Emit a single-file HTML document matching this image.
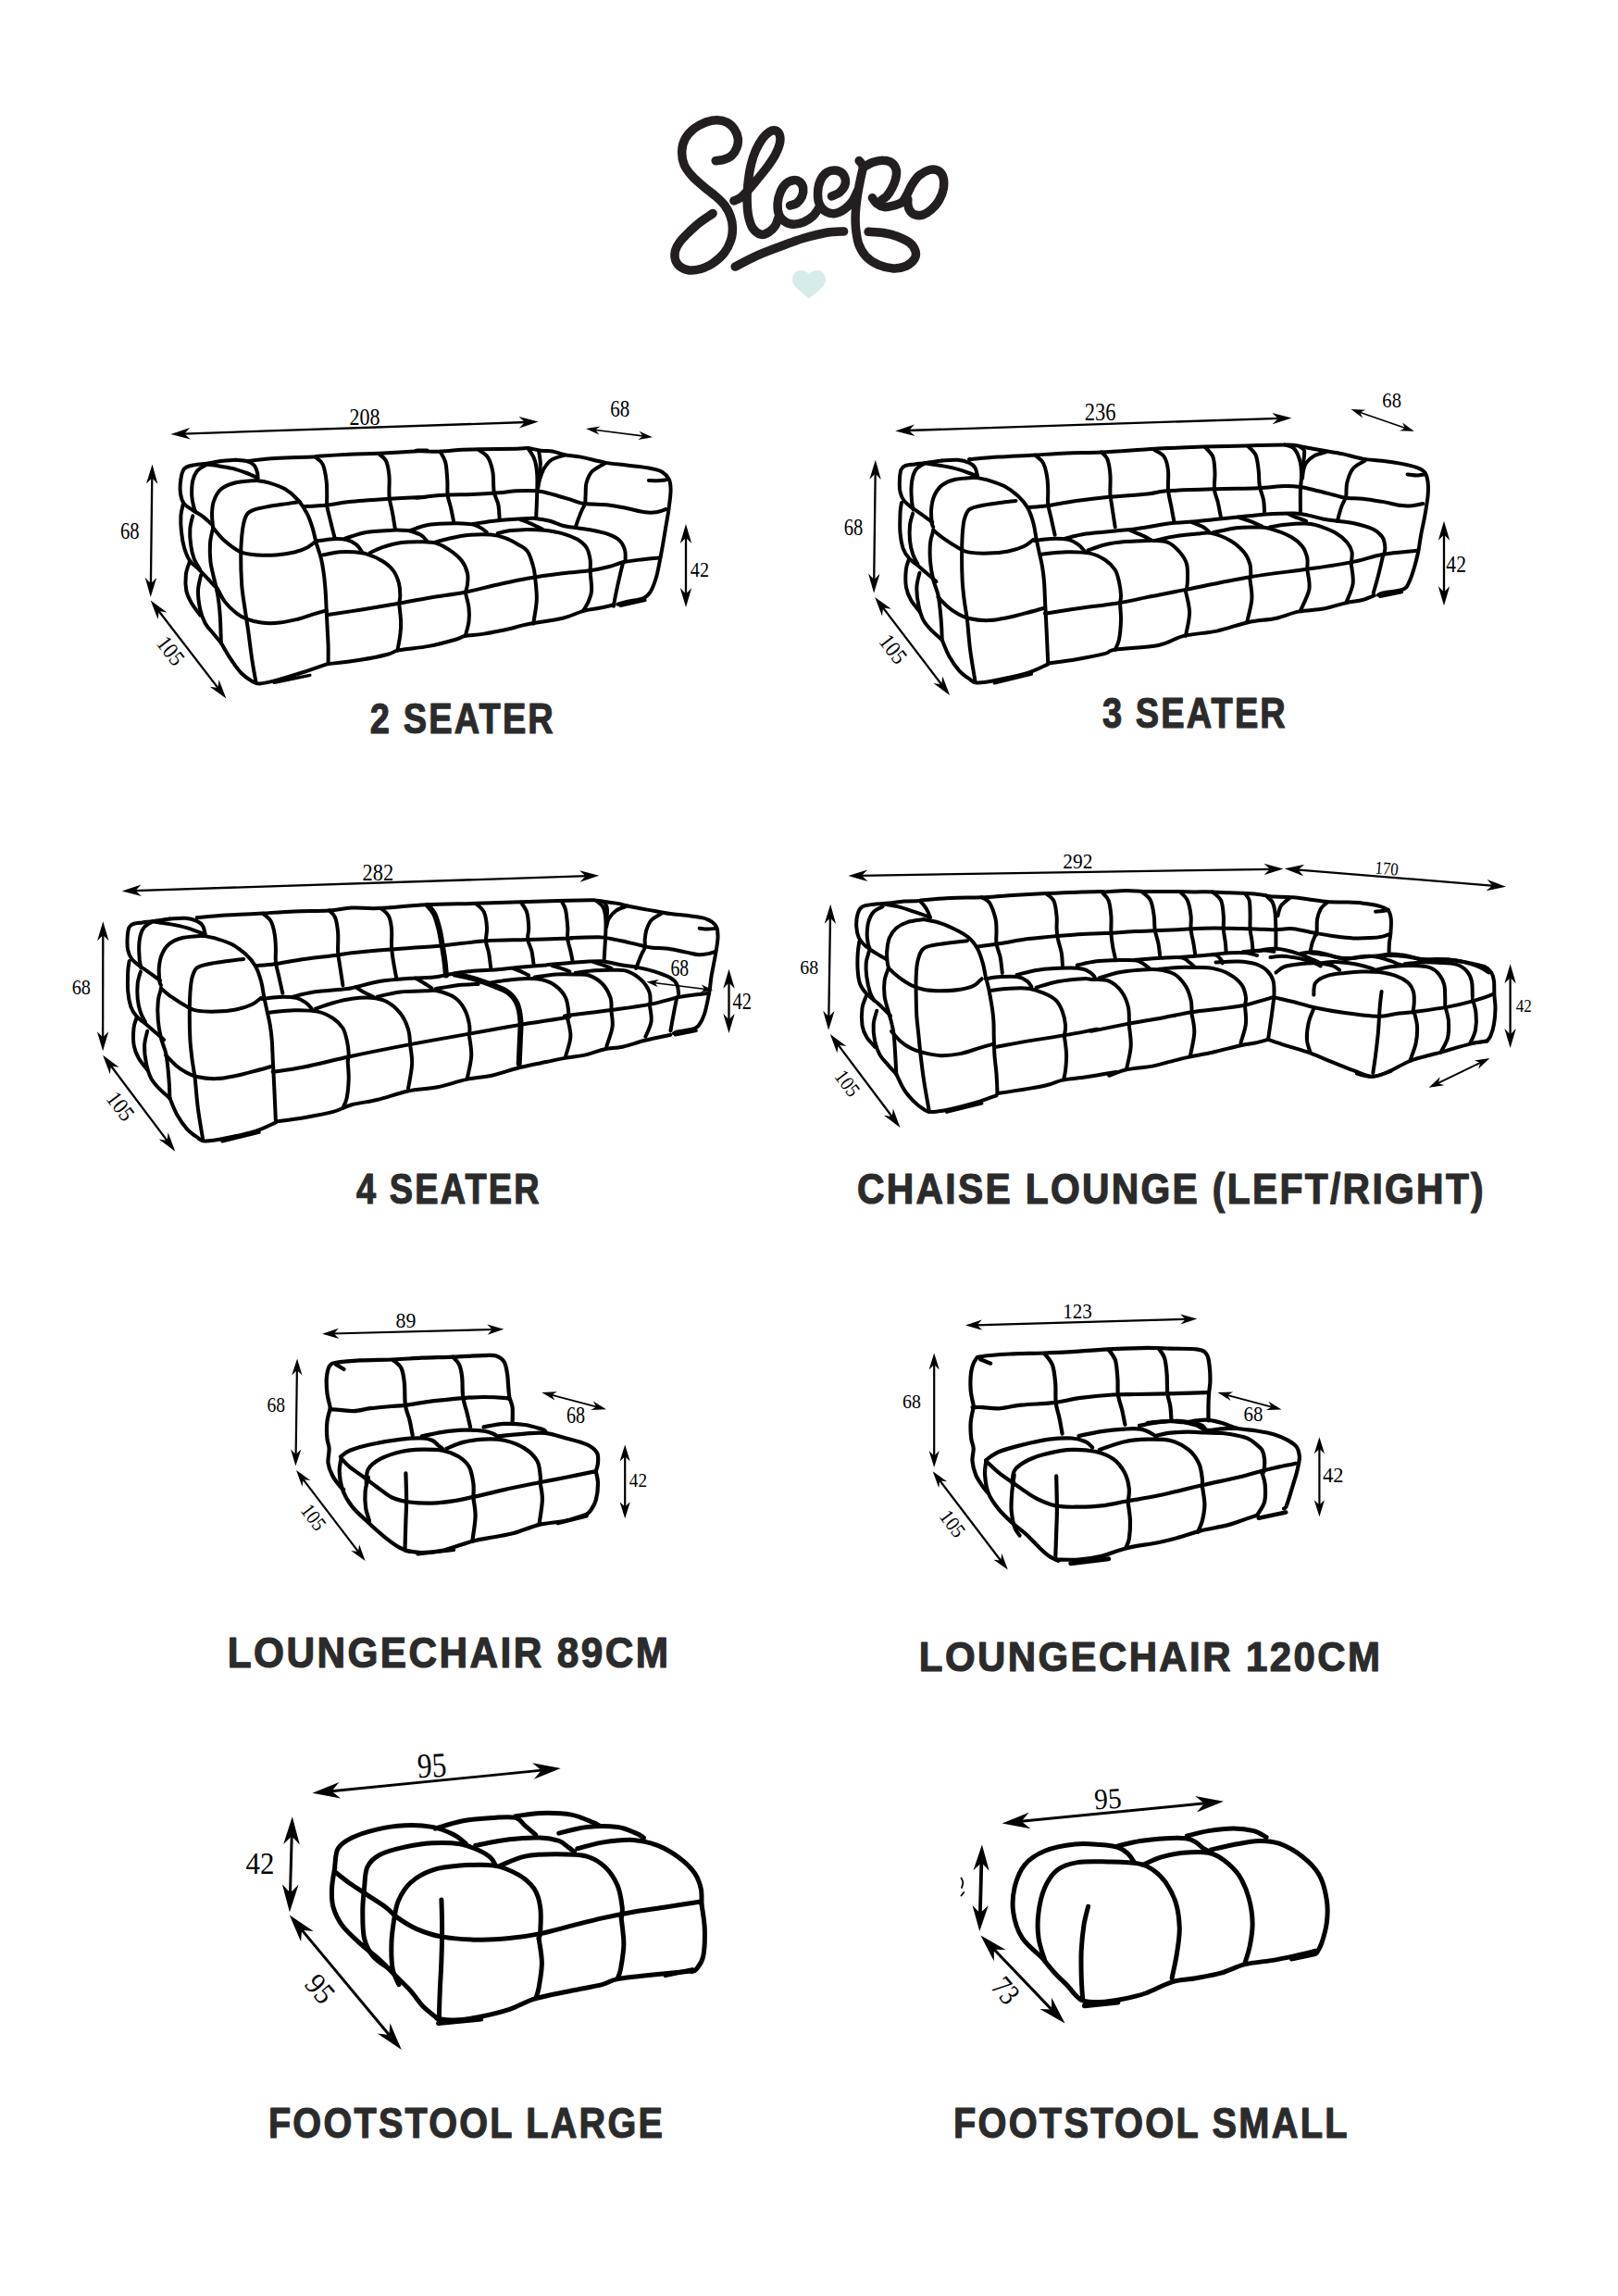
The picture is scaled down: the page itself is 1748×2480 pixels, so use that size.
<!DOCTYPE html>
<html><head><meta charset="utf-8"><title>Sleepo</title>
<style>html,body{margin:0;padding:0;background:#fff;}svg{display:block;}</style></head>
<body><svg width="1748" height="2480" viewBox="0 0 1748 2480">
<rect width="1748" height="2480" fill="#fff"/>
<path d="M773.2 173.7 C774.6 173.5 778.9 173.3 781.8 172.4 C784.7 171.5 788.1 170.3 790.5 168.1 C792.8 165.9 794.9 162.5 796 159.4 C797.2 156.4 797.7 152.9 797.3 149.6 C796.8 146.3 795.5 142.6 793.5 139.7 C791.6 136.8 788.7 133.9 785.5 132.2 C782.3 130.6 778.3 129.8 774.4 129.8 C770.5 129.8 766.1 130.7 762 132.2 C757.9 133.8 753.3 136.2 749.7 139 C746.1 141.9 742.6 145.5 740.4 149.6 C738.2 153.6 736.9 158.4 736.7 163.2 C736.5 167.9 737.3 173.5 739.2 178 C741 182.5 744.2 186.3 747.8 190.3 C751.4 194.4 756.6 198.5 760.8 202.1 C765 205.7 769.4 208.7 773.2 212 C776.9 215.3 780.4 218.3 783 221.9 C785.7 225.5 787.8 229.6 789.2 233.6 C790.6 237.6 791.4 241.6 791.4 246 C791.5 250.3 791 255 789.5 259.6 C788 264.1 785.7 269 782.4 273.2 C779.2 277.3 774.3 281.4 770.1 284.3 C765.8 287.2 761.3 289.2 757.1 290.5 C752.9 291.7 748.4 292.4 744.7 292 C741 291.5 737.3 289.9 734.8 288 C732.3 286.1 730.5 283.5 729.6 280.6 C728.8 277.7 728.8 273.9 729.6 270.7 C730.5 267.4 732.1 264.4 734.6 261.1 C737.1 257.7 741.2 253.7 744.7 250.3 C748.3 246.9 751.6 243.7 755.8 240.4 C760.1 237.1 767.7 232.2 770.1 230.5" fill="none" stroke="#231f20" stroke-width="9.5" stroke-linecap="round" stroke-linejoin="round"/>
<path d="M792.9 216.9 C794.2 216.3 797.7 215.3 800.3 213.2 C803 211.2 805.9 208 809 204.6 C812.1 201.2 815.6 196.8 818.9 192.8 C822.2 188.8 825.7 184.7 828.8 180.5 C831.9 176.2 835.2 171.7 837.4 167.5 C839.7 163.3 841.6 158.8 842.4 155.1 C843.2 151.4 843 147.6 842.1 145.2 C841.3 142.9 839.2 141.4 837.4 140.9 C835.6 140.4 833.5 140.9 831.2 142.4 C829 143.8 826.3 146.2 823.8 149.6 C821.4 152.9 818.5 157.9 816.4 162.5 C814.4 167.2 812.8 171.9 811.5 177.4 C810.1 182.8 809.1 189.2 808.4 195.3 C807.7 201.4 807.1 207.7 807.1 213.8 C807.1 220 807.4 226.9 808.4 232.4 C809.4 237.8 811 243.1 813.3 246.6 C815.7 250.1 819.6 252.8 822.6 253.4 C825.6 254 828.8 251.8 831.2 250.3 C833.7 248.8 835.9 246.5 837.4 244.1 C839 241.7 840 237.4 840.5 236.1" fill="none" stroke="#231f20" stroke-width="9.5" stroke-linecap="round" stroke-linejoin="round"/>
<path d="M853.5 221.9 C854.7 221.5 858.8 221 860.9 219.4 C863.1 217.7 865.3 214.7 866.5 212 C867.6 209.3 868.1 205.9 867.7 203.3 C867.3 200.7 865.8 198 864 196.5 C862.3 195.1 859.7 194.4 857.2 194.7 C854.7 195 851.5 196.2 849.2 198.4 C846.8 200.5 844.5 204 843 207.7 C841.5 211.3 840.4 215.9 840.1 220 C839.9 224.1 840.4 229.1 841.8 232.4 C843.2 235.7 845.9 238.1 848.6 239.8 C851.2 241.4 854.5 242.3 857.8 242.3 C861.1 242.3 864.9 241.2 868.3 239.8 C871.7 238.3 875.5 236.1 878.2 233.6 C880.9 231.1 883.4 226.4 884.4 225" fill="none" stroke="#231f20" stroke-width="9.5" stroke-linecap="round" stroke-linejoin="round"/>
<path d="M898.5 212 C900 211.3 904.8 209.8 907.2 207.7 C909.6 205.5 912.4 202.1 913.1 199 C913.8 195.9 913 191.6 911.5 189.1 C910 186.6 907.1 184.7 904.1 184.2 C901.1 183.7 896.6 184.2 893.6 186 C890.6 187.9 887.9 191.5 886.2 195.3 C884.5 199.1 883.6 204.6 883.5 208.9 C883.4 213.2 884.1 218 885.6 221.2 C887 224.5 889.6 227.1 892.4 228.7 C895.1 230.2 899 230.9 902.2 230.5 C905.5 230.1 909 228.4 912.1 226.2 C915.2 224 918.4 220.8 920.8 217.5 C923.2 214.2 925.4 208.3 926.4 206.4" fill="none" stroke="#231f20" stroke-width="9.5" stroke-linecap="round" stroke-linejoin="round"/>
<path d="M928.2 173.6 C928.8 174.6 931.9 176.9 932.2 179.7 C932.6 182.5 931 186.5 930.2 190.6 C929.4 194.7 928.3 199.7 927.5 204.2 C926.7 208.7 926 213.3 925.4 217.8 C924.9 222.3 924.4 226.7 924.2 231.4 C924.1 236.1 923.9 240.7 924.5 246 C925.1 251.3 925.7 258.1 927.6 263.3 C929.4 268.4 932 273.1 935.6 276.9 C939.2 280.7 944.3 284 949.2 286.1 C954.2 288.3 960.3 289.6 965.3 289.9 C970.2 290.1 975.1 289.1 978.9 287.4 C982.7 285.6 986.5 282.1 988.2 279.3 C989.8 276.6 989.7 273.6 988.8 270.7 C987.8 267.8 985.9 264.6 982.6 262 C979.3 259.5 973.7 257 969 255.2 C964.3 253.5 959.3 252.4 954.2 251.5 C949 250.7 940.8 250.5 938.1 250.3" fill="none" stroke="#231f20" stroke-width="9.5" stroke-linecap="round" stroke-linejoin="round"/>
<path d="M933.6 180.4 C935.1 179.6 939 176.8 942.4 175.6 C945.8 174.4 950.5 173.2 954 173.3 C957.5 173.3 961.1 174.2 963.5 176 C965.9 177.7 967.6 180.9 968.3 183.8 C968.9 186.7 968.4 190 967.6 193.3 C966.8 196.6 965.1 200.5 963.5 203.5 C961.9 206.6 960 209.5 958.1 211.7 C956.1 213.8 953 215.6 952 216.4" fill="none" stroke="#231f20" stroke-width="9.5" stroke-linecap="round" stroke-linejoin="round"/>
<path d="M942.4 213.7 C943.2 214.7 945 218.2 947.2 219.8 C949.3 221.5 952.2 223.2 955.4 223.6 C958.5 223.9 963.1 222.7 966.2 221.9 C969.4 221 972.1 220.4 974.4 218.5 C976.7 216.5 978 213.5 979.8 210.3 C981.6 207.1 983 202.9 985.3 199.4 C987.5 195.9 990.3 191.9 993.4 189.2 C996.6 186.6 1001 184.3 1004.3 183.5 C1007.6 182.6 1010.7 182.8 1013.1 184.1 C1015.6 185.4 1017.9 188 1018.9 191.3 C1019.9 194.5 1019.9 199.4 1019.3 203.5 C1018.6 207.6 1017 212 1014.8 215.7 C1012.7 219.5 1009.3 223.6 1006.3 226.3 C1003.3 229 999.9 231.2 996.8 232.1 C993.8 233 990.3 232.5 988 231.7 C985.7 230.9 984.1 229.1 982.9 227.3 C981.7 225.5 981.2 223.2 980.8 221.2 C980.5 219.1 980.8 216.1 980.8 215.1" fill="none" stroke="#231f20" stroke-width="9.5" stroke-linecap="round" stroke-linejoin="round"/>
<path d="M794.2 288 C798.3 285.9 810.6 279.3 818.9 275.6 C827.1 272 835.4 269 843.6 266 C851.9 262.9 860.1 259.8 868.3 257.3 C876.6 254.9 885.8 252.4 893.1 251.2 C900.3 249.9 908.5 250.1 911.6 249.9" fill="none" stroke="#231f20" stroke-width="9.5" stroke-linecap="round" stroke-linejoin="round"/>
<path d="M874 296.5 C870 290 856 289.5 856 302.5 C856.5 310 866 315.5 874 322.6 C882 315.5 891.5 310 892 302.5 C892 289.5 878 290 874 296.5 Z" fill="#d6ecea"/>
<g transform="translate(401.1 791.9) scale(0.8274 1)"><text x="-1.6" y="0" font-family="Liberation Sans" font-weight="bold" font-size="45.93" letter-spacing="2.6" fill="#2b2b2b" stroke="#2b2b2b" stroke-width="1.2" stroke-linejoin="round">2 SEATER</text></g>
<g transform="translate(1191.8 786.4) scale(0.8220 1)"><text x="-1.1" y="0" font-family="Liberation Sans" font-weight="bold" font-size="46.22" letter-spacing="2.6" fill="#2b2b2b" stroke="#2b2b2b" stroke-width="1.2" stroke-linejoin="round">3 SEATER</text></g>
<g transform="translate(385.5 1300.2) scale(0.8260 1)"><text x="-0.7" y="0" font-family="Liberation Sans" font-weight="bold" font-size="45.93" letter-spacing="2.6" fill="#2b2b2b" stroke="#2b2b2b" stroke-width="1.2" stroke-linejoin="round">4 SEATER</text></g>
<g transform="translate(927.6 1300.1) scale(0.8915 1)"><text x="-1.9" y="0" font-family="Liberation Sans" font-weight="bold" font-size="45.79" letter-spacing="2.6" fill="#2b2b2b" stroke="#2b2b2b" stroke-width="1.2" stroke-linejoin="round">CHAISE LOUNGE (LEFT/RIGHT)</text></g>
<g transform="translate(248.6 1801.1) scale(0.9257 1)"><text x="-3.1" y="0" font-family="Liberation Sans" font-weight="bold" font-size="45.79" letter-spacing="2.6" fill="#2b2b2b" stroke="#2b2b2b" stroke-width="1.2" stroke-linejoin="round">LOUNGECHAIR 89CM</text></g>
<g transform="translate(995.6 1805) scale(0.9292 1)"><text x="-3" y="0" font-family="Liberation Sans" font-weight="bold" font-size="45.20" letter-spacing="2.6" fill="#2b2b2b" stroke="#2b2b2b" stroke-width="1.2" stroke-linejoin="round">LOUNGECHAIR 120CM</text></g>
<g transform="translate(292.6 2309.2) scale(0.8624 1)"><text x="-3.1" y="0" font-family="Liberation Sans" font-weight="bold" font-size="45.93" letter-spacing="2.6" fill="#2b2b2b" stroke="#2b2b2b" stroke-width="1.2" stroke-linejoin="round">FOOTSTOOL LARGE</text></g>
<g transform="translate(1032.6 2309.2) scale(0.8663 1)"><text x="-3.1" y="0" font-family="Liberation Sans" font-weight="bold" font-size="45.93" letter-spacing="2.6" fill="#2b2b2b" stroke="#2b2b2b" stroke-width="1.2" stroke-linejoin="round">FOOTSTOOL SMALL</text></g>
<path d="M254.7 496.8 C256.7 497 263.3 497 266.6 498 C269.9 498.9 272.6 500.4 274.5 502.5 C276.4 504.6 277.4 508.1 278 510.4 C278.7 512.7 278.4 515.4 278.4 516.4" fill="none" stroke="#000" stroke-width="4.0" stroke-linecap="round" stroke-linejoin="round"/>
<path d="M223.1 501.5 C225 501.8 230.3 502.4 234.9 503.1 C239.5 503.8 245.5 504.6 250.8 505.9 C256 507.2 262 509.3 266.6 511 C271.2 512.8 276.5 515.5 278.4 516.4" fill="none" stroke="#000" stroke-width="4.0" stroke-linecap="round" stroke-linejoin="round"/>
<path d="M266.6 498 C271.9 497.5 286.4 495.7 298.2 495 C310.1 494.3 330.2 494 337.8 493.6 C345.4 493.3 337.1 493.3 343.7 492.8 C350.3 492.3 366.5 491.2 377.3 490.7 C388.2 490.1 395.2 490.3 409 489.7 C422.8 489 453.2 487.2 460 486.7 C466.8 486.2 447.1 486.5 449.7 486.7 C452.2 486.9 467.1 487.9 475.4 487.7 C483.6 487.5 491.9 486.1 499.1 485.7 C506.4 485.3 509 485.5 518.9 485.3 C528.8 485.2 549.9 484.9 558.4 484.7 C567 484.5 566 483.8 570.3 484.1 C574.6 484.5 579.5 486.1 584.2 486.7 C588.8 487.3 593.7 486.9 598 487.7 C602.3 488.4 604.9 490.3 609.9 491.2 C614.8 492.2 620.4 492.2 627.7 493.6 C634.9 495 645.1 498.1 653.4 499.6 C661.6 501 669.2 501.5 677.1 502.5 C685 503.5 694.6 504.3 700.8 505.5 C707.1 506.6 711.1 507.5 714.7 509.4 C718.3 511.4 720.9 514.1 722.6 517.4 C724.2 520.7 724.6 523.9 724.6 529.2 C724.6 534.5 723.5 542.1 722.6 549 C721.7 555.9 720.2 563.8 719 570.8 C717.9 577.7 716.7 584.6 715.7 590.5 C714.6 596.5 713.9 600.7 712.7 606.4 C711.6 612 710.4 618.7 708.8 624.2 C707.1 629.6 705.1 635.3 702.8 639 C700.5 642.7 699.2 644.5 694.9 646.3 C690.6 648.1 681.7 648.8 677.1 649.9 C672.5 651 668.9 652.3 667.2 652.8" fill="none" stroke="#000" stroke-width="4.0" stroke-linecap="round" stroke-linejoin="round"/>
<path d="M340.7 493.6 C342.1 494.9 346.7 497.2 348.7 501.5 C350.6 505.8 351.9 513.7 352.6 519.3 C353.4 524.9 353.1 530.7 353.2 535.2 C353.3 539.6 352.8 542.4 353.2 546 C353.6 549.7 354.7 553.1 355.6 556.9 C356.5 560.7 357.6 564.8 358.5 568.8 C359.5 572.7 361 578.7 361.5 580.6" fill="none" stroke="#000" stroke-width="4.0" stroke-linecap="round" stroke-linejoin="round"/>
<path d="M409 490.1 C410.3 491.3 415 493.7 416.9 497.6 C418.8 501.5 419.9 508.1 420.4 513.4 C421 518.7 420.4 524.9 420.4 529.2 C420.5 533.5 420.3 535.2 420.8 539.1 C421.4 543.1 422.8 547.7 423.8 553 C424.8 558.2 426.3 567.8 426.8 570.8" fill="none" stroke="#000" stroke-width="4.0" stroke-linecap="round" stroke-linejoin="round"/>
<path d="M475.4 487.7 C476.4 489.7 480 494.3 481.3 499.6 C482.6 504.8 482.9 513.4 483.3 519.3 C483.7 525.3 483 530.2 483.7 535.2 C484.3 540.1 486.2 544.2 487.2 549 C488.3 553.8 489.7 561.4 490.2 563.8" fill="none" stroke="#000" stroke-width="4.0" stroke-linecap="round" stroke-linejoin="round"/>
<path d="M516.9 485.7 C518.6 487 524.2 489.7 526.8 493.6 C529.4 497.6 531.2 503.2 532.3 509.4 C533.5 515.7 532.7 525.3 533.7 531.2 C534.7 537.1 537.3 540.1 538.3 545 C539.3 550 539.4 558.2 539.7 560.9" fill="none" stroke="#000" stroke-width="4.0" stroke-linecap="round" stroke-linejoin="round"/>
<path d="M570.3 484.1 C571.5 486 575.6 491.1 577.2 495.6 C578.9 500.1 579.7 505.2 580.2 511.4 C580.7 517.7 580.4 525.3 580.2 533.2 C580 541.1 579.4 554.6 579.2 558.9" fill="none" stroke="#000" stroke-width="4.0" stroke-linecap="round" stroke-linejoin="round"/>
<path d="M582.2 487.7 C582.4 489.7 583.6 495.6 583.8 499.6 C583.9 503.5 583.5 507.8 583.2 511.4 C582.8 515 582 519.7 581.8 521.3" fill="none" stroke="#000" stroke-width="4.0" stroke-linecap="round" stroke-linejoin="round"/>
<path d="M609.9 491.6 C607.6 492.5 599.6 494.3 596 496.6 C592.4 498.9 590.3 502 588.1 505.5 C586 508.9 584.3 513.7 583.2 517.4 C582 521 581.5 525.6 581.2 527.2" fill="none" stroke="#000" stroke-width="4.0" stroke-linecap="round" stroke-linejoin="round"/>
<path d="M327.9 547 C332.2 546.8 345.4 546.3 353.6 545.4 C361.8 544.6 366.8 543.1 377.3 542.1 C387.9 541 403.1 540 416.9 539.1 C430.7 538.2 454.5 537 460 536.7 C465.5 536.5 446.4 538.1 449.7 537.7 C452.9 537.4 469.4 535.4 479.3 534.8 C489.2 534.1 499.1 534.4 509 534 C518.9 533.5 530.4 532.8 538.7 532.2 C546.9 531.6 551.5 530.5 558.4 530.2 C565.4 529.9 573.6 529.6 580.2 530.2 C586.8 530.9 591.7 532.5 598 534.2 C604.3 535.8 612.2 538.5 617.8 540.1 C623.4 541.7 625 543.2 631.6 544.1 C638.2 544.9 649.7 544.6 657.3 545.4 C664.9 546.3 670.5 547.7 677.1 549 C683.7 550.3 691.6 552.6 696.9 553.3 C702.2 554.1 705 553.9 708.8 553.3 C712.5 552.8 717.8 550.5 719.6 550" fill="none" stroke="#000" stroke-width="4.0" stroke-linecap="round" stroke-linejoin="round"/>
<path d="M653.4 500.5 C651.1 502 642.8 506 639.5 509.4 C636.2 512.9 634.8 517 633.6 521.3 C632.4 525.6 632.9 531.4 632.6 535.2 C632.3 538.9 632.7 541.4 632 544.1 C631.4 546.7 629.9 548.2 628.7 551 C627.4 553.8 625.9 557.7 624.7 560.9 C623.5 564 622.2 568.3 621.7 569.8" fill="none" stroke="#000" stroke-width="4.0" stroke-linecap="round" stroke-linejoin="round"/>
<path d="M700.8 518.9 C702.5 519 707.6 519.4 710.7 519.3 C713.9 519.2 718.1 518.5 719.6 518.3" fill="none" stroke="#000" stroke-width="4.0" stroke-linecap="round" stroke-linejoin="round"/>
<path d="M373 581.5 C377 580.4 387.8 576.3 396.7 574.8 C405.6 573.3 418.8 572.9 426.4 572.6 C434.1 572.4 440 573.2 442.7 573.3" fill="none" stroke="#000" stroke-width="4.0" stroke-linecap="round" stroke-linejoin="round"/>
<path d="M442.7 573.1 C446.2 572 455.1 568 463.5 566.7 C471.9 565.4 485.3 565.3 493.2 565.2 C501.1 565.1 508 566.1 511 566.2" fill="none" stroke="#000" stroke-width="4.0" stroke-linecap="round" stroke-linejoin="round"/>
<path d="M511 565.9 C515.4 565.3 527.8 563.2 537.7 562.2 C547.5 561.2 563.2 560.4 570 560 C576.8 559.6 574.2 559.4 578.2 559.9 C582.2 560.4 589.1 561.5 594 562.8 C599 564.2 603.6 566.6 607.9 567.8 C612.2 568.9 614.8 569 619.8 569.8 C624.7 570.5 631.3 571.1 637.6 572.3 C643.8 573.6 652.1 575.2 657.3 577.1 C662.6 579 666.2 580.7 669.2 583.6 C672.2 586.5 674.1 590.7 675.1 594.5 C676.2 598.3 675.5 604.4 675.5 606.4" fill="none" stroke="#000" stroke-width="4.0" stroke-linecap="round" stroke-linejoin="round"/>
<path d="M442.7 573.3 C444.7 574.1 451.4 575.8 454.6 577.8 C457.8 579.8 460.8 584 462 585.2" fill="none" stroke="#000" stroke-width="4.0" stroke-linecap="round" stroke-linejoin="round"/>
<path d="M511 566.2 C512.4 566.9 517.4 568.9 519.9 570.4 C522.3 571.8 524.8 574.1 525.8 574.8" fill="none" stroke="#000" stroke-width="4.0" stroke-linecap="round" stroke-linejoin="round"/>
<path d="M562.4 561.3 C564.7 562.2 572.3 565.1 576.2 566.8 C580.2 568.5 584.5 570.9 586.1 571.7" fill="none" stroke="#000" stroke-width="4.0" stroke-linecap="round" stroke-linejoin="round"/>
<path d="M349.3 599.3 C352.2 598.8 361.6 596.8 367.1 596.3 C372.5 595.8 377 596 381.9 596.3 C386.9 596.7 391.6 597 396.7 598.6 C401.9 600.2 408.4 603 413.1 606 C417.8 608.9 422 612.4 424.9 616.4 C427.9 620.3 429.6 625.3 430.9 629.7 C432.1 634.2 432.3 639.4 432.3 643.1 C432.4 646.8 431.4 650.5 431.2 652" fill="none" stroke="#000" stroke-width="4.0" stroke-linecap="round" stroke-linejoin="round"/>
<path d="M431.2 652 C431.5 655.2 432.9 665.6 433.1 671.2 C433.3 676.9 433 680.9 432.3 686.1 C431.7 691.3 429.9 699.7 429.4 702.4" fill="none" stroke="#000" stroke-width="4.0" stroke-linecap="round" stroke-linejoin="round"/>
<path d="M399.7 597.1 C401.9 596.1 407.4 593 413.1 591.1 C418.8 589.3 426.7 586.9 433.8 586 C441 585 449.9 585.1 456.1 585.2 C462.3 585.3 466 585.2 470.9 586.7 C475.9 588.2 481.1 590.9 485.7 594.1 C490.4 597.3 495.9 601.8 499.1 606 C502.3 610.2 504 615.1 505 619.3 C506 623.5 505.4 627.7 505 631.2 C504.7 634.7 503.2 638.6 502.8 640.1" fill="none" stroke="#000" stroke-width="4.0" stroke-linecap="round" stroke-linejoin="round"/>
<path d="M502.8 640.1 C503.4 642.8 505.9 651.2 506.5 656.4 C507.1 661.6 507.1 666.2 506.5 671.2 C505.9 676.3 503.4 684.2 502.8 686.8" fill="none" stroke="#000" stroke-width="4.0" stroke-linecap="round" stroke-linejoin="round"/>
<path d="M469.4 586 C472.2 585.2 479.3 582.9 485.7 581.5 C492.2 580.1 500.6 578.5 508 577.8 C515.4 577.1 524.1 577 530.2 577.5 C536.4 578 540.1 579 545.1 580.8 C550 582.5 555.8 585.7 559.9 588.2 C564.1 590.7 567.3 591.6 570 595.6 C572.7 599.6 574.9 607.5 576.2 612.3 C577.6 617 577.9 622.2 578.2 624.2" fill="none" stroke="#000" stroke-width="4.0" stroke-linecap="round" stroke-linejoin="round"/>
<path d="M578.2 624.2 C578.5 628.1 580.1 639.6 579.8 647.9 C579.5 656.1 576.8 669.3 576.2 673.6" fill="none" stroke="#000" stroke-width="4.0" stroke-linecap="round" stroke-linejoin="round"/>
<path d="M537.7 576 C540.1 575.5 547.1 573.7 552.5 573.1 C557.9 572.4 564 572 569.9 571.9 C575.8 571.9 581.8 572 588.1 572.7 C594.4 573.5 602 574.6 607.9 576.3 C613.8 577.9 619.4 580.1 623.7 582.6 C628 585.2 631.3 587.9 633.6 591.5 C635.9 595.1 636.9 600.1 637.6 604.4 C638.2 608.7 637.6 615.1 637.6 617.2" fill="none" stroke="#000" stroke-width="4.0" stroke-linecap="round" stroke-linejoin="round"/>
<path d="M637.6 617.2 C637.8 620.7 639.5 632.6 639.1 638 C638.8 643.4 637.1 646.2 635.6 649.9 C634.1 653.5 631 658.1 630 659.8" fill="none" stroke="#000" stroke-width="4.0" stroke-linecap="round" stroke-linejoin="round"/>
<path d="M673.2 607.3 C672.3 610.8 669.8 621 668.2 628.1 C666.6 635.2 664.5 645.4 663.7 649.9 C662.8 654.3 663 654 662.9 654.8" fill="none" stroke="#000" stroke-width="4.0" stroke-linecap="round" stroke-linejoin="round"/>
<path d="M354.5 664.1 C360.8 663.1 379.6 660.3 392.3 658.2 C405 656.1 418.5 653.8 430.9 651.7 C443.2 649.5 454.6 647.3 466.5 645.3 C478.3 643.3 490.2 642 502.1 639.7 C513.9 637.4 526.3 634 537.7 631.5 C549 629 558.3 626.7 570 624.7 C581.7 622.6 596.6 620.6 607.9 619.2 C619.1 617.8 629.3 617.4 637.6 616.2 C645.8 615.1 651.4 613.8 657.3 612.3 C663.3 610.8 667.2 608.7 673.2 607.3 C679.1 606 686.3 605.2 692.9 604.4 C699.5 603.6 709.4 602.7 712.7 602.4" fill="none" stroke="#000" stroke-width="4.0" stroke-linecap="round" stroke-linejoin="round"/>
<path d="M354.5 717.2 C360.3 716.5 378.6 714.5 389.3 712.8 C400.1 711.1 412.1 708.6 419 706.8 C425.9 705.1 423.4 703.9 430.9 702.4 C438.3 700.9 453.1 699.9 463.5 697.9 C473.9 696 486.6 692.4 493.2 690.5 C499.7 688.7 497.9 687.8 502.8 686.8 C507.8 685.8 514.5 686 522.8 684.6 C531.1 683.2 544.6 680.4 552.5 678.7 C560.4 676.9 560.8 676 570 674.2 C579.2 672.4 597.9 670 607.9 667.7 C617.8 665.3 623 662 629.6 660.1 C636.2 658.3 641.8 657.9 647.4 656.8 C653 655.7 660.6 654 663.3 653.4" fill="none" stroke="#000" stroke-width="4.0" stroke-linecap="round" stroke-linejoin="round"/>
<path d="M254.7 496.8 C252.1 497 244.2 497.3 238.9 498 C233.6 498.6 228.3 500 223.1 500.7 C217.8 501.5 211.3 501.8 207.2 502.7 C203.2 503.7 200.9 504 198.9 506.5 C197 508.9 196 512.9 195.4 517.4 C194.7 521.8 194.4 528.7 195 533.2 C195.6 537.6 196.7 541.1 198.9 544.1 C201.1 547 204.9 548.7 208.2 551 C211.6 553.3 215.6 555.3 219.1 557.9 C222.6 560.5 227.4 565.3 229 566.8" fill="none" stroke="#000" stroke-width="4.0" stroke-linecap="round" stroke-linejoin="round"/>
<path d="M197.8 544.6 C197.4 546.7 195.7 551.9 195.4 556.9 C195.1 561.9 195.3 568.8 196 574.7 C196.6 580.6 197.8 587.3 199.3 592.5 C200.9 597.7 202.6 602.2 205.3 606 C207.9 609.7 210.7 610.7 215.2 615.3 C219.6 619.8 229.2 630.1 232 633.1" fill="none" stroke="#000" stroke-width="4.0" stroke-linecap="round" stroke-linejoin="round"/>
<path d="M204.9 606.7 C204.2 609 201.5 615 200.9 620.2 C200.3 625.4 200.3 632.8 201.3 638 C202.3 643.2 204.3 646.8 206.8 651.2 C209.4 655.7 214.8 662.3 216.3 664.5" fill="none" stroke="#000" stroke-width="4.0" stroke-linecap="round" stroke-linejoin="round"/>
<path d="M223.1 501.9 C221.4 503 215.6 505.6 213.2 508.5 C210.7 511.4 209.2 514.9 208.2 519.3 C207.2 523.8 207.1 530.5 207.2 535.2 C207.4 539.8 208.5 544 209.2 547 C209.9 550.1 211.2 552.3 211.6 553.3" fill="none" stroke="#000" stroke-width="4.0" stroke-linecap="round" stroke-linejoin="round"/>
<path d="M208.2 557.3 C207.7 559.7 205.6 566.4 205.3 571.7 C204.9 577.1 205.5 584.3 206.3 589.5 C207 594.8 208 599.1 209.6 603.4 C211.3 607.7 215.1 613.3 216.1 615.3" fill="none" stroke="#000" stroke-width="4.0" stroke-linecap="round" stroke-linejoin="round"/>
<path d="M217.1 621.2 C216.6 624 214.1 631.9 214 638 C213.8 644.1 214.9 651.7 216.1 657.6 C217.4 663.4 219.2 668.7 221.7 673.2 C224.2 677.8 228.1 681.3 231 684.9 C233.8 688.4 237.6 692.8 238.9 694.4" fill="none" stroke="#000" stroke-width="4.0" stroke-linecap="round" stroke-linejoin="round"/>
<path d="M276.5 518.9 C272.8 519.3 261 519.8 254.7 521.3 C248.4 522.9 242.8 524.9 238.9 528.2 C234.9 531.5 232.6 536.6 231 541.1 C229.3 545.5 229.2 550.4 229 554.9 C228.8 559.5 229.8 566.1 230 568.4" fill="none" stroke="#000" stroke-width="4.0" stroke-linecap="round" stroke-linejoin="round"/>
<path d="M230 570.8 C229.5 573.4 227.4 580.6 227 586.6 C226.6 592.5 226.8 600.4 227.4 606.4 C228 612.3 229.5 617.2 230.6 622.2 C231.7 627.1 233 631.4 233.9 636 C234.9 640.6 235.7 644.6 236.3 649.9 C237 655.1 237.5 660.2 237.9 667.7 C238.3 675.1 238.7 689.9 238.9 694.4" fill="none" stroke="#000" stroke-width="4.0" stroke-linecap="round" stroke-linejoin="round"/>
<path d="M276.5 518.9 C278.8 519.3 285 519.8 290.3 521.3 C295.6 522.9 302.8 525.1 308.1 528.2 C313.4 531.4 318 535.6 322 540.1 C325.9 544.5 329.2 549.8 331.8 554.9 C334.5 560 336.1 565.5 337.8 570.8 C339.4 576 340.2 581.3 341.7 586.6 C343.2 591.9 345.4 597.1 346.7 602.4 C348 607.7 348.8 612.3 349.6 618.2 C350.5 624.2 351.1 631.4 351.6 638 C352.1 644.6 352.3 651.2 352.6 657.8 C352.9 664.4 353.3 671 353.6 677.6 C353.9 684.1 354.4 690.7 354.6 697.3 C354.8 703.9 354.6 713.8 354.6 717.1" fill="none" stroke="#000" stroke-width="4.0" stroke-linecap="round" stroke-linejoin="round"/>
<path d="M323.9 542.1 C321.6 542.4 315.7 543.2 310.1 544.1 C304.5 544.9 296.2 545.9 290.3 547 C284.4 548.1 278.4 549.1 274.5 550.6 C270.5 552.1 268.6 552.6 266.6 555.9 C264.5 559.3 263.3 563.7 262.2 570.8 C261.2 577.8 260.4 588.2 260.2 598.4 C260.1 608.7 260.5 622.2 261.2 632.1 C262 642 263.4 649.5 264.6 657.8 C265.8 666 266.9 672.6 268.2 681.5 C269.4 690.4 270.7 701.9 272.1 711.2 C273.5 720.4 275.7 732.6 276.5 736.9" fill="none" stroke="#000" stroke-width="4.0" stroke-linecap="round" stroke-linejoin="round"/>
<path d="M230 569.8 C232.1 572.2 237.7 579.8 242.8 584.2 C248 588.7 254.7 593.9 260.6 596.5 C266.6 599 272.2 598.9 278.4 599.4 C284.7 599.9 291.6 599.9 298.2 599.4 C304.8 598.9 312.4 597.8 318 596.5 C323.6 595.1 327.9 593.6 331.8 591.5 C335.8 589.5 340.1 585.4 341.7 584.2" fill="none" stroke="#000" stroke-width="4.0" stroke-linecap="round" stroke-linejoin="round"/>
<path d="M341.9 584.5 C344.8 584.1 354.2 582.5 359.7 582.2 C365.1 582 370.3 582 374.5 583 C378.7 584 382.2 586.1 384.9 588.2 C387.6 590.3 389.8 594.4 390.8 595.6" fill="none" stroke="#000" stroke-width="4.0" stroke-linecap="round" stroke-linejoin="round"/>
<path d="M234.5 635 C235.9 637.5 239.5 645.4 242.8 649.9 C246.2 654.3 250.8 658.6 254.7 661.7 C258.7 664.9 262 666.8 266.6 668.7 C271.2 670.5 276.5 671.9 282.4 672.6 C288.3 673.3 295.6 673.3 302.2 672.6 C308.8 671.9 316 670.1 322 668.7 C327.9 667.2 332.7 665.3 337.8 663.7 C342.9 662.2 350.1 660.1 352.6 659.4" fill="none" stroke="#000" stroke-width="4.0" stroke-linecap="round" stroke-linejoin="round"/>
<path d="M238.9 694.4 C240.5 697.2 245.2 705.7 248.8 711.2 C252.4 716.6 256.7 722.9 260.6 727 C264.6 731.1 269.2 734 272.5 735.9 C275.8 737.8 276.1 738.6 280.4 738.5 C284.7 738.3 290.3 737 298.2 734.9 C306.1 732.8 318.6 729 327.9 726 C337.1 723.1 349.4 718.7 353.7 717.2" fill="none" stroke="#000" stroke-width="4.0" stroke-linecap="round" stroke-linejoin="round"/>
<path d="M296.2 737.3 L334.8 729.4" fill="none" stroke="#000" stroke-width="3.5" stroke-linecap="round" stroke-linejoin="round"/>
<path d="M670.2 654.2 L696.9 648.3" fill="none" stroke="#000" stroke-width="3.5" stroke-linecap="round" stroke-linejoin="round"/>
<path d="M197.1 468.6 L569.1 456" stroke="#000" stroke-width="2.3" fill="none"/>
<path d="M184.5 469 L205.7 474.5 L199.2 468.5 L205.3 462.1 Z" fill="#000"/>
<path d="M581.7 455.6 L560.9 462.5 L567 456.1 L560.5 450.1 Z" fill="#000"/>
<g transform="translate(394.1 450.6) rotate(0) scale(0.8583 1)"><text x="-19.3" y="8.4" font-family="Liberation Serif" font-size="25.64" font-weight="normal" fill="#000">208</text></g>
<path d="M641.9 464.2 L696 471.1" stroke="#000" stroke-width="1.6" fill="none"/>
<path d="M633 463 L647.3 469.5 L643.4 464.3 L648.5 460.4 Z" fill="#000"/>
<path d="M704.9 472.3 L689.4 474.9 L694.5 471 L690.6 465.8 Z" fill="#000"/>
<g transform="translate(669.9 441.2) rotate(0) scale(0.8099 1)"><text x="-13" y="8.5" font-family="Liberation Serif" font-size="25.93" font-weight="normal" fill="#000">68</text></g>
<path d="M164.3 514.2 L162.9 632.3" stroke="#000" stroke-width="2.3" fill="none"/>
<path d="M164.5 501.6 L158 522.5 L164.3 516.3 L170.4 522.7 Z" fill="#000"/>
<path d="M162.7 644.9 L156.8 623.8 L162.9 630.2 L169.2 624 Z" fill="#000"/>
<g transform="translate(140.4 573.9) rotate(0) scale(0.8411 1)"><text x="-12.3" y="8" font-family="Liberation Serif" font-size="24.45" font-weight="normal" fill="#000">68</text></g>
<path d="M741 578.7 L741 643.5" stroke="#000" stroke-width="2.3" fill="none"/>
<path d="M741 566.1 L734.8 587.1 L741 580.8 L747.2 587.1 Z" fill="#000"/>
<path d="M741 656.1 L734.8 635.1 L741 641.4 L747.2 635.1 Z" fill="#000"/>
<g transform="translate(755.6 614.8) rotate(0) scale(0.8469 1)"><text x="-11.5" y="7.9" font-family="Liberation Serif" font-size="23.86" font-weight="normal" fill="#000">42</text></g>
<path d="M170.4 658.5 L236.7 744.6" stroke="#000" stroke-width="2.3" fill="none"/>
<path d="M162.7 648.5 L170.6 668.9 L171.7 660.1 L180.4 661.4 Z" fill="#000"/>
<path d="M244.4 754.6 L226.7 741.7 L235.4 743 L236.5 734.2 Z" fill="#000"/>
<g transform="translate(184.6 703.4) rotate(52.4) scale(0.8936 1)"><text x="-18.9" y="8" font-family="Liberation Serif" font-size="24.45" font-weight="normal" fill="#000">105</text></g>
<path d="M1017.7 497.4 C1014.9 497.8 1005.8 499.3 1000.9 499.9 C996 500.6 992.1 500.9 988.3 501.4 C984.4 501.9 980.2 502.1 977.8 503.1 C975.3 504.1 974.5 504.7 973.5 507.3 C972.6 509.9 972 514.8 971.9 518.8 C971.7 522.9 971.7 527.8 972.5 531.4 C973.3 535.1 974.6 538.1 976.7 540.9 C978.8 543.7 982 545.8 985.1 548.3 C988.3 550.7 991.9 553 995.6 555.6 C999.3 558.2 1005.2 562.6 1007.2 564" fill="none" stroke="#000" stroke-width="4.0" stroke-linecap="round" stroke-linejoin="round"/>
<path d="M1017.7 497.4 C1020.5 497.3 1029.6 496.4 1034.5 496.8 C1039.4 497.2 1043.9 498.5 1047.1 499.9 C1050.2 501.3 1051.9 502.9 1053.4 505.2 C1054.9 507.5 1055.5 512.2 1055.9 513.6" fill="none" stroke="#000" stroke-width="4.0" stroke-linecap="round" stroke-linejoin="round"/>
<path d="M998.8 500.3 C1001.9 500.8 1011.4 501.9 1017.7 503.1 C1024 504.2 1030.2 505.4 1036.6 507.3 C1043 509.1 1052.7 513.1 1055.9 514.2" fill="none" stroke="#000" stroke-width="4.0" stroke-linecap="round" stroke-linejoin="round"/>
<path d="M1047.1 496.1 C1052.3 495.7 1068.1 494.3 1078.6 493.6 C1089.1 492.9 1103.5 492.3 1110.1 491.9 C1116.8 491.6 1111.5 491.9 1118.5 491.5 C1125.5 491.1 1140.3 489.9 1152.2 489.4 C1164.1 488.9 1175.3 489.1 1190 488.4 C1204.6 487.7 1228 485.9 1240 485.2 C1252 484.5 1252.1 484.5 1262 484.1 C1272 483.7 1285.8 483.1 1299.9 482.6 C1313.9 482.2 1331.4 481.7 1346.1 481.4 C1360.8 481 1379.4 480.6 1388.1 480.5 C1396.9 480.4 1395.1 480.5 1398.6 480.9 C1402.1 481.4 1403.9 482.1 1409.1 483 C1414.4 484 1423.1 485.6 1430.1 486.8 C1437.1 488 1444.1 488.9 1451.1 490.4 C1458.2 491.9 1465.2 494.4 1472.2 495.6 C1479.2 496.9 1486.2 496.9 1493.2 497.8 C1500.2 498.6 1507.9 499.7 1514.2 500.9 C1520.5 502.1 1526.8 503.5 1531 505.1 C1535.2 506.7 1537.5 507.7 1539.4 510.4 C1541.3 513 1542 516.7 1542.6 520.9 C1543.1 525.1 1543.1 529.6 1542.6 535.6 C1542 541.5 1540.6 549.6 1539.4 556.6 C1538.2 563.6 1536.4 570.9 1535.2 577.6 C1534 584.3 1533.3 590.6 1532.1 596.5 C1530.8 602.5 1529.4 608.1 1527.8 613.3 C1526.3 618.6 1524.5 624.2 1522.6 628 C1520.7 631.9 1521.2 634.3 1516.3 636.4 C1511.4 638.5 1497.7 639.6 1493.2 640.6 C1488.6 641.7 1489.7 642.4 1489 642.7" fill="none" stroke="#000" stroke-width="4.0" stroke-linecap="round" stroke-linejoin="round"/>
<path d="M1118.5 491.9 C1119.9 493.3 1124.8 496.1 1126.9 499.9 C1129 503.7 1130.3 509.7 1131.1 514.6 C1132 519.5 1132 524.4 1132.2 529.3 C1132.4 534.2 1131.7 539.2 1132.2 544.1 C1132.7 549 1134.1 553.2 1135.4 558.8 C1136.6 564.4 1138.9 574.5 1139.6 577.7" fill="none" stroke="#000" stroke-width="4.0" stroke-linecap="round" stroke-linejoin="round"/>
<path d="M1190 488.4 C1191 489.6 1194.7 491.7 1196.3 495.7 C1197.9 499.8 1198.9 506.2 1199.4 512.5 C1200 518.8 1199.1 527.6 1199.4 533.5 C1199.8 539.5 1200.7 542.3 1201.5 548.3 C1202.4 554.2 1204.2 565.8 1204.7 569.3" fill="none" stroke="#000" stroke-width="4.0" stroke-linecap="round" stroke-linejoin="round"/>
<path d="M1110.1 548.3 C1113.6 547.9 1122.4 547.4 1131.1 546.2 C1139.9 544.9 1151.5 542.5 1162.7 540.9 C1173.9 539.3 1185.5 537.9 1198.4 536.7 C1211.3 535.5 1229.7 534.6 1240 533.5 C1250.3 532.5 1247.8 531.2 1259.9 530.3 C1272 529.4 1296 528.7 1312.5 528.2 C1328.9 527.7 1346.1 527.7 1358.7 527.2 C1371.3 526.6 1380.4 525.2 1388.1 525.1 C1395.8 524.9 1399.7 525.4 1404.9 526.1 C1410.2 526.8 1413.7 527.9 1419.6 529.3 C1425.6 530.7 1435 533.1 1440.6 534.5 C1446.2 535.9 1448 537 1453.3 537.7 C1458.5 538.4 1465.5 538 1472.2 538.7 C1478.8 539.4 1486.2 540.7 1493.2 541.9 C1500.2 543.1 1508.6 545.4 1514.2 546.1 C1519.8 546.8 1522.9 546.4 1526.8 546.1 C1530.7 545.7 1535.6 544.3 1537.3 544" fill="none" stroke="#000" stroke-width="4.0" stroke-linecap="round" stroke-linejoin="round"/>
<path d="M1053.4 515.7 C1055.9 516.2 1062.9 517.3 1068.1 518.8 C1073.4 520.4 1079.7 522.3 1084.9 525.1 C1090.2 527.9 1095.4 531.8 1099.6 535.6 C1103.8 539.5 1107.3 543.4 1110.1 548.3 C1112.9 553.2 1114.9 559.5 1116.4 565.1 C1118 570.7 1118.5 576.6 1119.6 581.9 C1120.6 587.1 1121.7 591.7 1122.7 596.6 C1123.8 601.5 1125 606 1125.9 611.3 C1126.8 616.6 1127.5 621.8 1128 628.1 C1128.5 634.4 1128.7 642.1 1129 649.1 C1129.4 656.1 1129.7 663.1 1130.1 670.1 C1130.4 677.1 1130.8 683.4 1131.1 691.1 C1131.5 698.9 1132 712.2 1132.2 716.4" fill="none" stroke="#000" stroke-width="4.0" stroke-linecap="round" stroke-linejoin="round"/>
<path d="M1053.4 515.7 C1049.9 516 1038.3 516.4 1032.4 517.8 C1026.4 519.2 1021.5 521.1 1017.7 524.1 C1013.8 527.1 1011.2 531.3 1009.3 535.6 C1007.3 540 1006.5 545.5 1006.1 550.4 C1005.7 555.3 1006.4 561.9 1006.7 565.1 C1007.1 568.2 1008 568.6 1008.2 569.3" fill="none" stroke="#000" stroke-width="4.0" stroke-linecap="round" stroke-linejoin="round"/>
<path d="M1097.5 540.9 C1094.7 541.3 1087 542.1 1080.7 543 C1074.4 543.9 1065.3 544.9 1059.7 546.2 C1054.1 547.4 1050.1 547.9 1047.1 550.4 C1044.1 552.8 1043.1 556.3 1041.8 560.9 C1040.6 565.4 1040.2 570.7 1039.7 577.7 C1039.3 584.7 1039.1 594.5 1039.1 602.9 C1039.1 611.3 1039.3 620.4 1039.7 628.1 C1040.2 635.8 1041 642.1 1041.8 649.1 C1042.7 656.1 1043.9 661.4 1045 670.1 C1046 678.9 1046.7 690.8 1048.1 701.7 C1049.5 712.5 1052.5 729.7 1053.4 735.3" fill="none" stroke="#000" stroke-width="4.0" stroke-linecap="round" stroke-linejoin="round"/>
<path d="M1008.2 572.4 C1010.1 574 1015 578.6 1019.8 581.9 C1024.5 585.2 1032 589.9 1036.6 592.4 C1041.1 594.8 1041.8 595.7 1047.1 596.6 C1052.3 597.5 1061.1 597.8 1068.1 597.6 C1075.1 597.5 1082.8 596.8 1089.1 595.5 C1095.4 594.3 1101.4 592.4 1105.9 590.3 C1110.5 588.2 1114.7 584.2 1116.4 582.9" fill="none" stroke="#000" stroke-width="4.0" stroke-linecap="round" stroke-linejoin="round"/>
<path d="M998.8 500.6 C997.4 501.5 992.5 503.9 990.4 506.2 C988.3 508.6 987.1 511.1 986.2 514.6 C985.2 518.1 984.6 522.7 984.5 527.2 C984.3 531.8 984.8 538.1 985.1 542 C985.5 545.8 986.3 549 986.6 550.4" fill="none" stroke="#000" stroke-width="4.0" stroke-linecap="round" stroke-linejoin="round"/>
<path d="M974 543 C973.7 544.9 972.7 549.1 972.5 554.6 C972.3 560 972 569.3 972.5 575.6 C973 581.9 974.1 587.8 975.6 592.4 C977.2 596.9 978.8 599.4 982 602.9 C985.1 606.4 989.7 609.2 994.6 613.4 C999.5 617.6 1008.6 625.7 1011.4 628.1" fill="none" stroke="#000" stroke-width="4.0" stroke-linecap="round" stroke-linejoin="round"/>
<path d="M986.2 554.6 C985.6 556.7 983.5 562.3 983 567.2 C982.5 572.1 982.5 578.7 983 584 C983.5 589.2 984.8 594.5 986.2 598.7 C987.6 602.9 990.5 607.4 991.4 609.2" fill="none" stroke="#000" stroke-width="4.0" stroke-linecap="round" stroke-linejoin="round"/>
<path d="M1008.2 573.5 C1007.7 575.6 1005.6 580.5 1005.1 586.1 C1004.5 591.7 1004.5 600.4 1005.1 607.1 C1005.6 613.7 1006.8 620.1 1008.2 626 C1009.6 632 1012.2 636.9 1013.5 642.8 C1014.8 648.8 1015.4 655.8 1016 661.7 C1016.6 667.7 1017 673.6 1017.3 678.5 C1017.5 683.4 1017.6 689 1017.7 691.1" fill="none" stroke="#000" stroke-width="4.0" stroke-linecap="round" stroke-linejoin="round"/>
<path d="M982 603.9 C981.4 605.9 979.3 610.4 978.8 615.5 C978.3 620.6 978.1 629 979 634.4 C979.9 639.8 981.6 643.7 984.1 648.1 C986.5 652.4 991.9 658.6 993.5 660.7" fill="none" stroke="#000" stroke-width="4.0" stroke-linecap="round" stroke-linejoin="round"/>
<path d="M993.5 618.7 C993 621.3 990.5 628.5 990.4 634.4 C990.2 640.4 991.2 648.4 992.5 654.4 C993.7 660.3 995.3 665.6 997.7 670.1 C1000.2 674.7 1003.8 678.2 1007.2 681.7 C1010.5 685.2 1015.9 689.6 1017.7 691.1" fill="none" stroke="#000" stroke-width="4.0" stroke-linecap="round" stroke-linejoin="round"/>
<path d="M1013.5 644.9 C1015.2 646.7 1020.5 652.4 1024 655.4 C1027.5 658.4 1030.6 660.7 1034.5 662.8 C1038.3 664.9 1041.5 666.8 1047.1 668 C1052.7 669.3 1061.1 670.3 1068.1 670.1 C1075.1 670 1082.1 668.4 1089.1 667 C1096.1 665.6 1103.5 663.5 1110.1 661.7 C1116.8 660 1125.9 657.4 1129 656.5" fill="none" stroke="#000" stroke-width="4.0" stroke-linecap="round" stroke-linejoin="round"/>
<path d="M1017.7 691.1 C1019.1 694.3 1022.9 704.5 1026.1 710.1 C1029.2 715.7 1033.1 720.9 1036.6 724.8 C1040.1 728.6 1043.9 731.1 1047.1 733.2 C1050.2 735.3 1050.2 737.2 1055.5 737.4 C1060.8 737.6 1069.5 736 1078.6 734.2 C1087.7 732.5 1101.2 729.7 1110.1 726.9 C1119.1 724.1 1128.5 719 1132.2 717.4" fill="none" stroke="#000" stroke-width="4.0" stroke-linecap="round" stroke-linejoin="round"/>
<path d="M1117.5 584 C1120.5 583.6 1129.2 582.1 1135.4 581.9 C1141.5 581.7 1149.4 581.9 1154.3 582.9 C1159.2 584 1162 586.3 1164.8 588.2 C1167.6 590.1 1170 593.4 1171.1 594.5" fill="none" stroke="#000" stroke-width="4.0" stroke-linecap="round" stroke-linejoin="round"/>
<path d="M1150.1 581.9 C1153.9 581 1164.1 578 1173.2 576.6 C1182.3 575.2 1195.9 574.3 1204.7 573.5 C1213.5 572.6 1219.8 572.1 1225.7 571.4 C1231.6 570.7 1233.9 570.3 1240 569.3 C1246.1 568.3 1253.1 566.5 1262 565.4 C1271 564.4 1284.8 563.7 1293.5 562.9 C1302.3 562.1 1305.8 561.7 1314.6 560.8 C1323.3 559.9 1337.3 558.5 1346.1 557.6 C1354.8 556.8 1358.3 556.1 1367.1 555.5 C1375.9 555 1390.9 554.3 1398.6 554.5 C1406.3 554.7 1408.1 555.5 1413.3 556.6 C1418.6 557.6 1424.5 559.7 1430.1 560.8 C1435.7 561.8 1441.7 562.2 1446.9 562.9 C1452.2 563.6 1455.7 563.6 1461.7 565 C1467.6 566.4 1477.4 568.8 1482.7 571.3 C1487.9 573.7 1490.9 576.6 1493.2 579.7 C1495.5 582.9 1496 587.1 1496.3 590.2 C1496.7 593.4 1495.5 597.2 1495.3 598.6" fill="none" stroke="#000" stroke-width="4.0" stroke-linecap="round" stroke-linejoin="round"/>
<path d="M1124.8 598.7 C1129.4 598.3 1143.4 596.3 1152.2 596.2 C1160.9 596 1170.4 596.2 1177.4 597.6 C1184.4 599.1 1189.6 602 1194.2 605 C1198.7 608 1202.2 611.6 1204.7 615.5 C1207.1 619.4 1207.8 623.6 1208.9 628.1 C1210 632.7 1210.8 639 1211 642.8 C1211.2 646.7 1210.1 649.8 1210 651.2" fill="none" stroke="#000" stroke-width="4.0" stroke-linecap="round" stroke-linejoin="round"/>
<path d="M1210 651.2 C1210.1 654.4 1211.2 663.5 1211 670.1 C1210.8 676.8 1210 685.9 1208.9 691.1 C1207.8 696.4 1205.4 699.9 1204.7 701.7" fill="none" stroke="#000" stroke-width="4.0" stroke-linecap="round" stroke-linejoin="round"/>
<path d="M1175.3 594.5 C1178.4 593.4 1187.5 589.8 1194.2 588.2 C1200.8 586.6 1207.6 585.7 1215.2 585 C1222.8 584.3 1235 584.2 1240 584 C1245 583.8 1241.5 583.6 1245.2 583.9 C1248.9 584.2 1257.1 583.9 1262 586 C1266.9 588.1 1271.3 592.7 1274.6 596.5 C1278 600.4 1280.6 604.2 1282 609.1 C1283.4 614 1283 621.4 1283 625.9 C1283 630.5 1282.2 634.7 1282 636.4" fill="none" stroke="#000" stroke-width="4.0" stroke-linecap="round" stroke-linejoin="round"/>
<path d="M1220 572.3 C1222.5 573.4 1230.9 576.9 1234.7 578.7 C1238.6 580.4 1241.7 582.2 1243.1 582.9" fill="none" stroke="#000" stroke-width="4.0" stroke-linecap="round" stroke-linejoin="round"/>
<path d="M1287.2 563.9 C1289.3 564.8 1296.7 567.4 1299.9 569.2 C1303 570.9 1305.1 573.6 1306.2 574.4" fill="none" stroke="#000" stroke-width="4.0" stroke-linecap="round" stroke-linejoin="round"/>
<path d="M1337.7 558.7 C1339.8 559.4 1346.1 561.3 1350.3 562.9 C1354.5 564.5 1360.8 567.3 1362.9 568.1" fill="none" stroke="#000" stroke-width="4.0" stroke-linecap="round" stroke-linejoin="round"/>
<path d="M1392.3 555.5 C1394.1 556.2 1399.7 558.5 1402.8 559.7 C1406 561 1409.8 562.4 1411.2 562.9" fill="none" stroke="#000" stroke-width="4.0" stroke-linecap="round" stroke-linejoin="round"/>
<path d="M1247.3 583.9 C1251.5 583 1264.8 579.9 1272.5 578.7 C1280.2 577.4 1287.6 577 1293.5 576.6 C1299.5 576.1 1302.3 574.7 1308.3 575.9 C1314.2 577.1 1323.3 580.5 1329.3 583.9 C1335.2 587.3 1340.5 592.3 1344 596.5 C1347.5 600.7 1349.1 604.9 1350.3 609.1 C1351.5 613.3 1351.2 619.6 1351.3 621.7" fill="none" stroke="#000" stroke-width="4.0" stroke-linecap="round" stroke-linejoin="round"/>
<path d="M1310.4 575.1 C1314.6 574.3 1327.9 571.2 1335.6 570.2 C1343.3 569.3 1350.6 569.5 1356.6 569.6 C1362.5 569.7 1365 569.2 1371.3 570.9 C1377.6 572.6 1388.5 576.5 1394.4 579.7 C1400.4 582.9 1404 586.4 1407 590.2 C1410 594.1 1411.4 599 1412.3 602.8 C1413.1 606.7 1412.3 611.6 1412.3 613.3" fill="none" stroke="#000" stroke-width="4.0" stroke-linecap="round" stroke-linejoin="round"/>
<path d="M1371.3 569.6 C1374.1 569.1 1381.8 567.4 1388.1 566.7 C1394.4 566 1403.5 565.3 1409.1 565.4 C1414.7 565.5 1416.1 565.4 1421.7 567.1 C1427.3 568.8 1437.1 572.3 1442.7 575.5 C1448.3 578.7 1452.4 582.5 1455.4 586 C1458.3 589.5 1459.9 592.7 1460.6 596.5 C1461.3 600.4 1459.7 607 1459.6 609.1" fill="none" stroke="#000" stroke-width="4.0" stroke-linecap="round" stroke-linejoin="round"/>
<path d="M1129 662.8 C1134.7 661.9 1149.4 659.5 1162.7 657.5 C1176 655.6 1196 653.3 1208.9 651.2 C1221.8 649.1 1232.9 646.3 1240 644.9 C1247.1 643.5 1244.7 644.1 1251.5 642.7 C1258.3 641.4 1264.5 640.1 1280.9 636.9 C1297.4 633.6 1328.4 626.9 1350.3 623.2 C1372.2 619.5 1394.1 617.4 1412.3 614.8 C1430.5 612.2 1446.1 610.1 1459.6 607.4 C1473 604.8 1481.3 601.1 1493.2 599 C1505.1 596.9 1524.7 595.5 1531 594.8" fill="none" stroke="#000" stroke-width="4.0" stroke-linecap="round" stroke-linejoin="round"/>
<path d="M1280.9 638.5 C1281.6 642.4 1285.1 653.6 1285.1 661.7 C1285.1 669.7 1281.6 682.7 1280.9 686.9" fill="none" stroke="#000" stroke-width="4.0" stroke-linecap="round" stroke-linejoin="round"/>
<path d="M1350.3 624.9 C1350.6 628.6 1352.9 639.1 1352.4 646.9 C1351.9 654.8 1348 668 1347.1 672.2" fill="none" stroke="#000" stroke-width="4.0" stroke-linecap="round" stroke-linejoin="round"/>
<path d="M1412.3 615.4 C1412.6 618.9 1415.6 629.1 1414.4 636.4 C1413.1 643.8 1406.5 655.7 1404.9 659.6" fill="none" stroke="#000" stroke-width="4.0" stroke-linecap="round" stroke-linejoin="round"/>
<path d="M1459.6 608.1 C1459.9 611.7 1462.5 623 1461.7 630.1 C1460.8 637.3 1455.5 647.6 1454.3 651.1" fill="none" stroke="#000" stroke-width="4.0" stroke-linecap="round" stroke-linejoin="round"/>
<path d="M1494.2 599.7 C1493.4 603.3 1490.7 614.9 1489 621.7 C1487.2 628.6 1484.6 637.5 1483.7 640.6" fill="none" stroke="#000" stroke-width="4.0" stroke-linecap="round" stroke-linejoin="round"/>
<path d="M1132.2 716.4 C1137.3 715.7 1152.3 713.9 1162.7 712.2 C1173 710.4 1187.2 707.6 1194.2 705.9 C1201.2 704.1 1195.1 703.1 1204.7 701.7 C1214.3 700.2 1239.2 699.4 1251.5 697 C1263.9 694.5 1268.3 689.4 1278.8 686.9 C1289.3 684.3 1303 684.1 1314.6 681.6 C1326.1 679.2 1337.7 674.4 1348.2 672.2 C1358.7 669.9 1368.5 669.9 1377.6 668 C1386.7 666 1394.1 662.4 1402.8 660.6 C1411.6 658.9 1421.6 659 1430.1 657.5 C1438.7 655.9 1447.3 652.7 1454.3 651.1 C1461.3 649.6 1467.1 649.3 1472.2 648 C1477.2 646.7 1482.7 644 1484.8 643.2" fill="none" stroke="#000" stroke-width="4.0" stroke-linecap="round" stroke-linejoin="round"/>
<path d="M1247.3 486.2 C1249.1 487.4 1255.4 489.9 1257.8 493.5 C1260.3 497.2 1261.3 502.3 1262 508.3 C1262.7 514.2 1261.5 523 1262 529.3 C1262.6 535.6 1264.1 540.5 1265.2 546.1 C1266.2 551.7 1267.8 560.1 1268.3 562.9" fill="none" stroke="#000" stroke-width="4.0" stroke-linecap="round" stroke-linejoin="round"/>
<path d="M1302 483 C1303.4 484.8 1308.6 489 1310.4 493.5 C1312.1 498.1 1312.2 504.4 1312.5 510.4 C1312.7 516.3 1311.5 524 1312 529.3 C1312.6 534.5 1314.5 537.2 1315.6 541.9 C1316.7 546.6 1318.2 555 1318.8 557.6" fill="none" stroke="#000" stroke-width="4.0" stroke-linecap="round" stroke-linejoin="round"/>
<path d="M1348.2 482 C1349.6 483.6 1354.7 487.1 1356.6 491.4 C1358.5 495.8 1359 502.7 1359.7 508.3 C1360.4 513.9 1359.9 519.8 1360.8 525.1 C1361.7 530.3 1364.1 535 1365 539.8 C1365.9 544.5 1365.9 551.2 1366 553.4" fill="none" stroke="#000" stroke-width="4.0" stroke-linecap="round" stroke-linejoin="round"/>
<path d="M1388.1 480.5 C1389.9 481.3 1395.8 481.9 1398.6 485.1 C1401.4 488.4 1403.7 494.9 1404.9 499.9 C1406.1 504.8 1406 509.7 1406 514.6 C1406 519.5 1405.1 523 1404.9 529.3 C1404.7 535.6 1404.9 548.5 1404.9 552.4" fill="none" stroke="#000" stroke-width="4.0" stroke-linecap="round" stroke-linejoin="round"/>
<path d="M1404.9 483 C1405.6 483.7 1408.6 484.4 1409.1 487.2 C1409.6 490 1408.4 496.3 1408.1 499.9 C1407.7 503.4 1407.2 506.9 1407 508.3" fill="none" stroke="#000" stroke-width="4.0" stroke-linecap="round" stroke-linejoin="round"/>
<path d="M1432.2 488.3 C1430.1 489 1423.1 490.6 1419.6 492.5 C1416.1 494.4 1413.1 497.2 1411.2 499.9 C1409.3 502.5 1408.8 505.5 1408.1 508.3 C1407.4 511.1 1407.2 515.3 1407 516.7" fill="none" stroke="#000" stroke-width="4.0" stroke-linecap="round" stroke-linejoin="round"/>
<path d="M1474.3 497.8 C1472.2 499.2 1464.8 502.3 1461.7 506.2 C1458.5 510 1456.6 516 1455.4 520.9 C1454.1 525.8 1454.7 532.6 1454.3 535.6 C1454 538.6 1454.1 536.6 1453.3 538.7 C1452.4 540.8 1450.4 544.2 1449 548.2 C1447.6 552.2 1445.5 560.4 1444.8 562.9" fill="none" stroke="#000" stroke-width="4.0" stroke-linecap="round" stroke-linejoin="round"/>
<path d="M1520.5 512.5 C1522.2 512.6 1528 513.5 1531 513.5 C1534 513.5 1537.1 512.6 1538.4 512.5" fill="none" stroke="#000" stroke-width="4.0" stroke-linecap="round" stroke-linejoin="round"/>
<path d="M1074.4 737.8 L1114.3 728.1" fill="none" stroke="#000" stroke-width="3.5" stroke-linecap="round" stroke-linejoin="round"/>
<path d="M1491.1 644.4 L1514.2 639.6" fill="none" stroke="#000" stroke-width="3.5" stroke-linecap="round" stroke-linejoin="round"/>
<path d="M979.8 465 L1382.9 451.8" stroke="#000" stroke-width="2.3" fill="none"/>
<path d="M967.2 465.4 L988.4 470.9 L981.9 464.9 L988 458.5 Z" fill="#000"/>
<path d="M1395.5 451.4 L1374.7 458.3 L1380.8 451.9 L1374.3 445.9 Z" fill="#000"/>
<g transform="translate(1188.7 445) rotate(0) scale(0.8289 1)"><text x="-20.6" y="8.9" font-family="Liberation Serif" font-size="27.24" font-weight="normal" fill="#000">236</text></g>
<path d="M1468 445.1 L1519.3 462.8" stroke="#000" stroke-width="1.6" fill="none"/>
<path d="M1459.5 442.1 L1472.2 451.4 L1469.4 445.5 L1475.2 442.7 Z" fill="#000"/>
<path d="M1527.8 465.8 L1512.1 465.2 L1517.9 462.4 L1515.1 456.5 Z" fill="#000"/>
<g transform="translate(1503.7 433) rotate(0) scale(0.9071 1)"><text x="-11.4" y="7.4" font-family="Liberation Serif" font-size="22.67" font-weight="normal" fill="#000">68</text></g>
<path d="M945.7 509.4 L944.2 628.1" stroke="#000" stroke-width="2.3" fill="none"/>
<path d="M945.8 496.8 L939.4 517.7 L945.6 511.5 L951.8 517.9 Z" fill="#000"/>
<path d="M944.1 640.7 L938.1 619.6 L944.3 626 L950.5 619.8 Z" fill="#000"/>
<g transform="translate(922 569.3) rotate(0) scale(0.8261 1)"><text x="-12.5" y="8.2" font-family="Liberation Serif" font-size="24.90" font-weight="normal" fill="#000">68</text></g>
<path d="M1560 575.3 L1560 641.6" stroke="#000" stroke-width="2.3" fill="none"/>
<path d="M1560 562.7 L1553.8 583.7 L1560 577.4 L1566.2 583.7 Z" fill="#000"/>
<path d="M1560 654.2 L1553.8 633.2 L1560 639.5 L1566.2 633.2 Z" fill="#000"/>
<g transform="translate(1572.8 609.6) rotate(0) scale(0.8418 1)"><text x="-12.4" y="8.5" font-family="Liberation Serif" font-size="25.68" font-weight="normal" fill="#000">42</text></g>
<path d="M952.8 654.9 L1018.5 741" stroke="#000" stroke-width="2.3" fill="none"/>
<path d="M945.2 644.9 L953 665.4 L954.1 656.6 L962.9 657.8 Z" fill="#000"/>
<path d="M1026.1 751 L1008.4 738.1 L1017.2 739.3 L1018.3 730.5 Z" fill="#000"/>
<g transform="translate(965.1 701.6) rotate(52.4) scale(0.8936 1)"><text x="-18.9" y="8" font-family="Liberation Serif" font-size="24.45" font-weight="normal" fill="#000">105</text></g>
<path d="M183.4 992.4 C180.6 992.8 171.5 994.3 166.6 994.9 C161.7 995.6 157.8 995.9 154 996.4 C150.1 996.9 145.9 997.1 143.5 998.1 C141 999.1 140.2 999.7 139.2 1002.3 C138.3 1004.9 137.7 1009.8 137.6 1013.8 C137.4 1017.9 137.4 1022.8 138.2 1026.4 C139 1030.1 140.3 1033.1 142.4 1035.9 C144.5 1038.7 147.7 1040.8 150.8 1043.3 C154 1045.7 157.6 1048 161.3 1050.6 C165 1053.2 170.9 1057.6 172.9 1059" fill="none" stroke="#000" stroke-width="4.0" stroke-linecap="round" stroke-linejoin="round"/>
<path d="M183.4 992.4 C186.2 992.3 195.3 991.4 200.2 991.8 C205.1 992.2 209.6 993.5 212.8 994.9 C215.9 996.3 217.6 997.9 219.1 1000.2 C220.6 1002.5 221.2 1007.2 221.6 1008.6" fill="none" stroke="#000" stroke-width="4.0" stroke-linecap="round" stroke-linejoin="round"/>
<path d="M164.5 995.3 C167.6 995.8 177.1 996.9 183.4 998.1 C189.7 999.2 195.9 1000.4 202.3 1002.3 C208.7 1004.1 218.4 1008.1 221.6 1009.2" fill="none" stroke="#000" stroke-width="4.0" stroke-linecap="round" stroke-linejoin="round"/>
<path d="M212.8 991.1 C218 990.7 233.8 989.3 244.3 988.6 C254.8 987.9 269.2 987.3 275.8 986.9 C282.5 986.6 277.2 986.9 284.2 986.5 C291.2 986.1 306 984.9 317.9 984.4 C329.8 983.9 345.3 984 355.7 983.4 C366 982.7 371 981 380 980.6 C389 980.2 396.1 981.6 409.4 981 C422.7 980.5 442.3 978.1 459.9 977.2 C477.4 976.4 497.3 976.3 514.5 975.8 C531.6 975.3 548.1 974.7 562.8 974.3 C577.5 973.8 590.1 973.4 602.7 973 C615.4 972.7 631.7 972.3 638.5 972.2 C645.2 972.1 640.6 972.1 643.1 972.4 C645.6 972.7 649.4 973.6 653.4 974.1 C657.5 974.7 662.7 975 667.3 975.9 C671.9 976.7 674.5 978 681.1 979.3 C687.8 980.7 699.9 982.7 707.1 984 C714.3 985.3 718.6 986.3 724.4 987.1 C730.2 987.9 735.9 988.1 741.7 988.8 C747.5 989.6 754.4 990.3 759 991.4 C763.6 992.6 766.8 993.9 769.4 995.8 C772 997.6 773.6 999.8 774.6 1002.7 C775.6 1005.6 775.6 1009 775.5 1013.1 C775.3 1017.1 774.4 1022.3 773.7 1026.9 C773 1031.5 772 1036.1 771.1 1040.8 C770.3 1045.4 769.3 1050 768.5 1054.6 C767.8 1059.2 767.5 1063.8 766.8 1068.4 C766.1 1073.1 765.2 1077.7 764.2 1082.3 C763.2 1086.9 762.2 1092.1 760.7 1096.1 C759.3 1100.2 757.3 1104.1 755.6 1106.5 C753.8 1109 754.1 1109.5 750.4 1110.8 C746.6 1112.1 736.8 1113.4 733.1 1114.3 C729.3 1115.2 728.7 1115.7 727.9 1116" fill="none" stroke="#000" stroke-width="4.0" stroke-linecap="round" stroke-linejoin="round"/>
<path d="M284.2 986.9 C285.6 988.3 290.5 991.1 292.6 994.9 C294.7 998.7 296 1004.7 296.8 1009.6 C297.7 1014.5 297.7 1019.4 297.9 1024.3 C298.1 1029.2 297.4 1034.2 297.9 1039.1 C298.4 1044 299.8 1048.2 301.1 1053.8 C302.3 1059.4 304.6 1069.5 305.3 1072.7" fill="none" stroke="#000" stroke-width="4.0" stroke-linecap="round" stroke-linejoin="round"/>
<path d="M355.7 983.4 C356.7 984.6 360.4 986.7 362 990.7 C363.6 994.8 364.6 1001.2 365.1 1007.5 C365.7 1013.8 364.8 1022.6 365.1 1028.5 C365.5 1034.5 366.4 1037.3 367.2 1043.3 C368.1 1049.2 369.9 1060.8 370.4 1064.3" fill="none" stroke="#000" stroke-width="4.0" stroke-linecap="round" stroke-linejoin="round"/>
<path d="M275.8 1043.3 C279.3 1042.9 288.1 1042.4 296.8 1041.2 C305.6 1039.9 317.2 1037.5 328.4 1035.9 C339.6 1034.3 355.5 1032.8 364.1 1031.7 C372.7 1030.6 370.3 1030.4 380 1029.3 C389.7 1028.3 405.9 1026.9 422 1025.6 C438.1 1024.2 459.5 1022.9 476.7 1021.4 C493.8 1019.8 509.6 1017.4 525 1016.3 C540.4 1015.3 554.1 1015.5 569.1 1015.1 C584.2 1014.6 607.4 1013.9 615.4 1013.6 C623.3 1013.3 611.9 1013.3 617.1 1013.1 C622.3 1012.8 640.2 1012.2 646.5 1012.2 C652.9 1012.2 650.9 1012.3 655.2 1013.1 C659.5 1013.8 665.9 1015.1 672.5 1016.5 C679.1 1018 689.8 1020.6 695 1021.7 C700.2 1022.9 698.7 1022.9 703.6 1023.4 C708.5 1024 718.1 1024.3 724.4 1025.2 C730.7 1026 736.5 1027.6 741.7 1028.6 C746.9 1029.6 751.2 1031.1 755.6 1031.2 C759.9 1031.4 764.8 1030.1 767.7 1029.5 C770.5 1028.9 772 1028.1 772.9 1027.8" fill="none" stroke="#000" stroke-width="4.0" stroke-linecap="round" stroke-linejoin="round"/>
<path d="M219.1 1010.7 C221.6 1011.2 228.6 1012.3 233.8 1013.8 C239.1 1015.4 245.4 1017.3 250.6 1020.1 C255.9 1022.9 261.1 1026.8 265.3 1030.6 C269.5 1034.5 273 1038.4 275.8 1043.3 C278.6 1048.2 280.6 1054.5 282.1 1060.1 C283.7 1065.7 284.2 1071.6 285.3 1076.9 C286.3 1082.1 287.4 1086.7 288.4 1091.6 C289.5 1096.5 290.7 1101 291.6 1106.3 C292.5 1111.6 293.2 1116.8 293.7 1123.1 C294.2 1129.4 294.4 1137.1 294.7 1144.1 C295.1 1151.1 295.4 1158.1 295.8 1165.1 C296.1 1172.1 296.5 1178.4 296.8 1186.1 C297.2 1193.9 297.7 1207.2 297.9 1211.4" fill="none" stroke="#000" stroke-width="4.0" stroke-linecap="round" stroke-linejoin="round"/>
<path d="M219.1 1010.7 C215.6 1011 204 1011.4 198.1 1012.8 C192.1 1014.2 187.2 1016.1 183.4 1019.1 C179.5 1022.1 176.9 1026.3 175 1030.6 C173 1035 172.2 1040.5 171.8 1045.4 C171.4 1050.3 172.1 1056.9 172.4 1060.1 C172.8 1063.2 173.7 1063.6 173.9 1064.3" fill="none" stroke="#000" stroke-width="4.0" stroke-linecap="round" stroke-linejoin="round"/>
<path d="M263.2 1035.9 C260.4 1036.3 252.7 1037.1 246.4 1038 C240.1 1038.9 231 1039.9 225.4 1041.2 C219.8 1042.4 215.8 1042.9 212.8 1045.4 C209.8 1047.8 208.8 1051.3 207.5 1055.9 C206.3 1060.4 205.9 1065.7 205.4 1072.7 C205 1079.7 204.8 1089.5 204.8 1097.9 C204.8 1106.3 205 1115.4 205.4 1123.1 C205.9 1130.8 206.7 1137.1 207.5 1144.1 C208.4 1151.1 209.6 1156.4 210.7 1165.1 C211.7 1173.9 212.4 1185.8 213.8 1196.7 C215.2 1207.5 218.2 1224.7 219.1 1230.3" fill="none" stroke="#000" stroke-width="4.0" stroke-linecap="round" stroke-linejoin="round"/>
<path d="M173.9 1067.4 C175.8 1069 180.7 1073.6 185.5 1076.9 C190.2 1080.2 197.7 1084.9 202.3 1087.4 C206.8 1089.8 207.5 1090.7 212.8 1091.6 C218 1092.5 226.8 1092.8 233.8 1092.6 C240.8 1092.5 248.5 1091.8 254.8 1090.5 C261.1 1089.3 267.1 1087.4 271.6 1085.3 C276.2 1083.2 280.4 1079.2 282.1 1077.9" fill="none" stroke="#000" stroke-width="4.0" stroke-linecap="round" stroke-linejoin="round"/>
<path d="M164.5 995.6 C163.1 996.5 158.2 998.9 156.1 1001.2 C154 1003.6 152.8 1006.1 151.9 1009.6 C150.9 1013.1 150.3 1017.7 150.2 1022.2 C150 1026.8 150.5 1033.1 150.8 1037 C151.2 1040.8 152 1044 152.3 1045.4" fill="none" stroke="#000" stroke-width="4.0" stroke-linecap="round" stroke-linejoin="round"/>
<path d="M139.7 1038 C139.4 1039.9 138.4 1044.1 138.2 1049.6 C138 1055 137.7 1064.3 138.2 1070.6 C138.7 1076.9 139.8 1082.8 141.3 1087.4 C142.9 1091.9 144.5 1094.4 147.7 1097.9 C150.8 1101.4 155.4 1104.2 160.3 1108.4 C165.2 1112.6 174.3 1120.7 177.1 1123.1" fill="none" stroke="#000" stroke-width="4.0" stroke-linecap="round" stroke-linejoin="round"/>
<path d="M151.9 1049.6 C151.3 1051.7 149.2 1057.3 148.7 1062.2 C148.2 1067.1 148.2 1073.7 148.7 1079 C149.2 1084.2 150.5 1089.5 151.9 1093.7 C153.3 1097.9 156.2 1102.4 157.1 1104.2" fill="none" stroke="#000" stroke-width="4.0" stroke-linecap="round" stroke-linejoin="round"/>
<path d="M173.9 1068.5 C173.4 1070.6 171.3 1075.5 170.8 1081.1 C170.2 1086.7 170.2 1095.4 170.8 1102.1 C171.3 1108.7 172.5 1115.1 173.9 1121 C175.3 1127 177.9 1131.9 179.2 1137.8 C180.5 1143.8 181.1 1150.8 181.7 1156.7 C182.3 1162.7 182.7 1168.6 183 1173.5 C183.2 1178.4 183.3 1184 183.4 1186.1" fill="none" stroke="#000" stroke-width="4.0" stroke-linecap="round" stroke-linejoin="round"/>
<path d="M147.7 1098.9 C147.1 1100.9 145 1105.4 144.5 1110.5 C144 1115.6 143.8 1124 144.7 1129.4 C145.6 1134.8 147.3 1138.7 149.8 1143.1 C152.2 1147.4 157.6 1153.6 159.2 1155.7" fill="none" stroke="#000" stroke-width="4.0" stroke-linecap="round" stroke-linejoin="round"/>
<path d="M159.2 1113.7 C158.7 1116.3 156.2 1123.5 156.1 1129.4 C155.9 1135.4 156.9 1143.4 158.2 1149.4 C159.4 1155.3 161 1160.6 163.4 1165.1 C165.9 1169.7 169.5 1173.2 172.9 1176.7 C176.2 1180.2 181.6 1184.6 183.4 1186.1" fill="none" stroke="#000" stroke-width="4.0" stroke-linecap="round" stroke-linejoin="round"/>
<path d="M179.2 1139.9 C180.9 1141.7 186.2 1147.4 189.7 1150.4 C193.2 1153.4 196.3 1155.7 200.2 1157.8 C204 1159.9 207.2 1161.8 212.8 1163 C218.4 1164.3 226.8 1165.3 233.8 1165.1 C240.8 1165 247.8 1163.4 254.8 1162 C261.8 1160.6 269.2 1158.5 275.8 1156.7 C282.5 1155 291.6 1152.4 294.7 1151.5" fill="none" stroke="#000" stroke-width="4.0" stroke-linecap="round" stroke-linejoin="round"/>
<path d="M183.4 1186.1 C184.8 1189.3 188.6 1199.5 191.8 1205.1 C194.9 1210.7 198.8 1215.9 202.3 1219.8 C205.8 1223.6 209.6 1226.1 212.8 1228.2 C215.9 1230.3 215.9 1232.2 221.2 1232.4 C226.5 1232.6 235.2 1231 244.3 1229.2 C253.4 1227.5 266.9 1224.7 275.8 1221.9 C284.8 1219.1 294.2 1214 297.9 1212.4" fill="none" stroke="#000" stroke-width="4.0" stroke-linecap="round" stroke-linejoin="round"/>
<path d="M283.2 1079 C286.2 1078.6 294.9 1077.1 301.1 1076.9 C307.2 1076.7 315.1 1076.9 320 1077.9 C324.9 1079 327.7 1081.3 330.5 1083.2 C333.3 1085.1 335.7 1088.4 336.8 1089.5" fill="none" stroke="#000" stroke-width="4.0" stroke-linecap="round" stroke-linejoin="round"/>
<path d="M315.8 1076.9 C319.6 1076 329.8 1073 338.9 1071.6 C348 1070.2 363.5 1069.2 370.4 1068.5 C377.3 1067.7 373.1 1068.6 380 1067.2 C386.9 1065.7 401 1061.6 411.5 1059.8 C422 1058.1 433.6 1057.4 443 1056.7 C452.5 1056 461.3 1056.3 468.3 1055.6 C475.3 1054.9 478.8 1053.5 485.1 1052.5 C491.4 1051.4 497.3 1050.2 506.1 1049.3 C514.8 1048.4 528.8 1047.9 537.6 1047.2 C546.4 1046.5 549.9 1045.9 558.6 1045.1 C567.4 1044.3 579.6 1043.3 590.1 1042.4 C600.6 1041.4 612.2 1040.1 621.7 1039.4 C631.1 1038.7 641.3 1038.2 646.9 1038.2 C652.5 1038.1 650.9 1038.3 655.2 1039 C659.4 1039.7 666.7 1041.5 672.5 1042.5 C678.3 1043.5 684 1043.9 689.8 1045.1 C695.6 1046.2 701.3 1047.5 707.1 1049.4 C712.9 1051.3 720.4 1054 724.4 1056.3 C728.4 1058.6 729.9 1060.4 731.3 1063.3 C732.8 1066.1 732.8 1071.9 733.1 1073.6" fill="none" stroke="#000" stroke-width="4.0" stroke-linecap="round" stroke-linejoin="round"/>
<path d="M290.5 1093.7 C295.1 1093.3 309.1 1091.3 317.9 1091.2 C326.6 1091 336.1 1091.2 343.1 1092.6 C350.1 1094.1 355.3 1097 359.9 1100 C364.4 1103 367.9 1106.6 370.4 1110.5 C372.8 1114.4 373.5 1118.6 374.6 1123.1 C375.7 1127.7 376.5 1134 376.7 1137.8 C376.9 1141.7 375.8 1144.8 375.7 1146.2" fill="none" stroke="#000" stroke-width="4.0" stroke-linecap="round" stroke-linejoin="round"/>
<path d="M375.7 1146.2 C375.8 1149.4 376.9 1158.5 376.7 1165.1 C376.5 1171.8 375.7 1180.9 374.6 1186.1 C373.5 1191.4 371.1 1194.9 370.4 1196.7" fill="none" stroke="#000" stroke-width="4.0" stroke-linecap="round" stroke-linejoin="round"/>
<path d="M341 1089.5 C344.1 1088.4 353.4 1085 359.9 1083.2 C366.4 1081.4 373.1 1079.6 380 1078.7 C386.9 1077.8 394.7 1077.2 401 1077.7 C407.3 1078.2 412.6 1079.1 417.8 1081.9 C423.1 1084.7 428.7 1089.6 432.5 1094.5 C436.4 1099.4 439.2 1106 440.9 1111.3 C442.7 1116.6 442.7 1123.6 443 1126" fill="none" stroke="#000" stroke-width="4.0" stroke-linecap="round" stroke-linejoin="round"/>
<path d="M443 1128.1 C443.4 1131.6 445.5 1141.1 445.1 1149.1 C444.8 1157.2 441.6 1171.9 440.9 1176.4" fill="none" stroke="#000" stroke-width="4.0" stroke-linecap="round" stroke-linejoin="round"/>
<path d="M294.7 1157.8 C300.4 1156.9 314.2 1155.4 328.4 1152.5 C342.6 1149.7 360.9 1144.8 380 1140.7 C399.1 1136.6 421.9 1132.1 443 1128.1 C464.2 1124.1 487.5 1120.1 507.1 1116.6 C526.7 1113 543 1110.1 560.7 1107.1 C578.4 1104.1 604.7 1100.4 613.3 1098.7 C621.8 1097 604.1 1098.3 611.9 1097 C619.8 1095.7 645.4 1093 660.4 1090.9 C675.4 1088.9 689.8 1087.2 701.9 1084.9 C714 1082.6 725 1078.8 733.1 1077.1 C741.1 1075.4 745 1075.2 750.4 1074.5 C755.7 1073.8 762.6 1073.1 765.1 1072.8" fill="none" stroke="#000" stroke-width="4.0" stroke-linecap="round" stroke-linejoin="round"/>
<path d="M297.9 1211.4 C303 1210.7 318 1208.9 328.4 1207.2 C338.7 1205.4 351.3 1203.2 359.9 1200.9 C368.5 1198.5 372.1 1195.4 380 1193.3 C387.9 1191.1 397.2 1190.4 407.3 1188 C417.5 1185.5 430.1 1180.8 440.9 1178.5 C451.8 1176.3 462 1176.4 472.5 1174.3 C483 1172.2 494.2 1168 504 1165.9 C513.8 1163.8 521.8 1163.8 531.3 1161.7 C540.8 1159.6 550.9 1155.8 560.7 1153.3 C570.5 1150.9 581.9 1148.8 590.1 1147 C598.4 1145.3 603.1 1144.1 610.2 1142.9 C617.3 1141.6 625.5 1141 632.7 1139.4 C639.9 1137.8 646.8 1134.8 653.4 1133.3 C660.1 1131.9 665.3 1132.3 672.5 1130.7 C679.7 1129.2 688.1 1126 696.7 1123.8 C705.4 1121.7 719.8 1118.8 724.4 1117.8" fill="none" stroke="#000" stroke-width="4.0" stroke-linecap="round" stroke-linejoin="round"/>
<path d="M411.5 981 C412.9 982.4 418 985.6 419.9 989.4 C421.9 993.3 422.6 998.5 423.1 1004.1 C423.6 1009.7 422.7 1017.1 423.1 1023 C423.4 1029 424.3 1034.2 425.2 1039.9 C426.1 1045.5 427.8 1053.9 428.3 1056.7" fill="none" stroke="#000" stroke-width="4.0" stroke-linecap="round" stroke-linejoin="round"/>
<path d="M514.5 976.4 C515.9 977.9 521 980.9 522.9 985.2 C524.8 989.5 525.7 996.8 526 1002 C526.4 1007.3 524.6 1012.2 525 1016.7 C525.3 1021.3 527.3 1024.6 528.1 1029.3 C529 1034.1 529.9 1042.5 530.2 1045.1" fill="none" stroke="#000" stroke-width="4.0" stroke-linecap="round" stroke-linejoin="round"/>
<path d="M562.8 974.7 C563.9 976.5 567.7 980.7 569.1 985.2 C570.5 989.8 571 997.1 571.2 1002 C571.4 1006.9 569.6 1010.4 570.2 1014.6 C570.7 1018.8 573.3 1022.9 574.4 1027.2 C575.4 1031.6 576.1 1038.6 576.5 1040.9" fill="none" stroke="#000" stroke-width="4.0" stroke-linecap="round" stroke-linejoin="round"/>
<path d="M606.9 973.7 C607.6 975.2 610.1 978.4 611.1 983.1 C612.2 987.8 612.9 996.8 613.3 1002 C613.6 1007.3 612.7 1010.4 613.3 1014.6 C613.8 1018.8 615.5 1023.4 616.4 1027.2 C617.3 1031.1 618.2 1036 618.5 1037.8" fill="none" stroke="#000" stroke-width="4.0" stroke-linecap="round" stroke-linejoin="round"/>
<path d="M644.8 973.3 C645.9 974.4 650.1 977 651.7 980.2 C653.3 983.4 653.9 987.7 654.3 992.3 C654.7 996.9 654.6 1000.4 654.3 1007.9 C654 1015.4 652.9 1032.4 652.6 1037.3" fill="none" stroke="#000" stroke-width="4.0" stroke-linecap="round" stroke-linejoin="round"/>
<path d="M653.4 975 C653.9 976.1 655.8 978.5 656 981.9 C656.3 985.4 655.3 993.5 655.2 995.8" fill="none" stroke="#000" stroke-width="4.0" stroke-linecap="round" stroke-linejoin="round"/>
<path d="M677.7 978.5 C675.7 979.3 668.9 981.3 665.6 983.6 C662.2 986 659.5 989.4 657.8 992.3 C656 995.2 655.6 999.5 655.2 1001" fill="none" stroke="#000" stroke-width="4.0" stroke-linecap="round" stroke-linejoin="round"/>
<path d="M714 987.1 C712.3 988.3 706.2 991.1 703.6 994 C701 996.9 699.6 1001 698.4 1004.4 C697.3 1007.9 697 1011.6 696.7 1014.8 C696.4 1018 697.3 1020.9 696.7 1023.4 C696.1 1026 694.4 1027.8 693.3 1030.4 C692.1 1033 690.8 1036.4 689.8 1039 C688.8 1041.6 687.6 1044.8 687.2 1045.9" fill="none" stroke="#000" stroke-width="4.0" stroke-linecap="round" stroke-linejoin="round"/>
<path d="M755.6 1002.7 C757 1002.8 761.5 1003.5 764.2 1003.5 C766.9 1003.6 770.7 1003.1 772 1003" fill="none" stroke="#000" stroke-width="4.0" stroke-linecap="round" stroke-linejoin="round"/>
<path d="M384.2 1066.1 C385.6 1067 389.5 1069.6 392.6 1071.4 C395.8 1073.1 401.4 1075.7 403.1 1076.6" fill="none" stroke="#000" stroke-width="4.0" stroke-linecap="round" stroke-linejoin="round"/>
<path d="M449.3 1056.7 C451.1 1057.7 457 1061.2 459.9 1063 C462.7 1064.7 465.1 1066.5 466.2 1067.2" fill="none" stroke="#000" stroke-width="4.0" stroke-linecap="round" stroke-linejoin="round"/>
<path d="M554.4 1046.2 C556.2 1046.9 562.1 1049.1 564.9 1050.4 C567.7 1051.6 570.2 1053 571.2 1053.5" fill="none" stroke="#000" stroke-width="4.0" stroke-linecap="round" stroke-linejoin="round"/>
<path d="M596.4 1043 C598.2 1043.5 603.8 1045.1 606.9 1046.2 C610.1 1047.2 614 1048.8 615.4 1049.3" fill="none" stroke="#000" stroke-width="4.0" stroke-linecap="round" stroke-linejoin="round"/>
<path d="M641.3 1039 C643.1 1039.6 648.5 1041.3 651.7 1042.5 C654.9 1043.6 658.9 1045.4 660.4 1045.9" fill="none" stroke="#000" stroke-width="4.0" stroke-linecap="round" stroke-linejoin="round"/>
<path d="M407.3 1076.6 C411.5 1075.7 423.8 1072.4 432.5 1071.4 C441.3 1070.3 453.2 1070.5 459.9 1070.3 C466.5 1070.1 467.2 1069.1 472.5 1070.3 C477.7 1071.5 486.5 1074.3 491.4 1077.7 C496.3 1081 499.3 1085.4 501.9 1090.3 C504.5 1095.2 506.3 1102.5 507.1 1107.1 C508 1111.6 507.1 1115.9 507.1 1117.6" fill="none" stroke="#000" stroke-width="4.0" stroke-linecap="round" stroke-linejoin="round"/>
<path d="M507.1 1119.7 C507.5 1123.2 509.6 1133.4 509.2 1140.7 C508.9 1148.1 505.7 1160 505 1163.8" fill="none" stroke="#000" stroke-width="4.0" stroke-linecap="round" stroke-linejoin="round"/>
<path d="M470.4 1068.2 C474.6 1067.5 487.9 1064.9 495.6 1064 C503.3 1063.1 513.1 1063.1 516.6 1063" fill="none" stroke="#000" stroke-width="4.0" stroke-linecap="round" stroke-linejoin="round"/>
<path d="M527.1 1061.9 C530.6 1061.4 541.1 1059.6 548.1 1058.8 C555.1 1058 562.8 1057.2 569.1 1057.1 C575.4 1057 580.7 1057 585.9 1058.3 C591.2 1059.7 596.4 1061.8 600.6 1065.1 C604.8 1068.3 608.9 1072.8 611.1 1077.7 C613.4 1082.6 614 1090.6 614.3 1094.5 C614.7 1098.3 613.4 1099.7 613.3 1100.8" fill="none" stroke="#000" stroke-width="4.0" stroke-linecap="round" stroke-linejoin="round"/>
<path d="M613.3 1100.8 C613.8 1103.9 616.8 1113 616.4 1119.7 C616.1 1126.4 612 1137.2 611.1 1140.7" fill="none" stroke="#000" stroke-width="4.0" stroke-linecap="round" stroke-linejoin="round"/>
<path d="M577.5 1055.6 C581.4 1055.1 593.3 1053 600.6 1052.5 C608 1051.9 615.7 1052.3 621.7 1052.5 C627.6 1052.6 631.5 1051.8 636.4 1053.5 C641.3 1055.3 647.2 1058.9 651.1 1063 C654.9 1067 657.9 1073.1 659.5 1077.7 C661.1 1082.2 660.4 1088.2 660.5 1090.3" fill="none" stroke="#000" stroke-width="4.0" stroke-linecap="round" stroke-linejoin="round"/>
<path d="M660.5 1092.4 C660.7 1095.2 662.5 1102.9 661.6 1109.2 C660.7 1115.5 656.3 1126.7 655.3 1130.2" fill="none" stroke="#000" stroke-width="4.0" stroke-linecap="round" stroke-linejoin="round"/>
<path d="M621.7 1050.8 C625.2 1050.4 635.7 1048.7 642.7 1048.3 C649.7 1047.8 657.7 1047.7 663.7 1047.8 C669.6 1048 673.5 1047.5 678.4 1049.3 C683.3 1051.1 689.3 1055.1 693.1 1058.8 C697 1062.4 699.9 1067.5 701.5 1071.4 C703.1 1075.2 702.4 1080.1 702.6 1081.9" fill="none" stroke="#000" stroke-width="4.0" stroke-linecap="round" stroke-linejoin="round"/>
<path d="M701.5 1084 C701.9 1087.1 704.3 1096.9 703.6 1102.9 C702.9 1108.8 698.4 1116.9 697.3 1119.7" fill="none" stroke="#000" stroke-width="4.0" stroke-linecap="round" stroke-linejoin="round"/>
<path d="M731.3 1077.1 C730.7 1080 729 1088.3 727.9 1094.4 C726.7 1100.5 725 1110.3 724.4 1113.4" fill="none" stroke="#000" stroke-width="4.0" stroke-linecap="round" stroke-linejoin="round"/>
<path d="M462 977.9 C463.2 979.4 467.2 982.9 469.3 987.3 C471.4 991.7 473.2 998.5 474.6 1004.1 C476 1009.7 476.7 1015.3 477.7 1020.9 C478.7 1026.5 479.7 1032.3 480.4 1037.8 C481.1 1043.2 481.7 1050.9 481.9 1053.5" fill="none" stroke="#000" stroke-width="6" stroke-linecap="round" stroke-linejoin="round"/>
<path d="M491.4 1052.5 C494.5 1053.2 503.6 1054.7 510.3 1056.7 C516.9 1058.6 525 1061.6 531.3 1064 C537.6 1066.5 543.6 1068 548.1 1071.4 C552.7 1074.7 556.2 1078.7 558.6 1084 C561 1089.2 561.9 1096.2 562.4 1102.9 C562.9 1109.5 562 1116.2 561.8 1123.9 C561.5 1131.6 560.9 1144.9 560.7 1149.1" fill="none" stroke="#000" stroke-width="6" stroke-linecap="round" stroke-linejoin="round"/>
<path d="M240.1 1232.8 L280 1223.1" fill="none" stroke="#000" stroke-width="3.5" stroke-linecap="round" stroke-linejoin="round"/>
<path d="M729.6 1117.8 L752.1 1113.4" fill="none" stroke="#000" stroke-width="3.5" stroke-linecap="round" stroke-linejoin="round"/>
<path d="M144.3 962.1 L634.7 946.2" stroke="#000" stroke-width="2.3" fill="none"/>
<path d="M131.7 962.5 L152.9 968 L146.4 962 L152.5 955.6 Z" fill="#000"/>
<path d="M647.3 945.8 L626.5 952.7 L632.6 946.3 L626.1 940.3 Z" fill="#000"/>
<g transform="translate(408.2 942.6) rotate(0) scale(0.9112 1)"><text x="-18.3" y="8.1" font-family="Liberation Serif" font-size="24.60" font-weight="normal" fill="#000">282</text></g>
<path d="M111.3 1007.8 L111.1 1122.6" stroke="#000" stroke-width="2.3" fill="none"/>
<path d="M111.3 995.2 L105.1 1016.2 L111.3 1009.9 L117.5 1016.2 Z" fill="#000"/>
<path d="M111.1 1135.2 L104.9 1114.2 L111.1 1120.5 L117.3 1114.2 Z" fill="#000"/>
<g transform="translate(87.8 1065.8) rotate(0) scale(0.8590 1)"><text x="-11.8" y="7.7" font-family="Liberation Serif" font-size="23.56" font-weight="normal" fill="#000">68</text></g>
<path d="M118.7 1149.8 L181.7 1233.6" stroke="#000" stroke-width="2.3" fill="none"/>
<path d="M111.1 1139.7 L118.8 1160.2 L119.9 1151.4 L128.7 1152.8 Z" fill="#000"/>
<path d="M189.3 1243.7 L171.7 1230.6 L180.5 1232 L181.6 1223.2 Z" fill="#000"/>
<g transform="translate(130.4 1195.3) rotate(53) scale(0.8936 1)"><text x="-18.9" y="8" font-family="Liberation Serif" font-size="24.45" font-weight="normal" fill="#000">105</text></g>
<path d="M787.5 1059.4 L787.5 1103.4" stroke="#000" stroke-width="2.3" fill="none"/>
<path d="M787.5 1046.8 L781.3 1067.8 L787.5 1061.5 L793.7 1067.8 Z" fill="#000"/>
<path d="M787.5 1116 L781.3 1095 L787.5 1101.3 L793.7 1095 Z" fill="#000"/>
<g transform="translate(801.4 1081.8) rotate(0) scale(0.8290 1)"><text x="-11.9" y="8.2" font-family="Liberation Serif" font-size="24.77" font-weight="normal" fill="#000">42</text></g>
<path d="M706.1 1061.5 L762.5 1068.4" stroke="#000" stroke-width="1.5" fill="none"/>
<path d="M698.4 1060.6 L710.8 1066.3 L707.4 1061.7 L711.8 1058 Z" fill="#000"/>
<path d="M770.2 1069.3 L756.8 1071.9 L761.2 1068.2 L757.8 1063.6 Z" fill="#000"/>
<g transform="translate(734.3 1045.5) rotate(0) scale(0.8104 1)"><text x="-12.2" y="8" font-family="Liberation Serif" font-size="24.30" font-weight="normal" fill="#000">68</text></g>
<path d="M993.5 973.1 C990.7 973.2 982.3 973.1 976.7 973.5 C971.1 974 965.5 975.1 959.9 975.6 C954.2 976.2 947.8 976.3 943 976.9 C938.3 977.5 934.2 977.8 931.5 979.4 C928.8 981.1 927.7 983.3 926.7 986.8 C925.6 990.3 925 996.1 925.2 1000.4 C925.4 1004.8 926.3 1009.5 927.9 1013 C929.5 1016.5 931.8 1018.8 934.6 1021.4 C937.5 1024.1 941.3 1026.3 945.1 1028.8 C949 1031.3 955.6 1034.9 957.8 1036.2" fill="none" stroke="#000" stroke-width="4.0" stroke-linecap="round" stroke-linejoin="round"/>
<path d="M993.5 973.1 C994.2 973.8 996.3 975.6 997.7 977.3 C999.1 979.1 1000.7 981.3 1001.9 983.6 C1003.1 985.9 1004.5 989.8 1005 991" fill="none" stroke="#000" stroke-width="4.0" stroke-linecap="round" stroke-linejoin="round"/>
<path d="M953.5 976.3 C956.3 976.8 964.8 978 970.4 979.4 C976 980.8 981.4 982.7 987.2 984.7 C992.9 986.6 1002.1 989.9 1005 991" fill="none" stroke="#000" stroke-width="4.0" stroke-linecap="round" stroke-linejoin="round"/>
<path d="M993.5 972.7 C999.1 972.2 1015.9 970.5 1027.1 970 C1038.3 969.4 1050.2 969.8 1060.7 969.3 C1071.2 968.9 1078.6 967.9 1090.1 967.2 C1101.7 966.5 1117.8 965.7 1130.1 965.1 C1142.3 964.5 1153.5 964 1163.7 963.7 C1173.8 963.3 1185.8 963.1 1191 963 C1196.2 963 1190.5 963.6 1194.8 963.4 C1199.2 963.2 1210.3 962 1217.1 961.9 C1223.9 961.8 1229.4 962.8 1235.6 963 C1241.8 963.2 1248 963 1254.2 963 C1260.3 963 1266.5 962.9 1272.7 963 C1278.9 963.1 1285.1 963.3 1291.2 963.4 C1297.4 963.4 1303.6 963.2 1309.8 963.4 C1316 963.5 1322.2 964.1 1328.3 964.3 C1334.5 964.5 1341.3 964.5 1346.9 964.9 C1352.4 965.2 1357.7 965.6 1361.7 966.2 C1365.7 966.7 1368.5 967.6 1371 968 C1373.5 968.4 1372.3 968.3 1376.7 968.6 C1381 968.8 1390.6 968.8 1397.1 969.3 C1403.6 969.8 1409.4 970.9 1415.6 971.7 C1421.8 972.5 1428 973.7 1434.2 974.1 C1440.3 974.6 1446.5 974.3 1452.7 974.5 C1458.9 974.7 1465.1 974.7 1471.2 975.4 C1477.4 976.1 1485 977.2 1489.8 978.6 C1494.6 980 1497.8 981.4 1500 983.8 C1502.2 986.2 1502.4 989 1502.8 993 C1503.2 997.1 1502.7 1003.5 1502.4 1007.9 C1502.1 1012.2 1501.2 1015.3 1500.9 1019 C1500.6 1022.7 1500.6 1028.3 1500.5 1030.1" fill="none" stroke="#000" stroke-width="4.0" stroke-linecap="round" stroke-linejoin="round"/>
<path d="M1060.7 969.3 C1062.1 970.3 1066.7 971.4 1069.1 975.2 C1071.6 979 1074.2 987.1 1075.4 992 C1076.7 996.9 1076.3 1000.1 1076.5 1004.6 C1076.7 1009.2 1075.8 1014.4 1076.5 1019.3 C1077.2 1024.2 1079.6 1028.8 1080.7 1034.1 C1081.7 1039.3 1082.4 1048.1 1082.8 1050.9" fill="none" stroke="#000" stroke-width="4.0" stroke-linecap="round" stroke-linejoin="round"/>
<path d="M1130.1 965.1 C1131.5 966.5 1136.5 969 1138.5 973.1 C1140.4 977.2 1141.1 985 1141.6 989.9 C1142.1 994.8 1141.4 998.7 1141.6 1002.5 C1141.8 1006.4 1141.8 1008.5 1142.7 1013 C1143.5 1017.6 1146 1024.9 1146.9 1029.9 C1147.7 1034.8 1147.7 1040.4 1147.9 1042.5" fill="none" stroke="#000" stroke-width="4.0" stroke-linecap="round" stroke-linejoin="round"/>
<path d="M1056.5 1022.5 C1060.4 1022 1070.5 1020.7 1079.6 1019.3 C1088.7 1017.9 1100.6 1015.5 1111.1 1014.1 C1121.7 1012.7 1132.2 1011.8 1142.7 1010.9 C1153.2 1010.1 1164.4 1009.4 1174.2 1008.8 C1184 1008.3 1197.1 1007.9 1201.5 1007.8 C1205.9 1007.6 1196.3 1008.2 1200.4 1007.9 C1204.5 1007.6 1218 1006.5 1226.4 1006 C1234.7 1005.6 1242.7 1005.4 1250.5 1005.1 C1258.2 1004.8 1264.4 1004.6 1272.7 1004.2 C1281.1 1003.8 1291.2 1002.9 1300.5 1002.7 C1309.8 1002.4 1320 1002.6 1328.3 1002.7 C1336.7 1002.8 1344.4 1003.1 1350.6 1003.2 C1356.8 1003.4 1360.8 1003.6 1365.4 1003.8 C1370 1003.9 1373.1 1004.3 1378.4 1004.2 C1383.7 1004.1 1390 1002.6 1397.1 1003.2 C1404.2 1003.9 1413.5 1006.5 1421.2 1007.9 C1428.9 1009.3 1436.6 1010.7 1443.4 1011.6 C1450.2 1012.5 1455.8 1013.2 1462 1013.4 C1468.2 1013.7 1475.3 1013.4 1480.5 1013.1 C1485.8 1012.8 1489.9 1012.3 1493.5 1011.6 C1497.1 1010.9 1500.5 1009.3 1501.8 1008.8" fill="none" stroke="#000" stroke-width="4.0" stroke-linecap="round" stroke-linejoin="round"/>
<path d="M997.7 993.1 C1000.8 993.8 1010.3 995.2 1016.6 997.3 C1022.9 999.4 1030.2 1002.9 1035.5 1005.7 C1040.8 1008.5 1044.6 1010.8 1048.1 1014.1 C1051.6 1017.4 1054.2 1021.3 1056.5 1025.6 C1058.8 1030 1060.4 1035.5 1061.8 1040.4 C1063.2 1045.3 1063.9 1050.5 1064.9 1055.1 C1066 1059.6 1067 1062.8 1068.1 1067.7 C1069.1 1072.6 1070.3 1078.9 1071.2 1084.5 C1072.1 1090.1 1072.9 1095.7 1073.3 1101.3 C1073.7 1106.9 1073.6 1111.8 1073.7 1118.1 C1073.9 1124.4 1073.9 1132.1 1074.4 1139.1 C1074.8 1146.1 1076 1153.1 1076.5 1160.1 C1077 1167.1 1077.4 1177.6 1077.5 1181.1" fill="none" stroke="#000" stroke-width="4.0" stroke-linecap="round" stroke-linejoin="round"/>
<path d="M997.7 993.1 C994.9 993.5 985.8 994.2 980.9 995.8 C976 997.4 971.6 999.7 968.3 1002.5 C964.9 1005.4 962.6 1008.8 960.9 1013 C959.2 1017.2 958.5 1023.2 958.2 1027.8 C957.8 1032.3 958.5 1037.6 958.8 1040.4 C959.1 1043.2 959.7 1043.9 959.9 1044.6" fill="none" stroke="#000" stroke-width="4.0" stroke-linecap="round" stroke-linejoin="round"/>
<path d="M1045 1016.2 C1042 1016.5 1033.6 1017.4 1027.1 1018.3 C1020.6 1019.2 1011.2 1020.2 1006.1 1021.4 C1001 1022.7 999.1 1022.8 996.6 1025.6 C994.2 1028.5 992.5 1033.4 991.4 1038.3 C990.2 1043.2 990 1048.8 989.7 1055.1 C989.4 1061.4 989.6 1069.1 989.7 1076.1 C989.8 1083.1 989.9 1090.1 990.3 1097.1 C990.8 1104.1 991.7 1111.1 992.4 1118.1 C993.1 1125.1 993.6 1131.4 994.5 1139.1 C995.4 1146.8 996.6 1157 997.7 1164.3 C998.7 1171.7 999.8 1177.1 1000.8 1183.3 C1001.9 1189.4 1003.5 1198.1 1004 1201.1" fill="none" stroke="#000" stroke-width="4.0" stroke-linecap="round" stroke-linejoin="round"/>
<path d="M959.9 1045.6 C961.6 1047.2 966.2 1051.9 970.4 1055.1 C974.6 1058.2 980.5 1062.2 985.1 1064.5 C989.6 1066.8 992.4 1067.8 997.7 1068.7 C1002.9 1069.7 1009.9 1070.2 1016.6 1070.2 C1023.2 1070.2 1031.6 1069.7 1037.6 1068.7 C1043.6 1067.8 1048.5 1066.5 1052.3 1064.5 C1056.2 1062.6 1059.3 1058.4 1060.7 1057.2" fill="none" stroke="#000" stroke-width="4.0" stroke-linecap="round" stroke-linejoin="round"/>
<path d="M953.5 979.4 C952 980.3 946.6 982 944.1 984.7 C941.6 987.3 939.6 991.2 938.4 995.2 C937.2 999.2 936.8 1004.8 936.7 1008.8 C936.6 1012.9 937.4 1016.9 937.8 1019.3 C938.2 1021.8 939 1022.8 939.3 1023.5" fill="none" stroke="#000" stroke-width="4.0" stroke-linecap="round" stroke-linejoin="round"/>
<path d="M928.3 1017.2 C928.1 1019.3 926.9 1024.6 926.7 1029.9 C926.4 1035.1 926.2 1043.2 926.7 1048.8 C927.1 1054.4 927.7 1059.3 929.4 1063.5 C931.1 1067.7 933.4 1070.5 936.7 1074 C940.1 1077.5 945.1 1080.6 949.3 1084.5 C953.5 1088.3 959.9 1095 962 1097.1" fill="none" stroke="#000" stroke-width="4.0" stroke-linecap="round" stroke-linejoin="round"/>
<path d="M938.8 1027.8 C938.3 1029.9 936.1 1035.8 935.7 1040.4 C935.3 1044.9 935.6 1049.8 936.3 1055.1 C937 1060.3 938.6 1067.7 939.9 1071.9 C941.2 1076.1 943.4 1078.9 944.1 1080.3" fill="none" stroke="#000" stroke-width="4.0" stroke-linecap="round" stroke-linejoin="round"/>
<path d="M959.9 1045.6 C959.2 1047.9 956.3 1054.2 955.6 1059.3 C954.9 1064.3 954.9 1070.5 955.6 1076.1 C956.3 1081.7 958.5 1087.8 959.9 1092.9 C961.2 1098 962.7 1102.3 963.6 1106.6 C964.6 1110.8 965.1 1112.7 965.7 1118.1 C966.3 1123.5 966.8 1132.1 967.2 1139.1 C967.6 1146.1 968.1 1156.6 968.3 1160.1" fill="none" stroke="#000" stroke-width="4.0" stroke-linecap="round" stroke-linejoin="round"/>
<path d="M935.7 1076.1 C935 1078.2 932.2 1083.4 931.5 1088.7 C930.8 1093.9 930.7 1102.3 931.5 1107.6 C932.3 1112.9 934 1116.4 936.3 1120.2 C938.6 1124.1 943.7 1129 945.1 1130.7" fill="none" stroke="#000" stroke-width="4.0" stroke-linecap="round" stroke-linejoin="round"/>
<path d="M947.2 1091.8 C946.6 1094.3 944 1101.1 943.7 1106.6 C943.3 1112 944 1119 945.1 1124.4 C946.3 1129.8 948.1 1134.9 950.4 1139.1 C952.7 1143.3 955.8 1146.1 958.8 1149.6 C961.8 1153.1 966.7 1158.4 968.3 1160.1" fill="none" stroke="#000" stroke-width="4.0" stroke-linecap="round" stroke-linejoin="round"/>
<path d="M963 1113.9 C964.6 1115.7 968.8 1121.3 972.5 1124.4 C976.1 1127.6 980.9 1130.7 985.1 1132.8 C989.3 1134.9 992.4 1135.8 997.7 1137 C1002.9 1138.2 1009.9 1140 1016.6 1140.2 C1023.2 1140.3 1030.6 1139.5 1037.6 1138.1 C1044.6 1136.7 1052.7 1133.5 1058.6 1131.8 C1064.6 1130 1070.9 1128.3 1073.3 1127.6" fill="none" stroke="#000" stroke-width="4.0" stroke-linecap="round" stroke-linejoin="round"/>
<path d="M968.3 1160.1 C969.7 1162.9 973.5 1172 976.7 1176.9 C979.8 1181.9 983.7 1186.1 987.2 1189.6 C990.7 1193.1 994.5 1196 997.7 1198 C1000.8 1199.9 1001.2 1201.1 1006.1 1201.1 C1011 1201.1 1018.3 1199.9 1027.1 1198 C1035.9 1196 1050.4 1192 1058.6 1189.6 C1066.8 1187.1 1073.5 1184.3 1076.5 1183.3" fill="none" stroke="#000" stroke-width="4.0" stroke-linecap="round" stroke-linejoin="round"/>
<path d="M1191.1 964.3 C1192.2 965.7 1196.1 968.5 1197.6 972.6 C1199.2 976.8 1199.9 983.5 1200.4 989.3 C1200.9 995.2 1200.1 1002.3 1200.4 1007.9 C1200.7 1013.4 1201.5 1018.1 1202.2 1022.7 C1203 1027.3 1204.6 1033.5 1205 1035.7" fill="none" stroke="#000" stroke-width="4.0" stroke-linecap="round" stroke-linejoin="round"/>
<path d="M1233.8 963.4 C1235.3 964.9 1240.9 968.3 1243 972.6 C1245.2 977 1246 984.1 1246.7 989.3 C1247.5 994.6 1246.9 999.2 1247.7 1004.2 C1248.4 1009.1 1250.5 1014.2 1251.4 1019 C1252.3 1023.8 1252.9 1030.6 1253.2 1032.9" fill="none" stroke="#000" stroke-width="4.0" stroke-linecap="round" stroke-linejoin="round"/>
<path d="M1274.6 963 C1276 964.6 1280.9 968.3 1282.9 972.6 C1284.9 977 1286 984.1 1286.6 989.3 C1287.2 994.6 1286.1 999.2 1286.6 1004.2 C1287.1 1009.1 1288.6 1014.5 1289.4 1019 C1290.2 1023.5 1290.9 1029 1291.2 1031.1" fill="none" stroke="#000" stroke-width="4.0" stroke-linecap="round" stroke-linejoin="round"/>
<path d="M1309.8 963.4 C1311.3 964.9 1317.1 968.3 1319.1 972.6 C1321.1 977 1321.4 984.1 1321.8 989.3 C1322.3 994.6 1321.5 999.5 1321.8 1004.2 C1322.2 1008.8 1323.2 1013.1 1323.7 1017.1 C1324.2 1021.2 1324.5 1026.4 1324.6 1028.3" fill="none" stroke="#000" stroke-width="4.0" stroke-linecap="round" stroke-linejoin="round"/>
<path d="M1345 965.2 C1345.8 966.5 1348.7 968.9 1349.7 972.6 C1350.6 976.4 1350.4 982.2 1350.6 987.5 C1350.7 992.7 1350.3 999.5 1350.6 1004.2 C1350.9 1008.8 1352 1011.7 1352.4 1015.3 C1352.9 1018.8 1353.2 1023.8 1353.4 1025.5" fill="none" stroke="#000" stroke-width="4.0" stroke-linecap="round" stroke-linejoin="round"/>
<path d="M1367.3 967.1 C1368.5 968.3 1373 971.4 1374.7 974.5 C1376.4 977.6 1376.8 980.7 1377.5 985.6 C1378.1 990.6 1378.2 997.8 1378.4 1004.2 C1378.5 1010.5 1378.4 1020.4 1378.4 1023.6" fill="none" stroke="#000" stroke-width="4.0" stroke-linecap="round" stroke-linejoin="round"/>
<path d="M1393.4 969.9 C1391.8 971.3 1386.3 975 1384.1 978.2 C1381.9 981.5 1381 987.5 1380.4 989.3" fill="none" stroke="#000" stroke-width="4.0" stroke-linecap="round" stroke-linejoin="round"/>
<path d="M1434.2 974.5 C1432.9 975.7 1428.6 978.8 1426.7 981.9 C1424.9 985 1423.7 989.3 1423 993 C1422.4 996.7 1422.8 1001.4 1422.7 1004.2 C1422.5 1006.9 1422.2 1008.8 1422.1 1009.7" fill="none" stroke="#000" stroke-width="4.0" stroke-linecap="round" stroke-linejoin="round"/>
<path d="M1421.2 1009.7 C1420.6 1011.3 1418.4 1015.9 1417.5 1019 C1416.6 1022.1 1415.9 1026.7 1415.6 1028.3" fill="none" stroke="#000" stroke-width="4.0" stroke-linecap="round" stroke-linejoin="round"/>
<path d="M1486.1 984.7 C1487.3 984.6 1491.2 984.4 1493.5 984.1 C1495.8 983.8 1498.9 983.1 1500 982.8" fill="none" stroke="#000" stroke-width="4.0" stroke-linecap="round" stroke-linejoin="round"/>
<path d="M1064.9 1057.2 C1067.7 1056.8 1076.1 1055.4 1081.7 1055.1 C1087.3 1054.7 1094 1054.4 1098.5 1055.1 C1103.1 1055.8 1106.4 1057.5 1109 1059.3 C1111.7 1061 1113.4 1064.5 1114.3 1065.6" fill="none" stroke="#000" stroke-width="4.0" stroke-linecap="round" stroke-linejoin="round"/>
<path d="M1098.5 1053 C1102.4 1052.1 1112.6 1048.9 1121.7 1047.7 C1130.8 1046.5 1145.1 1045.8 1153.2 1045.6 C1161.2 1045.4 1165.8 1045.8 1170 1046.7 C1174.2 1047.5 1176.3 1049.5 1178.4 1050.9 C1180.5 1052.3 1181.9 1054.4 1182.6 1055.1" fill="none" stroke="#000" stroke-width="4.0" stroke-linecap="round" stroke-linejoin="round"/>
<path d="M1163.7 1042.5 C1167.2 1041.8 1177.7 1039.1 1184.7 1038.3 C1191.7 1037.4 1198.6 1037.4 1205.6 1037.2 C1212.5 1037 1221.3 1036.5 1226.4 1037.2 C1231.4 1037.8 1233 1039.7 1235.6 1041.2 C1238.3 1042.8 1241 1045.6 1242.1 1046.4" fill="none" stroke="#000" stroke-width="4.0" stroke-linecap="round" stroke-linejoin="round"/>
<path d="M1226.4 1036.8 C1231 1036.5 1245.8 1035.2 1254.2 1034.8 C1262.5 1034.3 1271.3 1033.4 1276.4 1034.2 C1281.5 1035 1282.4 1037.8 1284.8 1039.4 C1287.1 1041 1289.4 1043.3 1290.3 1044" fill="none" stroke="#000" stroke-width="4.0" stroke-linecap="round" stroke-linejoin="round"/>
<path d="M1276.4 1033.8 C1280.4 1033.5 1294.3 1032.3 1300.5 1032 C1306.7 1031.6 1310.4 1030.8 1313.5 1031.6 C1316.6 1032.4 1317.8 1035.2 1319.1 1036.6 C1320.3 1038.1 1320.6 1039.7 1320.9 1040.3" fill="none" stroke="#000" stroke-width="4.0" stroke-linecap="round" stroke-linejoin="round"/>
<path d="M1309.8 1031.1 C1312.9 1030.7 1322.2 1029.5 1328.3 1029.2 C1334.5 1028.9 1341.9 1028.7 1346.9 1029.2 C1351.8 1029.7 1356.1 1031.5 1358 1032" fill="none" stroke="#000" stroke-width="4.0" stroke-linecap="round" stroke-linejoin="round"/>
<path d="M1343.2 1027.9 C1346.9 1027.7 1359.9 1026.4 1365.4 1026.4 C1371 1026.4 1374.7 1027.7 1376.5 1027.9" fill="none" stroke="#000" stroke-width="4.0" stroke-linecap="round" stroke-linejoin="round"/>
<path d="M1071.2 1069.8 C1074.4 1069.4 1083.5 1068 1090.1 1067.7 C1096.8 1067.3 1104.8 1066.8 1111.1 1067.7 C1117.5 1068.6 1123.1 1070.8 1128 1072.9 C1132.9 1075 1137.2 1077 1140.6 1080.3 C1143.9 1083.6 1146.2 1088.3 1147.9 1092.9 C1149.7 1097.4 1150.7 1103.4 1151.1 1107.6 C1151.4 1111.8 1150.2 1116.4 1150 1118.1" fill="none" stroke="#000" stroke-width="4.0" stroke-linecap="round" stroke-linejoin="round"/>
<path d="M1150 1120.2 C1150.4 1123.4 1152 1133.2 1152.1 1139.1 C1152.3 1145.1 1151.6 1151.4 1151.1 1155.9 C1150.6 1160.5 1149.3 1164.7 1149 1166.4" fill="none" stroke="#000" stroke-width="4.0" stroke-linecap="round" stroke-linejoin="round"/>
<path d="M1119.6 1066.6 C1123.4 1065.6 1134.3 1061.9 1142.7 1060.3 C1151.1 1058.7 1163.8 1057.6 1170 1057.2 C1176.2 1056.8 1175.2 1057.5 1180 1057.9 C1184.8 1058.4 1193.3 1057.6 1198.5 1059.8 C1203.8 1062 1208.1 1066.3 1211.5 1070.9 C1214.9 1075.6 1217.5 1081.7 1218.9 1087.6 C1220.3 1093.5 1219.7 1103.1 1219.9 1106.1" fill="none" stroke="#000" stroke-width="4.0" stroke-linecap="round" stroke-linejoin="round"/>
<path d="M1219.9 1108 C1220.2 1111.7 1222.2 1122.5 1221.7 1130.2 C1221.3 1138 1217.9 1150.3 1217.1 1154.4" fill="none" stroke="#000" stroke-width="4.0" stroke-linecap="round" stroke-linejoin="round"/>
<path d="M1187.4 1056.5 C1190.8 1055.5 1200.7 1052 1207.8 1050.5 C1214.9 1049.1 1223 1048.3 1230.1 1047.7 C1237.2 1047.2 1244 1046.4 1250.5 1047.2 C1256.9 1048 1263.9 1049.3 1269 1052.4 C1274.1 1055.4 1278.1 1060.7 1281.1 1065.4 C1284 1070 1285.5 1075.6 1286.6 1080.2 C1287.7 1084.8 1287.4 1091 1287.5 1093.2" fill="none" stroke="#000" stroke-width="4.0" stroke-linecap="round" stroke-linejoin="round"/>
<path d="M1287.5 1095 C1288 1098.4 1290.6 1107.7 1290.3 1115.4 C1290 1123.1 1286.5 1137 1285.7 1141.4" fill="none" stroke="#000" stroke-width="4.0" stroke-linecap="round" stroke-linejoin="round"/>
<path d="M1252.3 1046.8 C1255.7 1046.5 1266.2 1045.3 1272.7 1045 C1279.2 1044.6 1285.1 1044.8 1291.2 1045 C1297.4 1045.1 1303.6 1044.6 1309.8 1045.9 C1316 1047.1 1323.1 1049.4 1328.3 1052.4 C1333.6 1055.3 1338.4 1059.5 1341.3 1063.5 C1344.2 1067.5 1345.3 1072.8 1345.9 1076.5 C1346.6 1080.2 1345.2 1084.2 1345 1085.7" fill="none" stroke="#000" stroke-width="4.0" stroke-linecap="round" stroke-linejoin="round"/>
<path d="M1345 1086.7 C1345.2 1089.9 1346.7 1099.5 1345.9 1106.1 C1345.2 1112.8 1341.3 1123.1 1340.4 1126.5" fill="none" stroke="#000" stroke-width="4.0" stroke-linecap="round" stroke-linejoin="round"/>
<path d="M1313.5 1039.4 C1317.5 1039.2 1330.5 1038.2 1337.6 1038.5 C1344.7 1038.8 1350.9 1039.5 1356.1 1041.2 C1361.4 1042.9 1365.9 1045.6 1369.1 1048.7 C1372.4 1051.8 1374.4 1055.5 1375.6 1059.8 C1376.8 1064.1 1376.4 1071.5 1376.5 1074.6 C1376.6 1077.7 1376.2 1077.7 1376.2 1078.3" fill="none" stroke="#000" stroke-width="4.0" stroke-linecap="round" stroke-linejoin="round"/>
<path d="M1376.2 1078.3 C1375.8 1081.4 1374.8 1089.5 1373.8 1096.9 C1372.7 1104.3 1370.7 1118.5 1370 1122.8" fill="none" stroke="#000" stroke-width="4.0" stroke-linecap="round" stroke-linejoin="round"/>
<path d="M1076.5 1130.7 C1082.3 1129.7 1098.7 1126.5 1111.1 1124.4 C1123.6 1122.3 1138.8 1120.2 1151.1 1118.1 C1163.3 1116 1179.9 1112.6 1184.7 1111.8 C1189.5 1111 1174.6 1114.5 1180 1113.6 C1185.4 1112.6 1204.7 1108.5 1217.1 1106.1 C1229.4 1103.8 1242.4 1101.8 1254.2 1099.7 C1265.9 1097.5 1276.7 1094.9 1287.5 1093.2 C1298.4 1091.5 1309.5 1090.7 1319.1 1089.5 C1328.6 1088.2 1337.9 1087.1 1345 1085.7 C1352.1 1084.4 1356.5 1082.6 1361.7 1081.1 C1366.9 1079.6 1373.8 1077.6 1376.2 1076.8" fill="none" stroke="#000" stroke-width="4.0" stroke-linecap="round" stroke-linejoin="round"/>
<path d="M1077.5 1181.1 C1083.1 1180.3 1102 1177.5 1111.1 1175.9 C1120.3 1174.3 1125.9 1173.3 1132.2 1171.7 C1138.5 1170.1 1142 1167.8 1149 1166.4 C1156 1165 1164.7 1164.7 1174.2 1163.3 C1183.6 1161.9 1201.7 1158.3 1205.7 1158 C1209.8 1157.8 1196.6 1162.2 1198.5 1161.8 C1200.4 1161.3 1209.4 1157 1217.1 1155.3 C1224.8 1153.6 1237.2 1153 1244.9 1151.6 C1252.6 1150.2 1256.6 1148.6 1263.4 1146.9 C1270.2 1145.2 1278 1143.1 1285.7 1141.4 C1293.4 1139.7 1300.7 1138.7 1309.8 1136.7 C1318.9 1134.7 1332.7 1131 1340.4 1129.3 C1348.1 1127.6 1351.2 1127.6 1356.1 1126.5 C1361.1 1125.5 1367.7 1123.4 1370 1122.8" fill="none" stroke="#000" stroke-width="4.0" stroke-linecap="round" stroke-linejoin="round"/>
<path d="M1415.6 1029.2 C1418.7 1029.6 1428.6 1030.7 1434.2 1031.6 C1439.7 1032.5 1444.1 1034.2 1449 1034.8 C1453.9 1035.3 1458.6 1035.1 1463.8 1034.8 C1469.1 1034.4 1474.6 1033.4 1480.5 1032.9 C1486.4 1032.4 1492.9 1032 1499.1 1032 C1505.2 1032 1511.4 1032.2 1517.6 1032.9 C1523.8 1033.6 1530 1035.5 1536.1 1036.1 C1542.3 1036.6 1548.5 1035.8 1554.7 1036.1 C1560.9 1036.3 1567 1036.7 1573.2 1037.5 C1579.4 1038.4 1586.5 1040.1 1591.8 1041.2 C1597 1042.4 1601.5 1043 1604.7 1044.6 C1608 1046.1 1609.7 1048 1611.2 1050.5 C1612.8 1053.1 1613.5 1055.8 1614 1059.8 C1614.5 1063.8 1614.1 1069.7 1614.4 1074.6 C1614.6 1079.6 1615.6 1084.2 1615.5 1089.5 C1615.4 1094.7 1614.9 1101.2 1614 1106.1 C1613.2 1111.1 1611.5 1116.1 1610.3 1119.1 C1609.1 1122.2 1607.2 1123.4 1606.6 1124.3" fill="none" stroke="#000" stroke-width="4.0" stroke-linecap="round" stroke-linejoin="round"/>
<path d="M1378.5 1050.5 C1380.1 1049.4 1383.2 1045.6 1387.8 1044 C1392.4 1042.4 1400.2 1041.5 1406.4 1040.9 C1412.5 1040.3 1419.3 1040.1 1424.9 1040.5 C1430.5 1040.9 1436 1041.9 1439.7 1043.1 C1443.4 1044.3 1445.9 1047 1447.1 1047.7" fill="none" stroke="#000" stroke-width="4.0" stroke-linecap="round" stroke-linejoin="round"/>
<path d="M1419.3 1074.6 C1419.6 1072.5 1418.7 1065.1 1421.2 1061.6 C1423.7 1058.2 1428.9 1055.6 1434.2 1053.9 C1439.4 1052.1 1446.5 1051.6 1452.7 1050.9 C1458.9 1050.2 1465.1 1049.7 1471.2 1049.6 C1477.4 1049.5 1483.6 1049.4 1489.8 1050.1 C1496 1050.9 1503.1 1052.3 1508.3 1054.2 C1513.6 1056.1 1518.2 1058.9 1521.3 1061.6 C1524.4 1064.4 1525.8 1067.5 1526.9 1070.9 C1528 1074.3 1527.8 1078.6 1527.8 1082 C1527.8 1085.4 1527 1089.8 1526.9 1091.3" fill="none" stroke="#000" stroke-width="4.0" stroke-linecap="round" stroke-linejoin="round"/>
<path d="M1487.9 1047.2 C1490.7 1046.7 1498.1 1044.7 1504.6 1044 C1511.1 1043.3 1520.1 1042.9 1526.9 1043.1 C1533.7 1043.3 1540.8 1043.8 1545.4 1045.3 C1550 1046.9 1552.2 1049.3 1554.7 1052.4 C1557.2 1055.4 1559.2 1059.5 1560.2 1063.5 C1561.3 1067.5 1561 1072.9 1561.2 1076.5 C1561.3 1080 1561.2 1083.4 1561.2 1084.8" fill="none" stroke="#000" stroke-width="4.0" stroke-linecap="round" stroke-linejoin="round"/>
<path d="M1517.6 1041.2 C1520.7 1040.9 1530 1039.6 1536.1 1039.4 C1542.3 1039.1 1548.5 1039.4 1554.7 1039.8 C1560.9 1040.1 1568.3 1040.1 1573.2 1041.6 C1578.2 1043.1 1581.6 1045.6 1584.4 1048.7 C1587.1 1051.7 1588.8 1055.2 1589.9 1059.8 C1591 1064.4 1590.7 1073.7 1590.8 1076.5" fill="none" stroke="#000" stroke-width="4.0" stroke-linecap="round" stroke-linejoin="round"/>
<path d="M1545.4 1037.2 C1548.5 1037.1 1557.8 1036.2 1564 1036.6 C1570.1 1037 1576.6 1038 1582.5 1039.4 C1588.4 1040.8 1594.9 1043.1 1599.2 1045 C1603.5 1046.8 1606.9 1049.6 1608.5 1050.5" fill="none" stroke="#000" stroke-width="4.0" stroke-linecap="round" stroke-linejoin="round"/>
<path d="M1360 1027.3 C1361.2 1027 1364.3 1025.8 1367.4 1025.4 C1370.5 1025 1374.6 1024.6 1378.5 1024.8 C1382.5 1025 1386.8 1025.7 1390.9 1026.7 C1395 1027.6 1399.1 1028.9 1403.3 1030.4 C1407.4 1031.8 1412.1 1033.9 1415.6 1035.3 C1419.1 1036.8 1422.8 1038.4 1424.3 1039" fill="none" stroke="#000" stroke-width="4.0" stroke-linecap="round" stroke-linejoin="round"/>
<path d="M1372.4 1034.1 C1374.4 1033.9 1380.6 1032.8 1384.7 1032.8 C1388.8 1032.8 1393 1033.5 1397.1 1034.1 C1401.2 1034.7 1405.7 1035.6 1409.4 1036.6 C1413.2 1037.5 1416.4 1038.5 1419.3 1039.7 C1422.2 1040.8 1425.5 1042.7 1426.7 1043.4" fill="none" stroke="#000" stroke-width="4.0" stroke-linecap="round" stroke-linejoin="round"/>
<path d="M1405.7 1029.8 C1408 1029.5 1415 1028.2 1419.3 1028.3 C1423.7 1028.4 1427.6 1029.4 1431.7 1030.4 C1435.8 1031.4 1440.3 1033.1 1444 1034.1 C1447.8 1035.1 1452.3 1036.1 1453.9 1036.6" fill="none" stroke="#000" stroke-width="4.0" stroke-linecap="round" stroke-linejoin="round"/>
<path d="M1426.7 1040.3 C1429 1040.1 1436 1039.1 1440.3 1039 C1444.7 1038.9 1448.6 1039.2 1452.7 1039.7 C1456.8 1040.1 1461 1040.7 1465.1 1041.5 C1469.2 1042.3 1474.1 1043.7 1477.4 1044.6 C1480.7 1045.5 1483.6 1046.7 1484.8 1047.1" fill="none" stroke="#000" stroke-width="4.0" stroke-linecap="round" stroke-linejoin="round"/>
<path d="M1456.4 1035.9 C1458.5 1035.5 1464.7 1034 1468.8 1033.5 C1472.9 1032.9 1477.6 1032.7 1481.1 1032.8 C1484.6 1033 1486.3 1033.3 1489.8 1034.1 C1493.3 1034.9 1498.7 1036.6 1502.2 1037.8 C1505.7 1039 1508.5 1040.7 1510.8 1041.5 C1513.1 1042.3 1514.9 1042.5 1515.7 1042.7" fill="none" stroke="#000" stroke-width="4.0" stroke-linecap="round" stroke-linejoin="round"/>
<path d="M1491 1032.2 C1492.9 1031.9 1498.2 1030.5 1502.2 1030.4 C1506.1 1030.3 1510.4 1031 1514.5 1031.6 C1518.6 1032.2 1523.4 1033.3 1526.9 1034.1 C1530.4 1034.9 1532.4 1035.8 1535.5 1036.6 C1538.6 1037.3 1541.3 1037.9 1545.4 1038.4 C1549.5 1038.9 1557.6 1039.4 1560 1039.7" fill="none" stroke="#000" stroke-width="4.0" stroke-linecap="round" stroke-linejoin="round"/>
<path d="M1376.5 1077.4 C1379.9 1078.2 1389.6 1080.2 1397.1 1082 C1404.5 1083.9 1411.9 1086.5 1421.2 1088.5 C1430.5 1090.5 1441.6 1092.5 1452.7 1094.1 C1463.8 1095.6 1478.7 1097.6 1487.9 1097.8 C1497.2 1098 1501.8 1095.8 1508.3 1095 C1514.8 1094.2 1517.6 1094.4 1526.9 1093.2 C1536.1 1091.9 1553.1 1089.6 1564 1087.6 C1574.8 1085.6 1583.4 1083.4 1591.8 1081.1 C1600.1 1078.8 1610.3 1074.9 1614 1073.7" fill="none" stroke="#000" stroke-width="4.0" stroke-linecap="round" stroke-linejoin="round"/>
<path d="M1492.6 1070.9 C1492.3 1073.7 1491.3 1080.2 1490.7 1087.6 C1490.1 1095 1489.6 1106.8 1488.9 1115.4 C1488.1 1124.1 1487 1132.3 1486.1 1139.5 C1485.2 1146.8 1483.8 1155.7 1483.3 1159" fill="none" stroke="#000" stroke-width="4.0" stroke-linecap="round" stroke-linejoin="round"/>
<path d="M1370 1122.8 C1373 1123.8 1380.8 1126.5 1387.8 1128.8 C1394.8 1131 1404.2 1133.5 1411.9 1136.2 C1419.6 1138.9 1425.8 1141.7 1434.2 1145.1 C1442.5 1148.4 1453.9 1153.3 1462 1156.2 C1470 1159.1 1476.2 1162.4 1482.4 1162.7 C1488.6 1163 1492.3 1160.8 1499.1 1158.1 C1505.9 1155.3 1515.4 1149.1 1523.2 1146 C1530.9 1142.9 1539.9 1141.1 1545.4 1139.5 C1551 1138 1551.9 1138 1556.5 1136.7 C1561.2 1135.4 1567.4 1133.4 1573.2 1131.7 C1579.1 1130.1 1586.2 1128.1 1591.8 1126.9 C1597.3 1125.7 1604.1 1124.7 1606.6 1124.3" fill="none" stroke="#000" stroke-width="4.0" stroke-linecap="round" stroke-linejoin="round"/>
<path d="M1419.3 1089.5 C1418.4 1091.9 1415 1098.7 1413.8 1104.3 C1412.5 1109.9 1411.6 1117.4 1411.9 1122.8 C1412.2 1128.2 1415 1134.4 1415.6 1136.7" fill="none" stroke="#000" stroke-width="4.0" stroke-linecap="round" stroke-linejoin="round"/>
<path d="M1527.8 1093.2 C1528.3 1095.6 1530.6 1102.4 1531 1108 C1531.3 1113.6 1531 1120.2 1529.7 1126.5 C1528.4 1132.9 1524.2 1142.8 1523.2 1146" fill="none" stroke="#000" stroke-width="4.0" stroke-linecap="round" stroke-linejoin="round"/>
<path d="M1561.2 1086.7 C1561.8 1089.3 1564.4 1096.7 1564.9 1102.4 C1565.3 1108.2 1565.3 1115.3 1564 1121 C1562.6 1126.7 1557.8 1134.1 1556.5 1136.7" fill="none" stroke="#000" stroke-width="4.0" stroke-linecap="round" stroke-linejoin="round"/>
<path d="M1590.8 1079.3 C1591.5 1081.7 1594 1088.5 1594.5 1094.1 C1595.1 1099.7 1595 1107.2 1594 1112.6 C1593 1118 1589.4 1124.2 1588.4 1126.5" fill="none" stroke="#000" stroke-width="4.0" stroke-linecap="round" stroke-linejoin="round"/>
<path d="M1022.9 1201.1 L1060.7 1191.7" fill="none" stroke="#000" stroke-width="3.5" stroke-linecap="round" stroke-linejoin="round"/>
<path d="M1465.7 1159.9 C1468.5 1160.4 1476.2 1163.3 1482.4 1162.9 C1488.6 1162.4 1499.4 1158.1 1502.8 1157.1" fill="none" stroke="#000" stroke-width="3.5" stroke-linecap="round" stroke-linejoin="round"/>
<path d="M1588.1 1126.9 L1606.6 1124.7" fill="none" stroke="#000" stroke-width="3.5" stroke-linecap="round" stroke-linejoin="round"/>
<path d="M928.9 945.8 L1374 938.8" stroke="#000" stroke-width="2.3" fill="none"/>
<path d="M916.3 946 L937.4 951.9 L931 945.8 L937.2 939.5 Z" fill="#000"/>
<path d="M1386.6 938.6 L1365.7 945.1 L1371.9 938.8 L1365.5 932.7 Z" fill="#000"/>
<path d="M1400.4 939.3 L1614.4 956.8" stroke="#000" stroke-width="2.3" fill="none"/>
<path d="M1387.8 938.3 L1408.2 946.2 L1402.5 939.5 L1409.2 933.8 Z" fill="#000"/>
<path d="M1627 957.8 L1605.6 962.3 L1612.3 956.6 L1606.6 949.9 Z" fill="#000"/>
<g transform="translate(1164.3 930) rotate(0) scale(0.9223 1)"><text x="-17.3" y="7.6" font-family="Liberation Serif" font-size="23.22" font-weight="normal" fill="#000">292</text></g>
<g transform="translate(1498.6 938.3) rotate(4.7) scale(0.8632 1)"><text x="-15.2" y="6.4" font-family="Liberation Serif" font-size="19.56" font-weight="normal" fill="#000">170</text></g>
<path d="M897 989.4 L895.3 1100.2" stroke="#000" stroke-width="2.3" fill="none"/>
<path d="M897.2 976.8 L890.7 997.7 L897 991.5 L903.1 997.9 Z" fill="#000"/>
<path d="M895.1 1112.8 L889.2 1091.7 L895.3 1098.1 L901.6 1091.9 Z" fill="#000"/>
<g transform="translate(874.2 1045.2) rotate(0) scale(0.9268 1)"><text x="-10.8" y="7" font-family="Liberation Serif" font-size="21.49" font-weight="normal" fill="#000">68</text></g>
<path d="M904.4 1127.1 L964.9 1207.8" stroke="#000" stroke-width="2.3" fill="none"/>
<path d="M896.8 1117 L904.4 1137.5 L905.6 1128.8 L914.4 1130.1 Z" fill="#000"/>
<path d="M972.5 1217.9 L954.9 1204.8 L963.7 1206.1 L964.9 1197.4 Z" fill="#000"/>
<g transform="translate(915.7 1170.6) rotate(53) scale(0.8846 1)"><text x="-17.2" y="7.3" font-family="Liberation Serif" font-size="22.23" font-weight="normal" fill="#000">105</text></g>
<path d="M1631.6 1053.9 L1631.6 1119.5" stroke="#000" stroke-width="2.3" fill="none"/>
<path d="M1631.6 1041.3 L1625.4 1062.3 L1631.6 1056 L1637.8 1062.3 Z" fill="#000"/>
<path d="M1631.6 1132.1 L1625.4 1111.1 L1631.6 1117.4 L1637.8 1111.1 Z" fill="#000"/>
<g transform="translate(1646 1087.2) rotate(0) scale(0.9344 1)"><text x="-8.8" y="6" font-family="Liberation Serif" font-size="18.27" font-weight="normal" fill="#000">42</text></g>
<path d="M1552.2 1170.6 L1600.8 1147.1" stroke="#000" stroke-width="2" fill="none"/>
<path d="M1543.6 1174.8 L1560.2 1172.3 L1553.7 1169.9 L1555.8 1163.3 Z" fill="#000"/>
<path d="M1609.4 1142.9 L1597.2 1154.4 L1599.3 1147.8 L1592.8 1145.4 Z" fill="#000"/>
<path d="M356.7 1520.1 C356.2 1517.5 354 1510.1 353.4 1504.5 C352.8 1499 352.4 1491.8 353 1486.7 C353.5 1481.7 354.8 1477 356.7 1474.5 C358.7 1472 359.1 1472.5 364.5 1471.6 C369.9 1470.8 379 1469.9 389 1469.4 C399 1468.9 413.5 1468.9 424.6 1468.5 C435.7 1468.1 445 1467.2 455.7 1466.7 C466.5 1466.2 478 1466.1 489.1 1465.6 C500.2 1465.2 514.7 1464.2 522.5 1464.1 C530.3 1463.9 532.1 1463.3 535.8 1464.5 C539.6 1465.7 542.7 1467.8 544.7 1471.2 C546.8 1474.5 547.3 1480.1 548.1 1484.5 C548.8 1489 548.8 1493.8 549.2 1497.9 C549.6 1502 549.6 1505.3 550.3 1509 C551.1 1512.7 553.1 1515.7 553.6 1520.1 C554.2 1524.6 553.6 1533.1 553.6 1535.7" fill="none" stroke="#000" stroke-width="4.2" stroke-linecap="round" stroke-linejoin="round"/>
<path d="M356.7 1522.3 C358.4 1522.4 362.5 1522.5 366.7 1522.8 C371 1523.1 376.8 1524.4 382.3 1524.1 C387.9 1523.9 393.4 1522.1 400.1 1521.2 C406.8 1520.4 416.1 1519.6 422.4 1519 C428.7 1518.5 430.5 1518.8 437.9 1517.9 C445.4 1517 456.5 1514.7 466.9 1513.4 C477.3 1512.2 491 1510.9 500.2 1510.1 C509.5 1509.4 514.7 1509 522.5 1509 C530.3 1509 542.3 1509.7 547 1510.1 C551.6 1510.5 549.8 1511 550.3 1511.2" fill="none" stroke="#000" stroke-width="4.2" stroke-linecap="round" stroke-linejoin="round"/>
<path d="M424.6 1468.9 C426.1 1470.4 431.5 1473.8 433.5 1477.8 C435.5 1481.9 436.1 1486.7 436.8 1493.4 C437.6 1500.1 437 1511.2 437.9 1517.9 C438.9 1524.6 441.1 1528.1 442.4 1533.5 C443.7 1538.9 445.2 1547.4 445.7 1550.2" fill="none" stroke="#000" stroke-width="4.2" stroke-linecap="round" stroke-linejoin="round"/>
<path d="M489.1 1465.6 C490.2 1466.9 494.1 1469.9 495.8 1473.4 C497.5 1476.9 498.4 1480.8 499.1 1486.7 C499.9 1492.7 499.3 1502.3 500.2 1509 C501.2 1515.7 503.4 1521.4 504.7 1526.8 C506 1532.2 507.5 1538.9 508 1541.3" fill="none" stroke="#000" stroke-width="4.2" stroke-linecap="round" stroke-linejoin="round"/>
<path d="M356.7 1521.2 C356.2 1523.6 354 1530.3 353.4 1535.7 C352.8 1541.1 353 1548.7 353.4 1553.5 C353.8 1558.3 355.4 1560.2 355.6 1564.6 C355.8 1569.1 354 1575.4 354.5 1580.2 C355.1 1585 356.9 1589.5 359 1593.5 C361 1597.6 364.7 1602.1 366.7 1604.7 C368.8 1607.3 370.5 1608.4 371.2 1609.1" fill="none" stroke="#000" stroke-width="4.2" stroke-linecap="round" stroke-linejoin="round"/>
<path d="M369 1573.5 C368.6 1576.1 366.6 1583.2 366.7 1589.1 C366.9 1595 367.9 1602.8 370.1 1609.1 C372.3 1615.4 375.8 1621.4 380.1 1626.9 C384.4 1632.5 389.7 1636.9 395.7 1642.5 C401.6 1648.1 409.8 1655.5 415.7 1660.3 C421.6 1665.1 426.8 1668.8 431.3 1671.4 C435.7 1674 440.5 1675.1 442.4 1675.9" fill="none" stroke="#000" stroke-width="4.2" stroke-linecap="round" stroke-linejoin="round"/>
<path d="M367.9 1573.5 C369.5 1572.4 372.5 1569.1 377.9 1566.8 C383.3 1564.6 390.9 1562.2 400.1 1560.2 C409.4 1558.1 424.2 1555.7 433.5 1554.6 C442.8 1553.5 450.2 1553.3 455.7 1553.5 C461.3 1553.7 463.9 1554.4 466.9 1555.7 C469.8 1557 471.7 1559.8 473.5 1561.3 C475.4 1562.8 477.3 1564.1 478 1564.6" fill="none" stroke="#000" stroke-width="4.2" stroke-linecap="round" stroke-linejoin="round"/>
<path d="M455.7 1551.3 C459.5 1550.5 470.6 1547.9 478 1546.8 C485.4 1545.7 492.8 1544.8 500.2 1544.6 C507.7 1544.4 516.9 1545 522.5 1545.7 C528.1 1546.5 531 1547.9 533.6 1549 C536.2 1550.2 537.3 1551.8 538.1 1552.4" fill="none" stroke="#000" stroke-width="4.2" stroke-linecap="round" stroke-linejoin="round"/>
<path d="M522.5 1541.3 C526.2 1540.7 537.3 1538.3 544.7 1537.9 C552.2 1537.6 560.3 1538.1 567 1539 C573.7 1540 581.1 1542.4 584.8 1543.5 C588.5 1544.6 588.5 1545.3 589.2 1545.7" fill="none" stroke="#000" stroke-width="4.2" stroke-linecap="round" stroke-linejoin="round"/>
<path d="M395.7 1602.4 C396 1599.9 395.3 1591.3 397.9 1586.9 C400.5 1582.4 405.3 1578.9 411.2 1575.7 C417.2 1572.6 426.1 1569.6 433.5 1568 C440.9 1566.3 448.3 1565.9 455.7 1565.7 C463.2 1565.6 471.3 1565.6 478 1566.8 C484.7 1568.1 491 1570.6 495.8 1573.5 C500.6 1576.5 504.3 1579.8 506.9 1584.6 C509.5 1589.5 510.6 1597.1 511.4 1602.4 C512.1 1607.8 511.4 1614.5 511.4 1616.9" fill="none" stroke="#000" stroke-width="4.2" stroke-linecap="round" stroke-linejoin="round"/>
<path d="M397.9 1595.8 C397.3 1598.4 395 1605.8 394.6 1611.3 C394.1 1616.9 394.5 1624 395.2 1629.1 C396 1634.3 398.4 1640.3 399 1642.5" fill="none" stroke="#000" stroke-width="4.2" stroke-linecap="round" stroke-linejoin="round"/>
<path d="M369 1575.7 C370.5 1577.2 373.8 1581.3 377.9 1584.6 C382 1588 387.9 1591.7 393.4 1595.8 C399 1599.9 406.1 1605.4 411.2 1609.1 C416.4 1612.8 419.4 1615.8 424.6 1618 C429.8 1620.2 435.4 1621.5 442.4 1622.5 C449.4 1623.4 459.1 1623.8 466.9 1623.6 C474.7 1623.4 481.7 1622.5 489.1 1621.4 C496.5 1620.2 502.1 1618.9 511.4 1616.9 C520.6 1614.9 532.9 1611.7 544.7 1609.1 C556.6 1606.5 571.4 1603.6 582.6 1601.3 C593.7 1599.1 601.3 1597.8 611.5 1595.8 C621.7 1593.7 638.4 1590.2 643.8 1589.1" fill="none" stroke="#000" stroke-width="4.2" stroke-linecap="round" stroke-linejoin="round"/>
<path d="M482.4 1564.6 C485.4 1563.5 493.6 1559.6 500.2 1557.9 C506.9 1556.3 515.1 1555 522.5 1554.6 C529.9 1554.2 537.3 1554.1 544.7 1555.7 C552.2 1557.4 561.1 1560.9 567 1564.6 C572.9 1568.3 577.6 1573.2 580.3 1578 C583.1 1582.8 583.1 1589.7 583.7 1593.5 C584.2 1597.4 583.7 1600 583.7 1601.3" fill="none" stroke="#000" stroke-width="4.2" stroke-linecap="round" stroke-linejoin="round"/>
<path d="M538.1 1551.3 C542.9 1550.8 558.5 1549.2 567 1548.6 C575.5 1548 581.8 1547.1 589.2 1547.9 C596.7 1548.8 604.1 1551.5 611.5 1553.5 C618.9 1555.5 628.2 1557.6 633.7 1560.2 C639.3 1562.8 642.8 1565.7 644.9 1569.1 C646.9 1572.4 646.2 1576.9 646 1580.2 C645.8 1583.5 644.1 1587.6 643.8 1589.1" fill="none" stroke="#000" stroke-width="4.2" stroke-linecap="round" stroke-linejoin="round"/>
<path d="M438.4 1591.3 C438.5 1596.1 439.1 1611.7 439.1 1620.2 C439.1 1628.8 438.7 1633.6 438.4 1642.5 C438.1 1651.4 437.7 1668.5 437.5 1673.6" fill="none" stroke="#000" stroke-width="4.2" stroke-linecap="round" stroke-linejoin="round"/>
<path d="M511.4 1618 C511.7 1621.4 513.8 1630.3 513.6 1638 C513.4 1645.8 510.8 1660.3 510.3 1664.7" fill="none" stroke="#000" stroke-width="4.2" stroke-linecap="round" stroke-linejoin="round"/>
<path d="M583.7 1602.4 C584.1 1605.4 586.1 1613 585.9 1620.2 C585.7 1627.5 583.1 1641.6 582.6 1645.8" fill="none" stroke="#000" stroke-width="4.2" stroke-linecap="round" stroke-linejoin="round"/>
<path d="M643.8 1589.1 C644.1 1591.3 646 1597.3 646 1602.4 C646 1607.6 645.1 1615.4 643.8 1620.2 C642.5 1625.1 639.9 1628.8 638.2 1631.4 C636.5 1634 634.5 1635.1 633.7 1635.8" fill="none" stroke="#000" stroke-width="4.2" stroke-linecap="round" stroke-linejoin="round"/>
<path d="M437.9 1674.8 C440.9 1675.1 449.1 1677 455.7 1677 C462.4 1677 468.9 1676.8 478 1674.8 C487.1 1672.7 501 1667.2 510.3 1664.7 C519.5 1662.3 526 1661.8 533.6 1660.3 C541.2 1658.8 547.7 1658.1 555.9 1655.8 C564 1653.6 573.3 1649.2 582.6 1646.9 C591.8 1644.7 603 1644.4 611.5 1642.5 C620 1640.6 630 1636.9 633.7 1635.8" fill="none" stroke="#000" stroke-width="4.2" stroke-linecap="round" stroke-linejoin="round"/>
<path d="M362.3 1473.4 L371.6 1479" fill="none" stroke="#000" stroke-width="4.2" stroke-linecap="round" stroke-linejoin="round"/>
<path d="M451.3 1678.5 L490.2 1674.1" fill="none" stroke="#000" stroke-width="4" stroke-linecap="round" stroke-linejoin="round"/>
<path d="M602.6 1645.2 L633.7 1637.6" fill="none" stroke="#000" stroke-width="4" stroke-linecap="round" stroke-linejoin="round"/>
<path d="M358.9 1440.5 L533.6 1436" stroke="#000" stroke-width="2.2" fill="none"/>
<path d="M348.1 1440.8 L366.2 1445.9 L360.7 1440.5 L365.9 1434.7 Z" fill="#000"/>
<path d="M544.4 1435.7 L526.6 1441.8 L531.8 1436 L526.3 1430.6 Z" fill="#000"/>
<g transform="translate(438.4 1426.8) rotate(0) scale(0.9441 1)"><text x="-11.5" y="7.6" font-family="Liberation Serif" font-size="23.12" font-weight="normal" fill="#000">89</text></g>
<path d="M320.9 1478.3 L319.6 1572.7" stroke="#000" stroke-width="2.2" fill="none"/>
<path d="M321.1 1467.5 L315.2 1485.4 L320.9 1480.1 L326.4 1485.6 Z" fill="#000"/>
<path d="M319.4 1583.5 L314.1 1565.4 L319.6 1570.9 L325.3 1565.6 Z" fill="#000"/>
<g transform="translate(298.3 1517.7) rotate(0) scale(0.8639 1)"><text x="-11.4" y="7.4" font-family="Liberation Serif" font-size="22.67" font-weight="normal" fill="#000">68</text></g>
<path d="M326.5 1596.6 L388.1 1677.3" stroke="#000" stroke-width="2.2" fill="none"/>
<path d="M320 1588 L326.5 1605.7 L327.6 1598 L335.4 1598.9 Z" fill="#000"/>
<path d="M394.6 1685.9 L379.2 1675 L387 1675.9 L388.1 1668.2 Z" fill="#000"/>
<g transform="translate(338.9 1639.2) rotate(53) scale(0.8846 1)"><text x="-17.2" y="7.3" font-family="Liberation Serif" font-size="22.23" font-weight="normal" fill="#000">105</text></g>
<path d="M594.5 1506.3 L645.7 1519.9" stroke="#000" stroke-width="1.8" fill="none"/>
<path d="M585.2 1503.9 L599.4 1512.6 L596 1506.8 L601.9 1503.3 Z" fill="#000"/>
<path d="M655 1522.3 L638.3 1522.9 L644.2 1519.4 L640.8 1513.6 Z" fill="#000"/>
<g transform="translate(622.1 1528.2) rotate(0) scale(0.7853 1)"><text x="-12.9" y="8.4" font-family="Liberation Serif" font-size="25.64" font-weight="normal" fill="#000">68</text></g>
<path d="M675.2 1571.4 L675.2 1629.4" stroke="#000" stroke-width="2.2" fill="none"/>
<path d="M675.2 1560.6 L669.6 1578.6 L675.2 1573.2 L680.8 1578.6 Z" fill="#000"/>
<path d="M675.2 1640.2 L669.6 1622.2 L675.2 1627.6 L680.8 1622.2 Z" fill="#000"/>
<g transform="translate(689.1 1598.9) rotate(0) scale(0.8907 1)"><text x="-10.4" y="7.1" font-family="Liberation Serif" font-size="21.60" font-weight="normal" fill="#000">42</text></g>
<path d="M1051.7 1517.7 C1051.2 1515 1049.1 1507.6 1048.7 1501.6 C1048.3 1495.6 1048.3 1487.4 1049.2 1481.8 C1050.1 1476.2 1052.1 1471 1054.2 1468.2 C1056.2 1465.4 1055.4 1465.9 1061.6 1465 C1067.8 1464 1080.1 1463.1 1091.2 1462.5 C1102.4 1461.9 1116 1462 1128.3 1461.5 C1140.7 1461 1153.1 1460.3 1165.4 1459.6 C1177.8 1458.8 1190.1 1457.7 1202.5 1457.1 C1214.9 1456.5 1229.3 1455.9 1239.6 1455.8 C1249.9 1455.8 1255.2 1456.3 1264.3 1456.6 C1273.4 1456.9 1287.4 1456.5 1294 1457.6 C1300.6 1458.7 1301.7 1460 1303.9 1463.3 C1306 1466.5 1306.2 1472 1306.8 1476.9 C1307.4 1481.7 1307.5 1487.7 1307.4 1492.4 C1307.3 1497 1306.4 1500.6 1306.1 1504.7 C1305.8 1508.8 1305.6 1512.1 1305.5 1517.1 C1305.4 1522 1305.5 1531.5 1305.5 1534.4" fill="none" stroke="#000" stroke-width="4.2" stroke-linecap="round" stroke-linejoin="round"/>
<path d="M1059.1 1468.2 L1070.2 1472.7" fill="none" stroke="#000" stroke-width="4.2" stroke-linecap="round" stroke-linejoin="round"/>
<path d="M1050.5 1520.1 C1052.3 1520.1 1056.8 1519.9 1061.6 1520.1 C1066.3 1520.3 1071.9 1521.8 1078.9 1521.4 C1085.9 1520.9 1093.7 1518.7 1103.6 1517.7 C1113.5 1516.6 1127.9 1516.4 1138.2 1515.2 C1148.5 1513.9 1154.7 1511.7 1165.4 1510.2 C1176.1 1508.8 1192.2 1507.2 1202.5 1506.5 C1212.8 1505.8 1217.3 1506.2 1227.2 1506 C1237.1 1505.8 1249.1 1505.6 1261.8 1505.3 C1274.6 1505 1296.9 1504.3 1303.9 1504.1" fill="none" stroke="#000" stroke-width="4.2" stroke-linecap="round" stroke-linejoin="round"/>
<path d="M1128.3 1462 C1129.8 1464.1 1135 1469 1137 1474.4 C1139 1479.7 1139.6 1487.4 1140.2 1494.2 C1140.8 1501 1140 1509 1140.7 1515.2 C1141.4 1521.4 1143.2 1525.7 1144.4 1531.2 C1145.6 1536.8 1147.1 1545.7 1147.6 1548.6" fill="none" stroke="#000" stroke-width="4.2" stroke-linecap="round" stroke-linejoin="round"/>
<path d="M1197.6 1457.6 C1198.8 1459.6 1203.3 1464.2 1205 1469.4 C1206.6 1474.7 1206.9 1483 1207.4 1489.2 C1207.9 1495.4 1207.1 1500.8 1207.9 1506.5 C1208.8 1512.3 1211.1 1518.5 1212.4 1523.8 C1213.6 1529.2 1214.9 1536.2 1215.4 1538.7" fill="none" stroke="#000" stroke-width="4.2" stroke-linecap="round" stroke-linejoin="round"/>
<path d="M1251.9 1456.6 C1253 1458.3 1256.7 1462.4 1258.1 1467 C1259.6 1471.6 1260.1 1477.9 1260.6 1484.3 C1261.1 1490.7 1260.7 1499.5 1261.3 1505.3 C1262 1511.1 1263.6 1514.1 1264.3 1518.9 C1265 1523.6 1265.3 1531.2 1265.5 1533.7" fill="none" stroke="#000" stroke-width="4.2" stroke-linecap="round" stroke-linejoin="round"/>
<path d="M1051.7 1520.1 C1051.2 1522.8 1049.1 1530.6 1048.7 1536.2 C1048.3 1541.8 1048.7 1548.8 1049.2 1553.5 C1049.7 1558.2 1051.5 1560.5 1051.7 1564.6 C1051.9 1568.7 1050 1573.5 1050.5 1578.2 C1050.9 1583 1052.3 1588.5 1054.2 1593.1 C1056 1597.6 1059.5 1602.3 1061.6 1605.4 C1063.6 1608.5 1065.7 1610.6 1066.5 1611.6" fill="none" stroke="#000" stroke-width="4.2" stroke-linecap="round" stroke-linejoin="round"/>
<path d="M1065.3 1578.2 C1065.1 1580.7 1063.6 1587.3 1064.1 1593.1 C1064.5 1598.8 1065.3 1606.7 1067.8 1612.8 C1070.2 1619 1074.6 1624.8 1078.9 1630.1 C1083.2 1635.5 1088.8 1640.4 1093.7 1645 C1098.7 1649.5 1103.6 1652.8 1108.6 1657.3 C1113.5 1661.9 1119.3 1668.2 1123.4 1672.2 C1127.5 1676.1 1130 1678.5 1133.3 1680.8 C1136.6 1683.1 1141.5 1684.9 1143.2 1685.8" fill="none" stroke="#000" stroke-width="4.2" stroke-linecap="round" stroke-linejoin="round"/>
<path d="M1065.3 1577 C1067.6 1575.5 1072.5 1571 1078.9 1568.3 C1085.3 1565.7 1094.5 1563.2 1103.6 1560.9 C1112.7 1558.6 1124.2 1556 1133.3 1554.7 C1142.3 1553.5 1151.4 1553.1 1158 1553.5 C1164.6 1553.9 1169.1 1555.6 1172.8 1557.2 C1176.5 1558.9 1179 1562.4 1180.2 1563.4" fill="none" stroke="#000" stroke-width="4.2" stroke-linecap="round" stroke-linejoin="round"/>
<path d="M1165.4 1551 C1169.5 1550.2 1181.9 1547.3 1190.1 1546.1 C1198.4 1544.8 1207.9 1544 1214.9 1543.6 C1221.9 1543.2 1227.2 1542.8 1232.2 1543.6 C1237.1 1544.4 1241.6 1547.1 1244.5 1548.6 C1247.4 1550 1248.6 1551.6 1249.5 1552.3" fill="none" stroke="#000" stroke-width="4.2" stroke-linecap="round" stroke-linejoin="round"/>
<path d="M1230.9 1539.9 C1234.4 1539.3 1244.3 1537 1251.9 1536.2 C1259.6 1535.4 1269.2 1534.5 1276.7 1535 C1284.1 1535.4 1292.3 1537.4 1296.4 1538.7 C1300.6 1539.9 1300.6 1541.8 1301.4 1542.4" fill="none" stroke="#000" stroke-width="4.2" stroke-linecap="round" stroke-linejoin="round"/>
<path d="M1240 1536.9 C1242.1 1536.7 1248.2 1535.9 1252.4 1535.6 C1256.5 1535.3 1260.2 1534.9 1264.7 1535 C1269.3 1535.1 1274.8 1536.3 1279.6 1536.2 C1284.3 1536.1 1288.8 1534.8 1293.2 1534.4 C1297.5 1534 1301 1533.3 1305.5 1533.8 C1310 1534.2 1315.2 1535.6 1320.3 1537.1 C1325.5 1538.6 1330.2 1541.4 1336.4 1542.8 C1342.6 1544.2 1350.8 1544.4 1357.4 1545.5 C1364 1546.6 1370.4 1547.6 1376 1549.2 C1381.5 1550.9 1386.7 1553.1 1390.8 1555.4 C1394.9 1557.7 1398.5 1559.9 1400.7 1562.8 C1402.9 1565.7 1403.4 1569.6 1403.8 1572.7 C1404.2 1575.8 1403.4 1578.3 1402.9 1581.4 C1402.4 1584.4 1401.7 1587.5 1400.7 1591.2 C1399.7 1595 1398.2 1599.5 1397 1603.6 C1395.7 1607.7 1394.5 1612.1 1393.3 1616 C1392 1619.9 1390.6 1624.8 1389.6 1627.1 C1388.5 1629.4 1387.5 1629.2 1387.1 1629.6" fill="none" stroke="#000" stroke-width="4.2" stroke-linecap="round" stroke-linejoin="round"/>
<path d="M1279.6 1536.2 C1281.6 1536.8 1288.6 1538.2 1291.9 1539.3 C1295.2 1540.5 1297.1 1542.1 1299.3 1543 C1301.6 1544 1302.6 1544.8 1305.5 1544.9 C1308.4 1545 1313.1 1544 1316.6 1543.7 C1320.1 1543.3 1323.2 1543.2 1326.5 1543 C1329.8 1542.9 1334.8 1542.8 1336.4 1542.8" fill="none" stroke="#000" stroke-width="4.2" stroke-linecap="round" stroke-linejoin="round"/>
<path d="M1093.7 1602.9 C1094.1 1600.5 1093.3 1592.4 1096.2 1588.1 C1099.1 1583.8 1104.8 1580.1 1111 1577 C1117.2 1573.9 1125.4 1571.4 1133.3 1569.6 C1141.1 1567.7 1149.8 1566.1 1158 1565.9 C1166.2 1565.6 1175.3 1566.2 1182.7 1567.8 C1190.1 1569.5 1197.1 1572 1202.5 1575.7 C1207.9 1579.5 1212 1585.2 1214.9 1590.6 C1217.7 1595.9 1219.2 1602.5 1219.8 1607.9 C1220.4 1613.2 1218.8 1620.2 1218.6 1622.7" fill="none" stroke="#000" stroke-width="4.2" stroke-linecap="round" stroke-linejoin="round"/>
<path d="M1095.7 1593.1 C1095.3 1596.3 1093.7 1606.2 1093.2 1612.8 C1092.7 1619.4 1092.2 1626.4 1092.7 1632.6 C1093.2 1638.8 1094.7 1645.6 1096.2 1649.9 C1097.7 1654.2 1100.7 1657.1 1101.6 1658.6" fill="none" stroke="#000" stroke-width="4.2" stroke-linecap="round" stroke-linejoin="round"/>
<path d="M1065.3 1578.2 C1067.6 1580.3 1073.7 1586.5 1078.9 1590.6 C1084 1594.7 1089.6 1598.4 1096.2 1602.9 C1102.8 1607.5 1111 1613.9 1118.4 1617.8 C1125.9 1621.7 1132.9 1624.8 1140.7 1626.4 C1148.5 1628.1 1157.2 1627.7 1165.4 1627.7 C1173.7 1627.7 1181.5 1627.5 1190.1 1626.4 C1198.8 1625.4 1207 1623.3 1217.3 1621.5 C1227.6 1619.6 1238.3 1618.2 1251.9 1615.3 C1265.5 1612.4 1284.5 1607.5 1298.9 1604.2 C1313.3 1600.9 1327.7 1598.1 1338.5 1595.5 C1349.3 1593 1356.3 1590.6 1363.6 1588.8 C1370.9 1586.9 1376.2 1585.8 1382.2 1584.4 C1388.1 1583.1 1396.6 1581.4 1399.5 1580.7" fill="none" stroke="#000" stroke-width="4.2" stroke-linecap="round" stroke-linejoin="round"/>
<path d="M1187.7 1565.9 C1192.2 1564.4 1206.2 1559.1 1214.9 1557.2 C1223.5 1555.4 1231.3 1554.9 1239.6 1554.7 C1247.8 1554.5 1256.9 1554.1 1264.3 1556 C1271.7 1557.8 1278.9 1561.7 1284.1 1565.9 C1289.2 1570 1292.7 1575.3 1295.2 1580.7 C1297.7 1586 1298.4 1593.9 1298.9 1598 C1299.4 1602.1 1298.5 1604.2 1298.4 1605.4" fill="none" stroke="#000" stroke-width="4.2" stroke-linecap="round" stroke-linejoin="round"/>
<path d="M1249.9 1550.5 C1252.4 1550 1259.2 1548.4 1264.7 1547.7 C1270.3 1547.1 1277.1 1546.8 1283.3 1546.7 C1289.4 1546.7 1295.6 1547.2 1301.8 1547.4 C1308 1547.6 1314.6 1547.5 1320.3 1548 C1326.1 1548.5 1331.7 1549.4 1336.4 1550.5 C1341.2 1551.5 1345.3 1552.5 1348.8 1554.2 C1352.3 1555.8 1355 1558.3 1357.4 1560.3 C1359.9 1562.4 1362.2 1563.8 1363.6 1566.5 C1365.1 1569.2 1365.8 1572.7 1366.1 1576.4 C1366.4 1580.1 1365.9 1586.3 1365.5 1588.8 C1365.1 1591.2 1363.9 1590.8 1363.6 1591.2" fill="none" stroke="#000" stroke-width="4.2" stroke-linecap="round" stroke-linejoin="round"/>
<path d="M1141.2 1594.3 C1141.3 1600.3 1141.9 1620 1141.9 1630.1 C1141.9 1640.2 1141.5 1646 1141.2 1654.9 C1140.9 1663.7 1140.4 1678.5 1140.2 1683.3" fill="none" stroke="#000" stroke-width="4.2" stroke-linecap="round" stroke-linejoin="round"/>
<path d="M1218.6 1622.7 C1219 1626 1220.8 1635.9 1221 1642.5 C1221.2 1649.1 1220.6 1657.3 1219.8 1662.3 C1219 1667.2 1216.7 1670.5 1216.1 1672.2" fill="none" stroke="#000" stroke-width="4.2" stroke-linecap="round" stroke-linejoin="round"/>
<path d="M1298.9 1605.4 C1299.3 1608.7 1301.4 1619 1301.4 1625.2 C1301.4 1631.4 1300.1 1637.6 1298.9 1642.5 C1297.7 1647.4 1294.8 1652.8 1294 1654.9" fill="none" stroke="#000" stroke-width="4.2" stroke-linecap="round" stroke-linejoin="round"/>
<path d="M1363.6 1591.2 C1364.1 1593.3 1366.3 1598.5 1366.7 1603.6 C1367.1 1608.8 1367.4 1616.8 1366.1 1622.2 C1364.7 1627.5 1359.9 1633.5 1358.7 1635.7" fill="none" stroke="#000" stroke-width="4.2" stroke-linecap="round" stroke-linejoin="round"/>
<path d="M1140.2 1684.5 C1144.4 1684.5 1157.1 1685.1 1165.4 1684.5 C1173.7 1683.9 1181.5 1682.9 1190.1 1680.8 C1198.8 1678.8 1207 1674.6 1217.3 1672.2 C1227.6 1669.7 1242.1 1668 1251.9 1666 C1261.8 1663.9 1269.2 1661.9 1276.7 1659.8 C1284.1 1657.7 1288.2 1655.7 1296.4 1653.6 C1304.7 1651.6 1319 1649.2 1326.1 1647.4 C1333.2 1645.7 1333.5 1645 1338.9 1643.2 C1344.3 1641.3 1355.4 1637.5 1358.7 1636.4" fill="none" stroke="#000" stroke-width="4.2" stroke-linecap="round" stroke-linejoin="round"/>
<path d="M1156.8 1688.7 L1197.6 1683.8" fill="none" stroke="#000" stroke-width="5" stroke-linecap="round" stroke-linejoin="round"/>
<path d="M1359.7 1639.7 L1389.3 1633.5" fill="none" stroke="#000" stroke-width="4.5" stroke-linecap="round" stroke-linejoin="round"/>
<path d="M1053.8 1431.3 L1282.5 1424.8" stroke="#000" stroke-width="2.2" fill="none"/>
<path d="M1043 1431.6 L1061.2 1436.7 L1055.6 1431.2 L1060.8 1425.5 Z" fill="#000"/>
<path d="M1293.3 1424.5 L1275.5 1430.6 L1280.7 1424.9 L1275.1 1419.4 Z" fill="#000"/>
<g transform="translate(1164.6 1416.8) rotate(0) scale(0.9097 1)"><text x="-18" y="7.6" font-family="Liberation Serif" font-size="23.22" font-weight="normal" fill="#000">123</text></g>
<path d="M1009.2 1472.3 L1009.2 1574.3" stroke="#000" stroke-width="2.2" fill="none"/>
<path d="M1009.2 1461.5 L1003.6 1479.5 L1009.2 1474.1 L1014.8 1479.5 Z" fill="#000"/>
<path d="M1009.2 1585.1 L1003.6 1567.1 L1009.2 1572.5 L1014.8 1567.1 Z" fill="#000"/>
<g transform="translate(985.1 1514.6) rotate(0) scale(0.9738 1)"><text x="-10.3" y="6.7" font-family="Liberation Serif" font-size="20.45" font-weight="normal" fill="#000">68</text></g>
<path d="M1014.3 1597.9 L1082.2 1687" stroke="#000" stroke-width="2.2" fill="none"/>
<path d="M1007.7 1589.3 L1014.2 1607 L1015.3 1599.3 L1023.1 1600.2 Z" fill="#000"/>
<path d="M1088.8 1695.6 L1073.4 1684.7 L1081.2 1685.6 L1082.3 1677.9 Z" fill="#000"/>
<g transform="translate(1029.4 1646.2) rotate(53) scale(0.9174 1)"><text x="-17.2" y="7.3" font-family="Liberation Serif" font-size="22.23" font-weight="normal" fill="#000">105</text></g>
<path d="M1324.7 1506.6 L1375.3 1520.1" stroke="#000" stroke-width="1.8" fill="none"/>
<path d="M1315.4 1504.1 L1329.6 1512.9 L1326.2 1507 L1332.1 1503.6 Z" fill="#000"/>
<path d="M1384.6 1522.6 L1367.9 1523.1 L1373.8 1519.7 L1370.4 1513.8 Z" fill="#000"/>
<g transform="translate(1354 1527.6) rotate(0) scale(0.8812 1)"><text x="-11.9" y="7.8" font-family="Liberation Serif" font-size="23.71" font-weight="normal" fill="#000">68</text></g>
<path d="M1425.4 1563.1 L1425.4 1627.4" stroke="#000" stroke-width="2.2" fill="none"/>
<path d="M1425.4 1552.3 L1419.8 1570.3 L1425.4 1564.9 L1431 1570.3 Z" fill="#000"/>
<path d="M1425.4 1638.2 L1419.8 1620.2 L1425.4 1625.6 L1431 1620.2 Z" fill="#000"/>
<g transform="translate(1439.8 1593.3) rotate(0) scale(0.9602 1)"><text x="-11.3" y="7.8" font-family="Liberation Serif" font-size="23.41" font-weight="normal" fill="#000">42</text></g>
<path d="M361.8 2015.1 C362.4 2012.1 362.1 2001.8 365.1 1996.8 C368.2 1991.8 373.2 1988.6 380.2 1985.1 C387.1 1981.7 397.4 1978.3 406.9 1976.1 C416.3 1973.9 426.9 1972.2 436.9 1971.8 C446.9 1971.3 458 1971.8 466.9 1973.4 C475.8 1975.1 484.2 1978.7 490.3 1981.8 C496.4 1984.8 501.4 1990.1 503.6 1991.8" fill="none" stroke="#000" stroke-width="5.0" stroke-linecap="round" stroke-linejoin="round"/>
<path d="M470.3 1975.1 C475.3 1973.7 489.7 1968.7 500.3 1966.7 C510.9 1964.8 524.2 1964 533.7 1963.4 C543.1 1962.9 551.5 1962 557 1963.4 C562.6 1964.8 563.4 1968.7 567.1 1971.8 C570.7 1974.8 576.8 1980.1 578.7 1981.8" fill="none" stroke="#000" stroke-width="5.0" stroke-linecap="round" stroke-linejoin="round"/>
<path d="M557 1961.7 C561.5 1961.2 573.7 1958.7 583.7 1958.4 C593.8 1958.1 607.7 1958.4 617.1 1960.1 C626.6 1961.7 635.5 1966.5 640.5 1968.4 C645.5 1970.4 646 1971.2 647.2 1971.8" fill="none" stroke="#000" stroke-width="5.0" stroke-linecap="round" stroke-linejoin="round"/>
<path d="M603.8 1980.1 C608.8 1979 623.2 1974.5 633.8 1973.4 C644.4 1972.3 658.3 1972.3 667.2 1973.4 C676.1 1974.5 682.5 1978.2 687.2 1980.1 C691.9 1982 694.2 1984.3 695.6 1985.1" fill="none" stroke="#000" stroke-width="5.0" stroke-linecap="round" stroke-linejoin="round"/>
<path d="M535.4 2015.1 C534.5 2013.8 533.4 2009.6 530.3 2006.8 C527.3 2004 522.6 2001 517 1998.5 C511.4 1996 505.3 1993.1 497 1991.8 C488.6 1990.5 476.9 1990.2 466.9 1990.8 C456.9 1991.3 446.4 1993 436.9 1995.1 C427.4 1997.2 416.9 1999.8 410.2 2003.5 C403.5 2007.1 399.6 2010.7 396.8 2016.8 C394.1 2022.9 394.3 2032.4 393.5 2040.2 C392.7 2048 391.8 2054.6 391.8 2063.5 C391.8 2072.4 391.6 2085.2 393.5 2093.6 C395.5 2101.9 398.5 2107.8 403.5 2113.6 C408.5 2119.4 420.2 2126.1 423.5 2128.6" fill="none" stroke="#000" stroke-width="5.0" stroke-linecap="round" stroke-linejoin="round"/>
<path d="M513.7 1993.4 C519.8 1992.3 538.7 1988.2 550.4 1986.8 C562.1 1985.4 574.8 1984.8 583.7 1985.1 C592.6 1985.4 598.8 1986.8 603.8 1988.4 C608.8 1990.1 611 1993.2 613.8 1995.1 C616.6 1997.1 619.3 1999.3 620.5 2000.1" fill="none" stroke="#000" stroke-width="5.0" stroke-linecap="round" stroke-linejoin="round"/>
<path d="M623.8 1996.8 C628.2 1995.7 640.5 1991.7 650.5 1990.1 C660.5 1988.6 673.9 1986.9 683.9 1987.4 C693.9 1988 702.2 1990.2 710.6 1993.4 C718.9 1996.7 727.3 2001.8 733.9 2006.8 C740.6 2011.8 746.7 2017.9 750.6 2023.5 C754.5 2029 756.1 2034.6 757.3 2040.2 C758.5 2045.7 757.8 2054.1 758 2056.9" fill="none" stroke="#000" stroke-width="5.0" stroke-linecap="round" stroke-linejoin="round"/>
<path d="M582.1 2093.6 C582.4 2092.5 583.5 2092.5 583.7 2086.9 C584 2081.3 584.9 2068 583.7 2060.2 C582.6 2052.4 581 2046 577.1 2040.2 C573.2 2034.3 567.6 2029.3 560.4 2025.2 C553.2 2021 544.3 2016.8 533.7 2015.1 C523.1 2013.5 508.1 2014.3 497 2015.1 C485.8 2016 475.8 2017.1 466.9 2020.1 C458 2023.2 449.7 2027.9 443.6 2033.5 C437.5 2039.1 433.3 2046.3 430.2 2053.5 C427.2 2060.8 426.4 2069.1 425.2 2076.9 C424 2084.7 423 2091.9 422.9 2100.2 C422.7 2108.6 422.9 2119.7 424.2 2126.9 C425.6 2134.2 429.8 2140.9 430.9 2143.6" fill="none" stroke="#000" stroke-width="5.0" stroke-linecap="round" stroke-linejoin="round"/>
<path d="M540.4 2015.1 C544.8 2013.5 557 2007.2 567.1 2005.1 C577.1 2003.1 589.3 2002.8 600.4 2002.8 C611.6 2002.8 624.9 2002.8 633.8 2005.1 C642.7 2007.5 648.3 2011.5 653.8 2016.8 C659.4 2022.1 664.1 2029.6 667.2 2036.8 C670.2 2044.1 671.5 2054.4 672.2 2060.2 C672.9 2066 671.4 2069.9 671.2 2071.9" fill="none" stroke="#000" stroke-width="5.0" stroke-linecap="round" stroke-linejoin="round"/>
<path d="M361.8 2021.8 C364.3 2023.8 371 2029.3 376.8 2033.5 C382.7 2037.7 390.2 2042.4 396.8 2046.8 C403.5 2051.3 411.3 2056 416.9 2060.2 C422.4 2064.4 424.7 2068 430.2 2071.9 C435.8 2075.8 442.5 2080.2 450.2 2083.6 C458 2086.9 465.8 2090 476.9 2091.9 C488.1 2093.9 504.8 2095 517 2095.2 C529.2 2095.5 539.2 2094.7 550.4 2093.6 C561.5 2092.5 572.6 2090.8 583.7 2088.6 C594.9 2086.3 606 2083 617.1 2080.2 C628.2 2077.4 639.4 2074.4 650.5 2071.9 C661.6 2069.4 672.7 2067.2 683.9 2065.2 C695 2063.3 705.3 2062 717.2 2060.2 C729.2 2058.4 749.2 2055.2 755.6 2054.2" fill="none" stroke="#000" stroke-width="5.0" stroke-linecap="round" stroke-linejoin="round"/>
<path d="M361.8 2016.8 C361.2 2020.7 358.7 2032.9 358.5 2040.2 C358.2 2047.4 358.2 2053.5 360.1 2060.2 C362.1 2066.9 365.1 2073.5 370.1 2080.2 C375.2 2086.9 383.5 2094.1 390.2 2100.2 C396.8 2106.4 404.1 2111.4 410.2 2116.9 C416.3 2122.5 421.3 2128.1 426.9 2133.6 C432.4 2139.2 438.6 2144.7 443.6 2150.3 C448.6 2155.9 452.2 2162.1 456.9 2167 C461.7 2171.9 469.4 2177.6 471.9 2179.7" fill="none" stroke="#000" stroke-width="5.0" stroke-linecap="round" stroke-linejoin="round"/>
<path d="M476.9 2051.9 C477.1 2057.1 477.6 2072.7 477.6 2083.6 C477.6 2094.4 477.3 2105.8 476.9 2116.9 C476.6 2128.1 475.7 2139.2 475.3 2150.3 C474.8 2161.4 474.4 2178.1 474.3 2183.7" fill="none" stroke="#000" stroke-width="5.0" stroke-linecap="round" stroke-linejoin="round"/>
<path d="M582.1 2093.6 C582.6 2098 585.4 2111.4 585.4 2120.3 C585.4 2129.2 583.2 2140.6 582.1 2147 C581 2153.4 579.3 2156.7 578.7 2158.7" fill="none" stroke="#000" stroke-width="5.0" stroke-linecap="round" stroke-linejoin="round"/>
<path d="M671.2 2071.9 C671.6 2076.6 674 2091.1 673.9 2100.2 C673.7 2109.4 671.6 2120.8 670.5 2126.9 C669.4 2133.1 667.7 2135.3 667.2 2137" fill="none" stroke="#000" stroke-width="5.0" stroke-linecap="round" stroke-linejoin="round"/>
<path d="M758 2056.9 C758.5 2061.3 761 2074.1 761.3 2083.6 C761.6 2093 761.1 2106.4 759.6 2113.6 C758.1 2120.8 754.3 2124.3 752.3 2126.9 C750.2 2129.6 748.1 2129.2 747.3 2129.6" fill="none" stroke="#000" stroke-width="5.0" stroke-linecap="round" stroke-linejoin="round"/>
<path d="M471.9 2180.3 C475 2180.6 482.8 2182.3 490.3 2182 C497.8 2181.7 507 2180.6 517 2178.7 C527 2176.7 540.1 2173.7 550.4 2170.3 C560.7 2167 567.6 2162 578.7 2158.7 C589.9 2155.3 605.2 2152.8 617.1 2150.3 C629.1 2147.8 642.2 2145.7 650.5 2143.6 C658.8 2141.5 658.8 2139.3 667.2 2137.6 C675.5 2136 687.2 2135.1 700.6 2133.6 C713.9 2132.2 739.5 2129.7 747.3 2128.9" fill="none" stroke="#000" stroke-width="5.0" stroke-linecap="round" stroke-linejoin="round"/>
<path d="M473.6 2185.4 L519.7 2181" fill="none" stroke="#000" stroke-width="5" stroke-linecap="round" stroke-linejoin="round"/>
<path d="M718.9 2133.6 L747.9 2127.6" fill="none" stroke="#000" stroke-width="5" stroke-linecap="round" stroke-linejoin="round"/>
<path d="M355.3 1935 L587.9 1911.9" stroke="#000" stroke-width="2.8" fill="none"/>
<path d="M337.4 1936.8 L368.1 1942.6 L358.3 1934.7 L366.4 1925.1 Z" fill="#000"/>
<path d="M605.8 1910.1 L576.8 1921.8 L584.9 1912.2 L575.1 1904.3 Z" fill="#000"/>
<g transform="translate(466.6 1907.2) rotate(-3) scale(0.8378 1)"><text x="-18.7" y="12.3" font-family="Liberation Serif" font-size="37.66" font-weight="normal" fill="#000">95</text></g>
<path d="M315.3 1980.2 L313.4 2047.5" stroke="#000" stroke-width="3" fill="none"/>
<path d="M315.8 1962.2 L306.2 1991.9 L315.2 1983.2 L323.8 1992.4 Z" fill="#000"/>
<path d="M312.9 2065.5 L304.9 2035.3 L313.5 2044.5 L322.5 2035.8 Z" fill="#000"/>
<g transform="translate(280.3 2013.2) rotate(0) scale(0.9177 1)"><text x="-16.2" y="11.2" font-family="Liberation Serif" font-size="33.68" font-weight="normal" fill="#000">42</text></g>
<path d="M324.2 2082.4 L422.3 2200.2" stroke="#000" stroke-width="3" fill="none"/>
<path d="M312.7 2068.6 L325.1 2097.3 L326.1 2084.7 L338.7 2086 Z" fill="#000"/>
<path d="M433.8 2214 L407.8 2196.6 L420.4 2197.9 L421.4 2185.3 Z" fill="#000"/>
<g transform="translate(345.6 2148.3) rotate(50) scale(0.9208 1)"><text x="-16.3" y="10.7" font-family="Liberation Serif" font-size="32.74" font-weight="normal" fill="#000">95</text></g>
<path d="M1126.1 2114.9 C1122.4 2111.3 1109.5 2101.3 1104.3 2093.2 C1099.1 2085 1096.1 2075 1094.8 2066 C1093.4 2056.9 1094.1 2047.4 1096.1 2038.8 C1098.2 2030.2 1101.6 2020.9 1107 2014.3 C1112.5 2007.7 1119.7 2003.1 1128.8 1999.3 C1137.8 1995.6 1151.4 1993.1 1161.4 1992 C1171.4 1990.9 1180.9 1992 1188.6 1992.5 C1196.3 1993.1 1202.7 1993.7 1207.6 1995.3 C1212.6 1996.9 1215.6 1999.3 1218.5 2002.1 C1221.5 2004.8 1224.2 2010 1225.3 2011.6" fill="none" stroke="#000" stroke-width="5.0" stroke-linecap="round" stroke-linejoin="round"/>
<path d="M1207.6 1993.9 C1211.7 1993 1223.5 1989.8 1232.1 1988.5 C1240.7 1987.1 1251.1 1986.2 1259.3 1985.7 C1267.5 1985.3 1275.6 1985.1 1281.1 1985.7 C1286.5 1986.4 1288.8 1988 1291.9 1989.8 C1295.1 1991.6 1297.8 1995 1300.1 1996.6 C1302.4 1998.2 1304.6 1998.9 1305.5 1999.3" fill="none" stroke="#000" stroke-width="5.0" stroke-linecap="round" stroke-linejoin="round"/>
<path d="M1282.4 1983 C1286.3 1982.1 1297.2 1978.9 1305.5 1977.6 C1313.9 1976.2 1324.6 1974.9 1332.7 1974.9 C1340.9 1974.9 1348.6 1976 1354.5 1977.6 C1360.4 1979.2 1365.8 1983.3 1368.1 1984.4" fill="none" stroke="#000" stroke-width="5.0" stroke-linecap="round" stroke-linejoin="round"/>
<path d="M1128.8 2117.6 C1127.6 2113.6 1123.1 2101.8 1122 2093.2 C1120.8 2084.6 1120.8 2075 1122 2066 C1123.1 2056.9 1125.4 2046.5 1128.8 2038.8 C1132.2 2031.1 1136.5 2024.3 1142.4 2019.7 C1148.3 2015.2 1155.1 2013 1164.1 2011.6 C1173.2 2010.1 1185.9 2010.8 1196.8 2011 C1207.6 2011.3 1221.2 2011.5 1229.4 2012.9 C1237.6 2014.4 1240.7 2016.3 1245.7 2019.7 C1250.7 2023.1 1255.2 2027.4 1259.3 2033.3 C1263.4 2039.2 1267.7 2046.9 1270.2 2055.1 C1272.7 2063.3 1274 2073.2 1274.3 2082.3 C1274.5 2091.4 1272.9 2100.4 1271.5 2109.5 C1270.2 2118.5 1267 2132.1 1266.1 2136.7" fill="none" stroke="#000" stroke-width="5.0" stroke-linecap="round" stroke-linejoin="round"/>
<path d="M1234.8 2014.3 C1238 2012.9 1246.6 2008.3 1253.9 2006.1 C1261.1 2004 1269.7 2002.1 1278.3 2001.2 C1287 2000.4 1298.3 2000 1305.5 2001.2 C1312.8 2002.5 1316.4 2004.9 1321.9 2008.9 C1327.3 2012.9 1333.6 2018.4 1338.2 2025.2 C1342.7 2032 1346.6 2041 1349 2049.7 C1351.5 2058.3 1352.9 2068.2 1353.1 2076.8 C1353.4 2085.5 1351.8 2094.1 1350.4 2101.3 C1349 2108.6 1345.9 2117.2 1345 2120.4" fill="none" stroke="#000" stroke-width="5.0" stroke-linecap="round" stroke-linejoin="round"/>
<path d="M1308.3 1998 C1312.3 1997.1 1324.1 1994.1 1332.7 1992.5 C1341.3 1991 1351.8 1988.7 1359.9 1988.5 C1368.1 1988.2 1374 1988.5 1381.7 1991.2 C1389.4 1993.9 1398.9 1999.1 1406.2 2004.8 C1413.4 2010.4 1420.7 2017.2 1425.2 2025.2 C1429.7 2033.1 1432 2043.8 1433.3 2052.4 C1434.7 2061 1434.3 2069.1 1433.3 2076.8 C1432.4 2084.6 1429.7 2093.2 1427.9 2098.6 C1426.1 2104 1423.4 2107.7 1422.5 2109.5" fill="none" stroke="#000" stroke-width="5.0" stroke-linecap="round" stroke-linejoin="round"/>
<path d="M1175.6 2059.2 C1174.8 2062.6 1172.2 2071.6 1170.9 2079.6 C1169.7 2087.5 1168.7 2097.7 1168.2 2106.8 C1167.8 2115.8 1168 2125.3 1168.2 2134 C1168.4 2142.6 1169.3 2154.4 1169.6 2158.4" fill="none" stroke="#000" stroke-width="5.0" stroke-linecap="round" stroke-linejoin="round"/>
<path d="M1126.1 2114.9 C1128.3 2117.6 1135.1 2126.3 1139.7 2131.2 C1144.2 2136.2 1149.6 2141 1153.3 2144.8 C1156.9 2148.7 1158.6 2151.6 1161.4 2154.4 C1164.2 2157.1 1165.6 2159.8 1170.1 2161.1 C1174.6 2162.5 1181.9 2162.7 1188.6 2162.5 C1195.3 2162.3 1202.2 2161.4 1210.4 2159.8 C1218.5 2158.2 1228.3 2156.2 1237.6 2153 C1246.8 2149.8 1257 2143.5 1266.1 2140.8 C1275.2 2138 1283.1 2138.3 1291.9 2136.7 C1300.8 2135.1 1310.3 2133.7 1319.1 2131.2 C1328 2128.7 1335.9 2124 1345 2121.7 C1354 2119.5 1364.2 2119.2 1373.5 2117.6 C1382.8 2116.1 1392.8 2113.9 1400.7 2112.2 C1408.6 2110.5 1417.7 2108.1 1421.1 2107.3" fill="none" stroke="#000" stroke-width="5.0" stroke-linecap="round" stroke-linejoin="round"/>
<path d="M1171.7 2166.6 L1207.6 2162.8" fill="none" stroke="#000" stroke-width="5.5" stroke-linecap="round" stroke-linejoin="round"/>
<path d="M1395.3 2116.3 L1421.1 2110.8" fill="none" stroke="#000" stroke-width="4.5" stroke-linecap="round" stroke-linejoin="round"/>
<path d="M1100.5 1967.6 L1304 1947.6" stroke="#000" stroke-width="3" fill="none"/>
<path d="M1082.6 1969.4 L1113.3 1975.2 L1103.5 1967.3 L1111.6 1957.7 Z" fill="#000"/>
<path d="M1321.9 1945.8 L1292.9 1957.5 L1301 1947.9 L1291.2 1940 Z" fill="#000"/>
<g transform="translate(1196.8 1943.3) rotate(-3) scale(0.9282 1)"><text x="-15.7" y="10.3" font-family="Liberation Serif" font-size="31.55" font-weight="normal" fill="#000">95</text></g>
<path d="M1060.4 2009.3 L1058.8 2069.3" stroke="#000" stroke-width="3.8" fill="none"/>
<path d="M1060.9 1992.5 L1051.5 2020.3 L1060.4 2012.1 L1068.7 2020.7 Z" fill="#000"/>
<path d="M1058.3 2086.1 L1050.5 2057.9 L1058.8 2066.5 L1067.7 2058.3 Z" fill="#000"/>
<path d="M1038.5 2028.6 C1038.8 2029.3 1040.2 2031.3 1040.3 2033 C1040.4 2034.7 1039.2 2038 1039 2039" fill="none" stroke="#000" stroke-width="1.8" stroke-linecap="round" stroke-linejoin="round"/>
<path d="M1038.5 2047.5 L1041.3 2044" fill="none" stroke="#000" stroke-width="1.8" stroke-linecap="round" stroke-linejoin="round"/>
<path d="M1071.9 2103.5 L1138 2172.6" stroke="#000" stroke-width="3" fill="none"/>
<path d="M1059.4 2090.5 L1073.8 2118.3 L1073.9 2105.7 L1086.5 2106.1 Z" fill="#000"/>
<path d="M1150.5 2185.6 L1123.4 2170 L1136 2170.4 L1136.1 2157.8 Z" fill="#000"/>
<g transform="translate(1086.6 2150.3) rotate(50) scale(0.8189 1)"><text x="-16.8" y="10.7" font-family="Liberation Serif" font-size="32.74" font-weight="normal" fill="#000">73</text></g>
</svg></body></html>
